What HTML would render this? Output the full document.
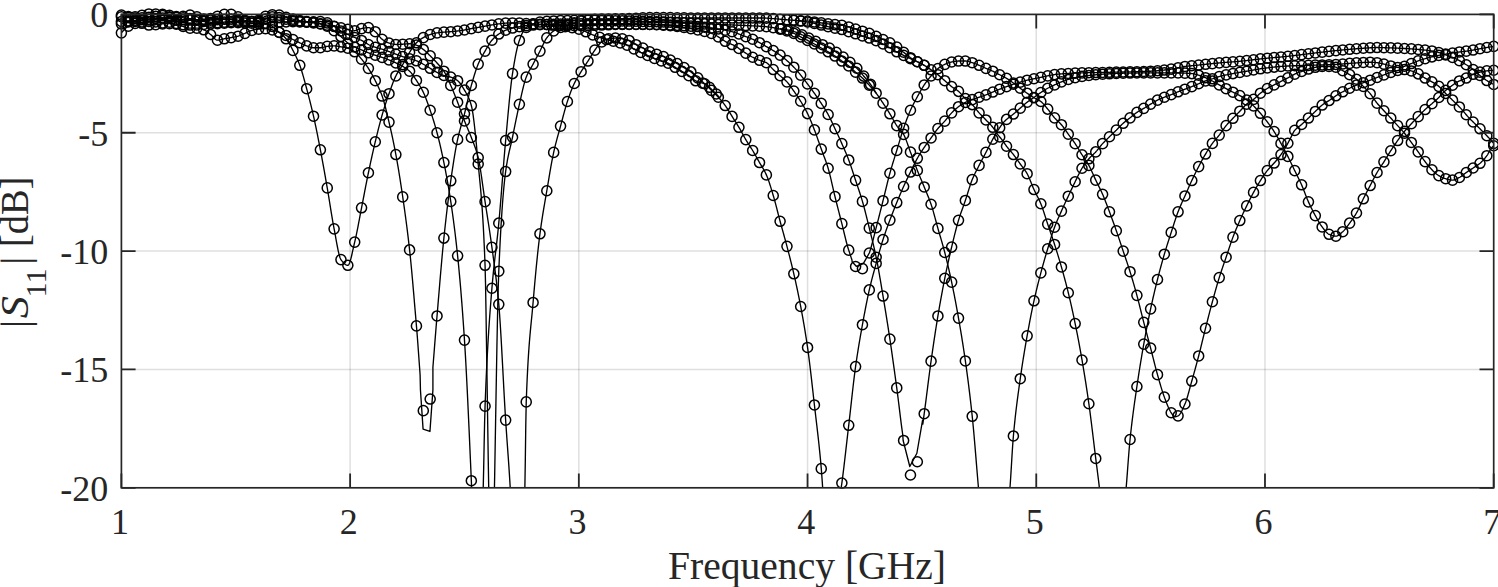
<!DOCTYPE html>
<html><head><meta charset="utf-8"><style>html,body{margin:0;padding:0;background:#fff;overflow:hidden}svg{display:block}</style></head>
<body><svg width="1498" height="587" viewBox="0 0 1498 587">
<defs><clipPath id="ax"><rect x="121.4" y="14.4" width="1372.3" height="473.40000000000003"/></clipPath></defs>
<rect width="1498" height="587" fill="#fff"/>
<g stroke="#262626" stroke-opacity="0.15" stroke-width="1.5"><line x1="350.12" y1="14.4" x2="350.12" y2="487.8"/><line x1="578.83" y1="14.4" x2="578.83" y2="487.8"/><line x1="807.55" y1="14.4" x2="807.55" y2="487.8"/><line x1="1036.27" y1="14.4" x2="1036.27" y2="487.8"/><line x1="1264.98" y1="14.4" x2="1264.98" y2="487.8"/><line x1="121.4" y1="132.75" x2="1493.7" y2="132.75"/><line x1="121.4" y1="251.10" x2="1493.7" y2="251.10"/><line x1="121.4" y1="369.45" x2="1493.7" y2="369.45"/></g>
<g clip-path="url(#ax)" fill="none" stroke="#000" stroke-width="1.35" stroke-linejoin="round"><polyline points="121.40,21.50 121.86,21.46 122.31,21.42 122.77,21.38 123.23,21.34 123.69,21.30 124.14,21.26 124.60,21.22 125.06,21.19 125.52,21.15 125.97,21.11 126.43,21.07 126.89,21.03 127.35,20.99 127.80,20.95 128.26,20.91 128.72,20.87 129.18,20.83 129.63,20.79 130.09,20.75 130.55,20.71 131.01,20.67 131.46,20.63 131.92,20.59 132.38,20.55 132.84,20.51 133.29,20.48 133.75,20.44 134.21,20.40 134.67,20.36 135.12,20.32 135.58,20.28 136.04,20.24 136.50,20.20 136.95,20.16 137.41,20.12 137.87,20.08 138.33,20.04 138.78,20.00 139.24,19.96 139.70,19.92 140.15,19.88 140.61,19.84 141.07,19.80 141.53,19.77 141.98,19.73 142.44,19.69 142.90,19.65 143.36,19.61 143.81,19.57 144.27,19.53 144.73,19.49 145.19,19.45 145.64,19.41 146.10,19.37 146.56,19.33 147.02,19.29 147.47,19.25 147.93,19.21 148.39,19.17 148.85,19.13 149.30,19.09 149.76,19.05 150.22,19.01 150.68,18.97 151.13,18.93 151.59,18.89 152.05,18.85 152.51,18.80 152.96,18.76 153.42,18.72 153.88,18.67 154.34,18.63 154.79,18.59 155.25,18.55 155.71,18.51 156.16,18.46 156.62,18.42 157.08,18.38 157.54,18.34 157.99,18.30 158.45,18.26 158.91,18.22 159.37,18.19 159.82,18.15 160.28,18.11 160.74,18.08 161.20,18.04 161.65,18.01 162.11,17.98 162.57,17.95 163.03,17.92 163.48,17.89 163.94,17.86 164.40,17.83 164.86,17.80 165.31,17.76 165.77,17.73 166.23,17.70 166.69,17.67 167.14,17.63 167.60,17.60 168.06,17.57 168.52,17.54 168.97,17.51 169.43,17.48 169.89,17.46 170.35,17.43 170.80,17.41 171.26,17.38 171.72,17.36 172.18,17.34 172.63,17.32 173.09,17.30 173.55,17.29 174.00,17.27 174.46,17.26 174.92,17.25 175.38,17.25 175.83,17.24 176.29,17.24 176.75,17.24 177.21,17.25 177.66,17.27 178.12,17.28 178.58,17.31 179.04,17.34 179.49,17.37 179.95,17.40 180.41,17.44 180.87,17.49 181.32,17.53 181.78,17.58 182.24,17.64 182.70,17.69 183.15,17.75 183.61,17.81 184.07,17.87 184.53,17.93 184.98,17.99 185.44,18.05 185.90,18.12 186.36,18.18 186.81,18.24 187.27,18.31 187.73,18.37 188.19,18.43 188.64,18.49 189.10,18.55 189.56,18.61 190.02,18.66 190.47,18.72 190.93,18.78 191.39,18.85 191.84,18.92 192.30,18.99 192.76,19.07 193.22,19.14 193.67,19.23 194.13,19.31 194.59,19.39 195.05,19.48 195.50,19.56 195.96,19.65 196.42,19.73 196.88,19.81 197.33,19.89 197.79,19.97 198.25,20.04 198.71,20.12 199.16,20.18 199.62,20.25 200.08,20.31 200.54,20.36 200.99,20.41 201.45,20.45 201.91,20.49 202.37,20.52 202.82,20.54 203.28,20.55 203.74,20.55 204.20,20.55 204.65,20.54 205.11,20.53 205.57,20.52 206.03,20.50 206.48,20.48 206.94,20.45 207.40,20.42 207.85,20.39 208.31,20.36 208.77,20.32 209.23,20.28 209.68,20.24 210.14,20.20 210.60,20.16 211.06,20.12 211.51,20.07 211.97,20.03 212.43,19.99 212.89,19.95 213.34,19.90 213.80,19.86 214.26,19.82 214.72,19.79 215.17,19.75 215.63,19.72 216.09,19.69 216.55,19.66 217.00,19.63 217.46,19.61 217.92,19.59 218.38,19.56 218.83,19.54 219.29,19.52 219.75,19.50 220.21,19.48 220.66,19.46 221.12,19.43 221.58,19.41 222.04,19.39 222.49,19.37 222.95,19.35 223.41,19.33 223.87,19.31 224.32,19.29 224.78,19.27 225.24,19.26 225.69,19.24 226.15,19.22 226.61,19.21 227.07,19.20 227.52,19.18 227.98,19.17 228.44,19.16 228.90,19.15 229.35,19.15 229.81,19.14 230.27,19.14 230.73,19.13 231.18,19.13 231.64,19.14 232.10,19.16 232.56,19.19 233.01,19.23 233.47,19.28 233.93,19.35 234.39,19.41 234.84,19.49 235.30,19.58 235.76,19.67 236.22,19.76 236.67,19.86 237.13,19.97 237.59,20.07 238.05,20.18 238.50,20.29 238.96,20.40 239.42,20.51 239.88,20.62 240.33,20.73 240.79,20.83 241.25,20.93 241.70,21.02 242.16,21.11 242.62,21.20 243.08,21.28 243.53,21.35 243.99,21.41 244.45,21.46 244.91,21.50 245.36,21.54 245.82,21.57 246.28,21.60 246.74,21.63 247.19,21.65 247.65,21.68 248.11,21.70 248.57,21.72 249.02,21.74 249.48,21.76 249.94,21.78 250.40,21.79 250.85,21.81 251.31,21.83 251.77,21.84 252.23,21.86 252.68,21.88 253.14,21.89 253.60,21.91 254.06,21.93 254.51,21.95 254.97,21.97 255.43,21.99 255.89,22.02 256.34,22.04 256.80,22.07 257.26,22.10 257.72,22.14 258.17,22.17 258.63,22.21 259.09,22.25 259.54,22.30 260.00,22.36 260.46,22.42 260.92,22.49 261.37,22.56 261.83,22.64 262.29,22.73 262.75,22.82 263.20,22.92 263.66,23.02 264.12,23.13 264.58,23.25 265.03,23.37 265.49,23.50 265.95,23.63 266.41,23.77 266.86,23.91 267.32,24.06 267.78,24.21 268.24,24.37 268.69,24.53 269.15,24.70 269.61,24.87 270.07,25.05 270.52,25.25 270.98,25.50 271.44,25.78 271.90,26.09 272.35,26.44 272.81,26.80 273.27,27.19 273.73,27.59 274.18,28.01 274.64,28.43 275.10,28.85 275.56,29.28 276.01,29.69 276.47,30.10 276.93,30.50 277.38,30.88 277.84,31.25 278.30,31.63 278.76,31.99 279.21,32.36 279.67,32.73 280.13,33.10 280.59,33.47 281.04,33.85 281.50,34.23 281.96,34.63 282.42,35.03 282.87,35.44 283.33,35.87 283.79,36.31 284.25,36.76 284.70,37.24 285.16,37.73 285.62,38.24 286.08,38.78 286.53,39.35 286.99,39.96 287.45,40.62 287.91,41.31 288.36,42.04 288.82,42.79 289.28,43.57 289.74,44.38 290.19,45.21 290.65,46.05 291.11,46.90 291.57,47.76 292.02,48.63 292.48,49.51 292.94,50.38 293.39,51.25 293.85,52.13 294.31,53.02 294.77,53.91 295.22,54.83 295.68,55.76 296.14,56.71 296.60,57.68 297.05,58.67 297.51,59.69 297.97,60.74 298.43,61.82 298.88,62.94 299.34,64.10 299.80,65.29 300.26,66.54 300.71,67.86 301.17,69.25 301.63,70.70 302.09,72.19 302.54,73.74 303.00,75.32 303.46,76.94 303.92,78.58 304.37,80.25 304.83,81.94 305.29,83.63 305.75,85.33 306.20,87.03 306.66,88.72 307.12,90.42 307.58,92.12 308.03,93.85 308.49,95.59 308.95,97.35 309.41,99.13 309.86,100.93 310.32,102.75 310.78,104.59 311.23,106.46 311.69,108.35 312.15,110.27 312.61,112.21 313.06,114.18 313.52,116.18 313.98,118.22 314.44,120.29 314.89,122.40 315.35,124.55 315.81,126.73 316.27,128.94 316.72,131.17 317.18,133.43 317.64,135.72 318.10,138.03 318.55,140.35 319.01,142.69 319.47,145.05 319.93,147.42 320.38,149.79 320.84,152.19 321.30,154.61 321.76,157.06 322.21,159.54 322.67,162.04 323.13,164.56 323.59,167.10 324.04,169.66 324.50,172.23 324.96,174.82 325.42,177.42 325.87,180.03 326.33,182.65 326.79,185.27 327.25,187.90 327.70,190.57 328.16,193.30 328.62,196.09 329.07,198.91 329.53,201.76 329.99,204.63 330.45,207.49 330.90,210.34 331.36,213.17 331.82,215.95 332.28,218.69 332.73,221.36 333.19,223.95 333.65,226.45 334.11,228.85 334.56,231.24 335.02,233.72 335.48,236.24 335.94,238.79 336.39,241.32 336.85,243.82 337.31,246.25 337.77,248.58 338.22,250.78 338.68,252.83 339.14,254.68 339.60,256.32 340.05,257.71 340.51,258.82 340.97,259.62 341.43,260.25 341.88,260.86 342.34,261.44 342.80,261.99 343.26,262.51 343.71,263.00 344.17,263.45 344.63,263.86 345.08,264.22 345.54,264.54 346.00,264.81 346.46,265.02 346.91,265.17 347.37,265.27 347.83,265.30 348.29,265.12 348.74,264.60 349.20,263.78 349.66,262.68 350.12,261.34 350.57,259.79 351.03,258.08 351.49,256.22 351.95,254.26 352.40,252.22 352.86,250.14 353.32,248.06 353.78,246.01 354.23,244.01 354.69,242.11 355.15,240.20 355.61,238.20 356.06,236.10 356.52,233.92 356.98,231.67 357.44,229.37 357.89,227.01 358.35,224.62 358.81,222.20 359.27,219.77 359.72,217.33 360.18,214.91 360.64,212.50 361.10,210.12 361.55,207.78 362.01,205.46 362.47,203.12 362.92,200.76 363.38,198.38 363.84,196.00 364.30,193.62 364.75,191.24 365.21,188.86 365.67,186.49 366.13,184.14 366.58,181.81 367.04,179.50 367.50,177.21 367.96,174.97 368.41,172.75 368.87,170.57 369.33,168.39 369.79,166.24 370.24,164.09 370.70,161.97 371.16,159.86 371.62,157.77 372.07,155.69 372.53,153.64 372.99,151.60 373.45,149.59 373.90,147.59 374.36,145.62 374.82,143.67 375.28,141.74 375.73,139.83 376.19,137.93 376.65,136.05 377.11,134.17 377.56,132.31 378.02,130.47 378.48,128.65 378.93,126.85 379.39,125.07 379.85,123.32 380.31,121.59 380.76,119.90 381.22,118.23 381.68,116.60 382.14,115.00 382.59,113.43 383.05,111.89 383.51,110.37 383.97,108.87 384.42,107.40 384.88,105.94 385.34,104.51 385.80,103.10 386.25,101.71 386.71,100.33 387.17,98.97 387.63,97.63 388.08,96.30 388.54,94.99 389.00,93.69 389.46,92.40 389.91,91.11 390.37,89.81 390.83,88.53 391.29,87.25 391.74,85.99 392.20,84.74 392.66,83.52 393.12,82.33 393.57,81.16 394.03,80.03 394.49,78.94 394.95,77.89 395.40,76.89 395.86,75.94 396.32,75.04 396.77,74.18 397.23,73.36 397.69,72.58 398.15,71.82 398.60,71.08 399.06,70.36 399.52,69.65 399.98,68.95 400.43,68.25 400.89,67.55 401.35,66.83 401.81,66.10 402.26,65.35 402.72,64.58 403.18,63.78 403.64,62.96 404.09,62.13 404.55,61.29 405.01,60.43 405.47,59.57 405.92,58.72 406.38,57.86 406.84,57.01 407.30,56.17 407.75,55.35 408.21,54.54 408.67,53.76 409.13,53.00 409.58,52.27 410.04,51.56 410.50,50.84 410.96,50.13 411.41,49.43 411.87,48.73 412.33,48.04 412.79,47.37 413.24,46.71 413.70,46.08 414.16,45.46 414.61,44.87 415.07,44.31 415.53,43.77 415.99,43.27 416.44,42.80 416.90,42.36 417.36,41.94 417.82,41.53 418.27,41.13 418.73,40.75 419.19,40.37 419.65,40.02 420.10,39.67 420.56,39.34 421.02,39.02 421.48,38.71 421.93,38.42 422.39,38.13 422.85,37.86 423.31,37.60 423.76,37.34 424.22,37.09 424.68,36.85 425.14,36.61 425.59,36.39 426.05,36.16 426.51,35.95 426.97,35.74 427.42,35.54 427.88,35.35 428.34,35.17 428.80,34.99 429.25,34.83 429.71,34.67 430.17,34.52 430.62,34.38 431.08,34.24 431.54,34.10 432.00,33.97 432.45,33.84 432.91,33.72 433.37,33.60 433.83,33.49 434.28,33.38 434.74,33.28 435.20,33.18 435.66,33.09 436.11,33.01 436.57,32.93 437.03,32.86 437.49,32.80 437.94,32.74 438.40,32.68 438.86,32.63 439.32,32.57 439.77,32.52 440.23,32.48 440.69,32.43 441.15,32.39 441.60,32.35 442.06,32.31 442.52,32.27 442.98,32.23 443.43,32.19 443.89,32.15 444.35,32.12 444.81,32.08 445.26,32.05 445.72,32.02 446.18,31.99 446.64,31.96 447.09,31.93 447.55,31.90 448.01,31.87 448.46,31.84 448.92,31.81 449.38,31.78 449.84,31.75 450.29,31.72 450.75,31.68 451.21,31.64 451.67,31.60 452.12,31.56 452.58,31.52 453.04,31.47 453.50,31.43 453.95,31.38 454.41,31.33 454.87,31.28 455.33,31.23 455.78,31.18 456.24,31.13 456.70,31.08 457.16,31.02 457.61,30.97 458.07,30.91 458.53,30.86 458.99,30.80 459.44,30.75 459.90,30.69 460.36,30.63 460.82,30.57 461.27,30.50 461.73,30.44 462.19,30.38 462.65,30.31 463.10,30.24 463.56,30.17 464.02,30.10 464.48,30.02 464.93,29.94 465.39,29.86 465.85,29.77 466.30,29.68 466.76,29.58 467.22,29.48 467.68,29.38 468.13,29.28 468.59,29.18 469.05,29.08 469.51,28.98 469.96,28.88 470.42,28.78 470.88,28.69 471.34,28.60 471.79,28.52 472.25,28.43 472.71,28.35 473.17,28.27 473.62,28.19 474.08,28.12 474.54,28.04 475.00,27.96 475.45,27.89 475.91,27.81 476.37,27.73 476.83,27.66 477.28,27.58 477.74,27.50 478.20,27.42 478.66,27.34 479.11,27.26 479.57,27.17 480.03,27.09 480.49,27.01 480.94,26.92 481.40,26.84 481.86,26.75 482.31,26.67 482.77,26.59 483.23,26.50 483.69,26.42 484.14,26.33 484.60,26.25 485.06,26.17 485.52,26.09 485.97,26.00 486.43,25.92 486.89,25.84 487.35,25.76 487.80,25.68 488.26,25.60 488.72,25.52 489.18,25.44 489.63,25.35 490.09,25.27 490.55,25.18 491.01,25.10 491.46,25.01 491.92,24.93 492.38,24.85 492.84,24.77 493.29,24.68 493.75,24.60 494.21,24.53 494.67,24.45 495.12,24.37 495.58,24.30 496.04,24.23 496.50,24.16 496.95,24.10 497.41,24.04 497.87,23.98 498.33,23.92 498.78,23.87 499.24,23.82 499.70,23.77 500.15,23.71 500.61,23.66 501.07,23.61 501.53,23.56 501.98,23.50 502.44,23.45 502.90,23.40 503.36,23.35 503.81,23.31 504.27,23.26 504.73,23.21 505.19,23.17 505.64,23.13 506.10,23.10 506.56,23.06 507.02,23.03 507.47,23.00 507.93,22.98 508.39,22.96 508.85,22.94 509.30,22.93 509.76,22.92 510.22,22.92 510.68,22.92 511.13,22.92 511.59,22.93 512.05,22.93 512.51,22.94 512.96,22.95 513.42,22.96 513.88,22.97 514.34,22.98 514.79,22.99 515.25,23.00 515.71,23.02 516.16,23.03 516.62,23.05 517.08,23.07 517.54,23.08 517.99,23.10 518.45,23.12 518.91,23.14 519.37,23.16 519.82,23.19 520.28,23.21 520.74,23.23 521.20,23.25 521.65,23.28 522.11,23.30 522.57,23.32 523.03,23.35 523.48,23.37 523.94,23.40 524.40,23.42 524.86,23.45 525.31,23.47 525.77,23.50 526.23,23.52 526.69,23.55 527.14,23.57 527.60,23.60 528.06,23.62 528.52,23.65 528.97,23.67 529.43,23.70 529.89,23.72 530.35,23.74 530.80,23.76 531.26,23.79 531.72,23.81 532.18,23.83 532.63,23.85 533.09,23.87 533.55,23.89 534.00,23.91 534.46,23.93 534.92,23.95 535.38,23.97 535.83,23.99 536.29,24.01 536.75,24.03 537.21,24.05 537.66,24.07 538.12,24.10 538.58,24.12 539.04,24.14 539.49,24.17 539.95,24.19 540.41,24.21 540.87,24.24 541.32,24.26 541.78,24.28 542.24,24.31 542.70,24.33 543.15,24.36 543.61,24.38 544.07,24.41 544.53,24.43 544.98,24.46 545.44,24.48 545.90,24.51 546.36,24.53 546.81,24.56 547.27,24.58 547.73,24.61 548.19,24.63 548.64,24.66 549.10,24.68 549.56,24.71 550.02,24.73 550.47,24.76 550.93,24.78 551.39,24.81 551.84,24.83 552.30,24.86 552.76,24.88 553.22,24.91 553.67,24.93 554.13,24.96 554.59,24.98 555.05,25.00 555.50,25.03 555.96,25.05 556.42,25.08 556.88,25.10 557.33,25.12 557.79,25.14 558.25,25.17 558.71,25.19 559.16,25.21 559.62,25.23 560.08,25.26 560.54,25.28 560.99,25.30 561.45,25.32 561.91,25.34 562.37,25.36 562.82,25.38 563.28,25.40 563.74,25.42 564.20,25.44 564.65,25.45 565.11,25.47 565.57,25.49 566.03,25.51 566.48,25.52 566.94,25.54 567.40,25.55 567.85,25.57 568.31,25.58 568.77,25.60 569.23,25.61 569.68,25.63 570.14,25.64 570.60,25.65 571.06,25.66 571.51,25.67 571.97,25.68 572.43,25.69 572.89,25.70 573.34,25.71 573.80,25.72 574.26,25.73 574.72,25.73 575.17,25.74 575.63,25.74 576.09,25.75 576.55,25.75 577.00,25.76 577.46,25.76 577.92,25.76 578.38,25.76 578.83,25.76 579.29,25.76 579.75,25.76 580.21,25.76 580.66,25.75 581.12,25.75 581.58,25.74 582.04,25.74 582.49,25.73 582.95,25.72 583.41,25.71 583.87,25.70 584.32,25.69 584.78,25.68 585.24,25.67 585.69,25.65 586.15,25.64 586.61,25.63 587.07,25.61 587.52,25.60 587.98,25.58 588.44,25.56 588.90,25.55 589.35,25.53 589.81,25.51 590.27,25.50 590.73,25.48 591.18,25.46 591.64,25.44 592.10,25.42 592.56,25.40 593.01,25.38 593.47,25.37 593.93,25.35 594.39,25.33 594.84,25.31 595.30,25.29 595.76,25.27 596.22,25.25 596.67,25.23 597.13,25.22 597.59,25.20 598.05,25.18 598.50,25.16 598.96,25.15 599.42,25.13 599.88,25.11 600.33,25.10 600.79,25.08 601.25,25.07 601.71,25.05 602.16,25.04 602.62,25.02 603.08,25.01 603.53,24.99 603.99,24.97 604.45,24.96 604.91,24.94 605.36,24.92 605.82,24.90 606.28,24.89 606.74,24.87 607.19,24.85 607.65,24.83 608.11,24.81 608.57,24.79 609.02,24.77 609.48,24.76 609.94,24.74 610.40,24.72 610.85,24.70 611.31,24.68 611.77,24.66 612.23,24.64 612.68,24.63 613.14,24.61 613.60,24.59 614.06,24.57 614.51,24.56 614.97,24.54 615.43,24.52 615.89,24.51 616.34,24.49 616.80,24.48 617.26,24.46 617.72,24.45 618.17,24.44 618.63,24.42 619.09,24.41 619.54,24.40 620.00,24.39 620.46,24.38 620.92,24.37 621.37,24.37 621.83,24.36 622.29,24.35 622.75,24.35 623.20,24.35 623.66,24.34 624.12,24.34 624.58,24.34 625.03,24.34 625.49,24.34 625.95,24.34 626.41,24.34 626.86,24.34 627.32,24.34 627.78,24.34 628.24,24.34 628.69,24.34 629.15,24.34 629.61,24.34 630.07,24.34 630.52,24.34 630.98,24.34 631.44,24.34 631.90,24.34 632.35,24.34 632.81,24.34 633.27,24.34 633.73,24.34 634.18,24.34 634.64,24.34 635.10,24.34 635.56,24.34 636.01,24.34 636.47,24.34 636.93,24.34 637.38,24.34 637.84,24.34 638.30,24.34 638.76,24.34 639.21,24.34 639.67,24.34 640.13,24.34 640.59,24.34 641.04,24.34 641.50,24.34 641.96,24.34 642.42,24.34 642.87,24.34 643.33,24.34 643.79,24.34 644.25,24.34 644.70,24.34 645.16,24.34 645.62,24.34 646.08,24.34 646.53,24.34 646.99,24.34 647.45,24.34 647.91,24.34 648.36,24.34 648.82,24.35 649.28,24.36 649.74,24.36 650.19,24.37 650.65,24.38 651.11,24.40 651.57,24.41 652.02,24.43 652.48,24.44 652.94,24.46 653.39,24.48 653.85,24.50 654.31,24.52 654.77,24.55 655.22,24.57 655.68,24.60 656.14,24.62 656.60,24.65 657.05,24.68 657.51,24.71 657.97,24.74 658.43,24.77 658.88,24.80 659.34,24.84 659.80,24.87 660.26,24.90 660.71,24.94 661.17,24.98 661.63,25.01 662.09,25.05 662.54,25.09 663.00,25.12 663.46,25.16 663.92,25.20 664.37,25.24 664.83,25.28 665.29,25.32 665.75,25.36 666.20,25.40 666.66,25.44 667.12,25.48 667.58,25.52 668.03,25.56 668.49,25.60 668.95,25.64 669.41,25.68 669.86,25.72 670.32,25.76 670.78,25.80 671.23,25.84 671.69,25.89 672.15,25.93 672.61,25.98 673.06,26.03 673.52,26.07 673.98,26.12 674.44,26.18 674.89,26.23 675.35,26.28 675.81,26.34 676.27,26.39 676.72,26.45 677.18,26.51 677.64,26.57 678.10,26.63 678.55,26.69 679.01,26.75 679.47,26.82 679.93,26.88 680.38,26.95 680.84,27.02 681.30,27.08 681.76,27.15 682.21,27.22 682.67,27.29 683.13,27.36 683.59,27.43 684.04,27.51 684.50,27.58 684.96,27.65 685.42,27.73 685.87,27.80 686.33,27.88 686.79,27.96 687.25,28.03 687.70,28.11 688.16,28.19 688.62,28.27 689.07,28.35 689.53,28.43 689.99,28.51 690.45,28.59 690.90,28.67 691.36,28.75 691.82,28.83 692.28,28.91 692.73,28.99 693.19,29.08 693.65,29.16 694.11,29.24 694.56,29.32 695.02,29.41 695.48,29.49 695.94,29.57 696.39,29.66 696.85,29.74 697.31,29.83 697.77,29.92 698.22,30.01 698.68,30.10 699.14,30.19 699.60,30.28 700.05,30.37 700.51,30.46 700.97,30.56 701.43,30.66 701.88,30.75 702.34,30.85 702.80,30.96 703.26,31.06 703.71,31.17 704.17,31.27 704.63,31.38 705.08,31.49 705.54,31.61 706.00,31.73 706.46,31.84 706.91,31.97 707.37,32.09 707.83,32.22 708.29,32.35 708.74,32.48 709.20,32.61 709.66,32.75 710.12,32.89 710.57,33.04 711.03,33.18 711.49,33.34 711.95,33.50 712.40,33.67 712.86,33.86 713.32,34.06 713.78,34.27 714.23,34.49 714.69,34.72 715.15,34.96 715.61,35.21 716.06,35.47 716.52,35.74 716.98,36.01 717.44,36.29 717.89,36.58 718.35,36.87 718.81,37.16 719.27,37.46 719.72,37.76 720.18,38.06 720.64,38.36 721.10,38.67 721.55,38.97 722.01,39.27 722.47,39.57 722.92,39.87 723.38,40.17 723.84,40.46 724.30,40.75 724.75,41.03 725.21,41.30 725.67,41.57 726.13,41.84 726.58,42.09 727.04,42.34 727.50,42.58 727.96,42.80 728.41,43.02 728.87,43.23 729.33,43.42 729.79,43.61 730.24,43.80 730.70,43.98 731.16,44.16 731.62,44.34 732.07,44.53 732.53,44.71 732.99,44.90 733.45,45.10 733.90,45.31 734.36,45.53 734.82,45.76 735.28,46.01 735.73,46.27 736.19,46.56 736.65,46.86 737.11,47.17 737.56,47.49 738.02,47.82 738.48,48.16 738.94,48.50 739.39,48.84 739.85,49.17 740.31,49.51 740.76,49.83 741.22,50.14 741.68,50.45 742.14,50.75 742.59,51.06 743.05,51.36 743.51,51.67 743.97,51.97 744.42,52.27 744.88,52.57 745.34,52.87 745.80,53.16 746.25,53.45 746.71,53.74 747.17,54.02 747.63,54.31 748.08,54.59 748.54,54.87 749.00,55.15 749.46,55.43 749.91,55.70 750.37,55.98 750.83,56.24 751.29,56.50 751.74,56.76 752.20,57.00 752.66,57.24 753.12,57.47 753.57,57.70 754.03,57.93 754.49,58.15 754.95,58.36 755.40,58.57 755.86,58.78 756.32,58.99 756.77,59.19 757.23,59.39 757.69,59.58 758.15,59.77 758.60,59.96 759.06,60.14 759.52,60.32 759.98,60.49 760.43,60.65 760.89,60.80 761.35,60.94 761.81,61.07 762.26,61.20 762.72,61.33 763.18,61.46 763.64,61.60 764.09,61.75 764.55,61.91 765.01,62.08 765.47,62.26 765.92,62.46 766.38,62.69 766.84,62.95 767.30,63.27 767.75,63.64 768.21,64.06 768.67,64.51 769.13,64.99 769.58,65.49 770.04,66.01 770.50,66.54 770.96,67.07 771.41,67.60 771.87,68.12 772.33,68.62 772.79,69.10 773.24,69.55 773.70,69.98 774.16,70.41 774.61,70.82 775.07,71.24 775.53,71.65 775.99,72.06 776.44,72.47 776.90,72.87 777.36,73.28 777.82,73.68 778.27,74.08 778.73,74.49 779.19,74.89 779.65,75.30 780.10,75.71 780.56,76.11 781.02,76.51 781.48,76.90 781.93,77.28 782.39,77.67 782.85,78.05 783.31,78.43 783.76,78.82 784.22,79.22 784.68,79.63 785.14,80.04 785.59,80.47 786.05,80.92 786.51,81.38 786.97,81.86 787.42,82.37 787.88,82.90 788.34,83.46 788.80,84.03 789.25,84.63 789.71,85.24 790.17,85.87 790.62,86.51 791.08,87.16 791.54,87.81 792.00,88.47 792.45,89.13 792.91,89.79 793.37,90.44 793.83,91.09 794.28,91.74 794.74,92.38 795.20,93.03 795.66,93.68 796.11,94.34 796.57,95.00 797.03,95.66 797.49,96.33 797.94,97.01 798.40,97.70 798.86,98.39 799.32,99.09 799.77,99.81 800.23,100.53 800.69,101.27 801.15,102.01 801.60,102.77 802.06,103.53 802.52,104.29 802.98,105.07 803.43,105.86 803.89,106.66 804.35,107.47 804.81,108.29 805.26,109.13 805.72,109.99 806.18,110.86 806.64,111.75 807.09,112.65 807.55,113.58 808.01,114.53 808.46,115.51 808.92,116.51 809.38,117.54 809.84,118.58 810.29,119.65 810.75,120.74 811.21,121.85 811.67,122.97 812.12,124.10 812.58,125.25 813.04,126.40 813.50,127.57 813.95,128.74 814.41,129.91 814.87,131.10 815.33,132.31 815.78,133.55 816.24,134.80 816.70,136.07 817.16,137.36 817.61,138.65 818.07,139.96 818.53,141.27 818.99,142.58 819.44,143.89 819.90,145.20 820.36,146.50 820.82,147.80 821.27,149.08 821.73,150.35 822.19,151.58 822.65,152.80 823.10,154.00 823.56,155.20 824.02,156.39 824.48,157.60 824.93,158.81 825.39,160.05 825.85,161.31 826.30,162.61 826.76,163.94 827.22,165.33 827.68,166.76 828.13,168.26 828.59,169.83 829.05,171.50 829.51,173.25 829.96,175.08 830.42,176.96 830.88,178.89 831.34,180.86 831.79,182.86 832.25,184.87 832.71,186.89 833.17,188.90 833.62,190.90 834.08,192.86 834.54,194.78 835.00,196.66 835.45,198.50 835.91,200.33 836.37,202.15 836.83,203.97 837.28,205.77 837.74,207.58 838.20,209.37 838.66,211.16 839.11,212.95 839.57,214.73 840.03,216.52 840.49,218.30 840.94,220.08 841.40,221.86 841.86,223.64 842.31,225.45 842.77,227.30 843.23,229.18 843.69,231.07 844.14,232.98 844.60,234.89 845.06,236.78 845.52,238.64 845.97,240.48 846.43,242.27 846.89,244.00 847.35,245.66 847.80,247.25 848.26,248.75 848.72,250.15 849.18,251.52 849.63,252.91 850.09,254.32 850.55,255.72 851.01,257.10 851.46,258.45 851.92,259.75 852.15,261.75 856.27,266.25 860.15,265.30 863.59,263.17 869.30,252.99 869.30,252.99 869.76,251.66 870.22,250.23 870.68,248.72 871.13,247.14 871.59,245.50 872.05,243.80 872.51,242.06 872.96,240.29 873.42,238.49 873.88,236.67 874.34,234.85 874.79,233.03 875.25,231.22 875.71,229.43 876.17,227.67 876.62,225.92 877.08,224.16 877.54,222.39 877.99,220.61 878.45,218.82 878.91,217.02 879.37,215.21 879.82,213.41 880.28,211.59 880.74,209.78 881.20,207.96 881.65,206.14 882.11,204.32 882.57,202.50 883.03,200.68 883.48,198.86 883.94,197.01 884.40,195.14 884.86,193.26 885.31,191.37 885.77,189.49 886.23,187.60 886.69,185.72 887.14,183.86 887.60,182.01 888.06,180.19 888.52,178.39 888.97,176.63 889.43,174.91 889.89,173.23 890.35,171.59 890.80,169.98 891.26,168.40 891.72,166.85 892.18,165.32 892.63,163.80 893.09,162.31 893.55,160.83 894.00,159.35 894.46,157.88 894.92,156.42 895.38,154.95 895.83,153.48 896.29,151.99 896.75,150.50 897.21,149.00 897.66,147.48 898.12,145.95 898.58,144.41 899.04,142.88 899.49,141.34 899.95,139.81 900.41,138.30 900.87,136.79 901.32,135.30 901.78,133.84 902.24,132.39 902.70,130.98 903.15,129.60 903.61,128.25 904.07,126.93 904.53,125.62 904.98,124.33 905.44,123.05 905.90,121.78 906.36,120.54 906.81,119.31 907.27,118.10 907.73,116.91 908.19,115.74 908.64,114.59 909.10,113.47 909.56,112.38 910.02,111.31 910.47,110.26 910.93,109.25 911.39,108.26 911.84,107.29 912.30,106.34 912.76,105.42 913.22,104.50 913.67,103.61 914.13,102.73 914.59,101.86 915.05,101.00 915.50,100.14 915.96,99.30 916.42,98.45 916.88,97.61 917.33,96.77 917.79,95.93 918.25,95.09 918.71,94.25 919.16,93.42 919.62,92.59 920.08,91.77 920.54,90.96 920.99,90.16 921.45,89.36 921.91,88.59 922.37,87.82 922.82,87.07 923.28,86.34 923.74,85.63 924.20,84.94 924.65,84.26 925.11,83.60 925.57,82.95 926.03,82.31 926.48,81.69 926.94,81.07 927.40,80.47 927.85,79.88 928.31,79.29 928.77,78.71 929.23,78.15 929.68,77.58 930.14,77.03 930.60,76.48 931.06,75.94 931.51,75.40 931.97,74.86 932.43,74.32 932.89,73.78 933.34,73.24 933.80,72.71 934.26,72.19 934.72,71.68 935.17,71.19 935.63,70.71 936.09,70.24 936.55,69.80 937.00,69.38 937.46,68.98 937.92,68.60 938.38,68.25 938.83,67.90 939.29,67.57 939.75,67.24 940.21,66.93 940.66,66.62 941.12,66.32 941.58,66.04 942.04,65.76 942.49,65.50 942.95,65.25 943.41,65.00 943.87,64.77 944.32,64.55 944.78,64.34 945.24,64.14 945.69,63.94 946.15,63.75 946.61,63.56 947.07,63.38 947.52,63.20 947.98,63.03 948.44,62.87 948.90,62.71 949.35,62.57 949.81,62.43 950.27,62.30 950.73,62.18 951.18,62.07 951.64,61.98 952.10,61.89 952.56,61.80 953.01,61.71 953.47,61.62 953.93,61.53 954.39,61.45 954.84,61.37 955.30,61.30 955.76,61.23 956.22,61.18 956.67,61.13 957.13,61.09 957.59,61.06 958.05,61.04 958.50,61.03 958.96,61.03 959.42,61.03 959.88,61.03 960.33,61.03 960.79,61.03 961.25,61.03 961.71,61.03 962.16,61.03 962.62,61.03 963.08,61.03 963.53,61.03 963.99,61.03 964.45,61.03 964.91,61.03 965.36,61.03 965.82,61.04 966.28,61.08 966.74,61.14 967.19,61.21 967.65,61.31 968.11,61.42 968.57,61.54 969.02,61.67 969.48,61.81 969.94,61.96 970.40,62.11 970.85,62.26 971.31,62.40 971.77,62.55 972.23,62.69 972.68,62.83 973.14,62.97 973.60,63.13 974.06,63.29 974.51,63.45 974.97,63.62 975.43,63.80 975.89,63.98 976.34,64.16 976.80,64.35 977.26,64.53 977.72,64.72 978.17,64.91 978.63,65.10 979.09,65.29 979.54,65.48 980.00,65.68 980.46,65.88 980.92,66.08 981.37,66.29 981.83,66.50 982.29,66.71 982.75,66.92 983.20,67.13 983.66,67.34 984.12,67.55 984.58,67.76 985.03,67.97 985.49,68.17 985.95,68.37 986.41,68.56 986.86,68.75 987.32,68.94 987.78,69.12 988.24,69.31 988.69,69.49 989.15,69.67 989.61,69.85 990.07,70.04 990.52,70.22 990.98,70.41 991.44,70.60 991.90,70.80 992.35,71.00 992.81,71.21 993.27,71.42 993.73,71.64 994.18,71.87 994.64,72.10 995.10,72.33 995.56,72.57 996.01,72.81 996.47,73.06 996.93,73.30 997.38,73.55 997.84,73.79 998.30,74.04 998.76,74.28 999.21,74.52 999.67,74.76 1000.13,74.99 1000.59,75.22 1001.04,75.45 1001.50,75.68 1001.96,75.90 1002.42,76.13 1002.87,76.36 1003.33,76.58 1003.79,76.82 1004.25,77.05 1004.70,77.29 1005.16,77.53 1005.62,77.78 1006.08,78.04 1006.53,78.31 1006.99,78.58 1007.45,78.87 1007.91,79.16 1008.36,79.46 1008.82,79.77 1009.28,80.08 1009.74,80.40 1010.19,80.73 1010.65,81.05 1011.11,81.38 1011.57,81.71 1012.02,82.05 1012.48,82.38 1012.94,82.71 1013.40,83.04 1013.85,83.38 1014.31,83.71 1014.77,84.06 1015.22,84.40 1015.68,84.75 1016.14,85.10 1016.60,85.45 1017.05,85.81 1017.51,86.16 1017.97,86.51 1018.43,86.87 1018.88,87.22 1019.34,87.56 1019.80,87.91 1020.26,88.25 1020.71,88.59 1021.17,88.93 1021.63,89.27 1022.09,89.61 1022.54,89.94 1023.00,90.28 1023.46,90.61 1023.92,90.95 1024.37,91.28 1024.83,91.61 1025.29,91.94 1025.75,92.26 1026.20,92.59 1026.66,92.90 1027.12,93.22 1027.58,93.54 1028.03,93.85 1028.49,94.16 1028.95,94.47 1029.41,94.78 1029.86,95.09 1030.32,95.39 1030.78,95.70 1031.23,96.00 1031.69,96.29 1032.15,96.59 1032.61,96.88 1033.06,97.16 1033.52,97.44 1033.98,97.72 1034.44,97.98 1034.89,98.24 1035.35,98.48 1035.81,98.71 1036.27,98.94 1036.72,99.16 1037.18,99.38 1037.64,99.61 1038.10,99.84 1038.55,100.08 1039.01,100.33 1039.47,100.60 1039.93,100.88 1040.38,101.18 1040.84,101.51 1041.30,101.86 1041.76,102.25 1042.21,102.68 1042.67,103.13 1043.13,103.62 1043.59,104.12 1044.04,104.64 1044.50,105.18 1044.96,105.73 1045.42,106.29 1045.87,106.85 1046.33,107.41 1046.79,107.98 1047.25,108.53 1047.70,109.08 1048.16,109.63 1048.62,110.20 1049.07,110.78 1049.53,111.38 1049.99,111.98 1050.45,112.59 1050.90,113.21 1051.36,113.82 1051.82,114.43 1052.28,115.03 1052.73,115.62 1053.19,116.20 1053.65,116.77 1054.11,117.31 1054.56,117.84 1055.02,118.34 1055.48,118.82 1055.94,119.28 1056.39,119.73 1056.85,120.17 1057.31,120.60 1057.77,121.02 1058.22,121.45 1058.68,121.88 1059.14,122.31 1059.60,122.76 1060.05,123.22 1060.51,123.69 1060.97,124.18 1061.43,124.70 1061.88,125.25 1062.34,125.81 1062.80,126.40 1063.26,127.01 1063.71,127.63 1064.17,128.27 1064.63,128.92 1065.08,129.58 1065.54,130.24 1066.00,130.90 1066.46,131.57 1066.91,132.23 1067.37,132.88 1067.83,133.53 1068.29,134.17 1068.74,134.80 1069.20,135.42 1069.66,136.04 1070.12,136.66 1070.57,137.27 1071.03,137.88 1071.49,138.50 1071.95,139.12 1072.40,139.74 1072.86,140.37 1073.32,141.00 1073.78,141.65 1074.23,142.30 1074.69,142.96 1075.15,143.64 1075.61,144.33 1076.06,145.04 1076.52,145.76 1076.98,146.49 1077.44,147.23 1077.89,147.98 1078.35,148.74 1078.81,149.50 1079.27,150.26 1079.72,151.02 1080.18,151.78 1080.64,152.54 1081.10,153.29 1081.55,154.03 1082.01,154.76 1082.47,155.48 1082.92,156.18 1083.38,156.87 1083.84,157.55 1084.30,158.22 1084.75,158.89 1085.21,159.57 1085.67,160.25 1086.13,160.93 1086.58,161.63 1087.04,162.34 1087.50,163.08 1087.96,163.83 1088.41,164.61 1088.87,165.41 1089.33,166.26 1089.79,167.14 1090.24,168.06 1090.70,169.01 1091.16,169.98 1091.62,170.97 1092.07,171.98 1092.53,173.00 1092.99,174.03 1093.45,175.06 1093.90,176.09 1094.36,177.11 1094.82,178.12 1095.28,179.12 1095.73,180.09 1096.19,181.04 1096.65,181.98 1097.11,182.91 1097.56,183.83 1098.02,184.75 1098.48,185.66 1098.94,186.58 1099.39,187.49 1099.85,188.42 1100.31,189.36 1100.76,190.30 1101.22,191.27 1101.68,192.25 1102.14,193.26 1102.59,194.29 1103.05,195.35 1103.51,196.43 1103.97,197.54 1104.42,198.66 1104.88,199.81 1105.34,200.97 1105.80,202.14 1106.25,203.33 1106.71,204.53 1107.17,205.73 1107.63,206.94 1108.08,208.16 1108.54,209.38 1109.00,210.59 1109.46,211.81 1109.91,213.02 1110.37,214.25 1110.83,215.48 1111.29,216.72 1111.74,217.96 1112.20,219.21 1112.66,220.47 1113.12,221.73 1113.57,223.00 1114.03,224.28 1114.49,225.56 1114.95,226.85 1115.40,228.14 1115.86,229.44 1116.32,230.74 1116.77,232.06 1117.23,233.38 1117.69,234.72 1118.15,236.06 1118.60,237.41 1119.06,238.77 1119.52,240.13 1119.98,241.50 1120.43,242.87 1120.89,244.24 1121.35,245.62 1121.81,246.99 1122.26,248.36 1122.72,249.73 1123.18,251.10 1123.64,252.46 1124.09,253.81 1124.55,255.16 1125.01,256.50 1125.47,257.84 1125.92,259.18 1126.38,260.53 1126.84,261.88 1127.30,263.24 1127.75,264.61 1128.21,265.99 1128.67,267.39 1129.13,268.80 1129.58,270.24 1130.04,271.69 1130.50,273.17 1130.96,274.66 1131.41,276.17 1131.87,277.69 1132.33,279.22 1132.79,280.78 1133.24,282.34 1133.70,283.92 1134.16,285.51 1134.61,287.12 1135.07,288.74 1135.53,290.38 1135.99,292.03 1136.44,293.69 1136.90,295.36 1137.36,297.06 1137.82,298.79 1138.27,300.55 1138.73,302.34 1139.19,304.14 1139.65,305.96 1140.10,307.79 1140.56,309.63 1141.02,311.47 1141.48,313.31 1141.93,315.15 1142.39,316.97 1142.85,318.78 1143.31,320.58 1143.76,322.35 1144.22,324.10 1144.68,325.84 1145.14,327.57 1145.59,329.29 1146.05,331.01 1146.51,332.72 1146.97,334.42 1147.42,336.13 1147.88,337.83 1148.34,339.54 1148.80,341.25 1149.25,342.96 1149.71,344.68 1150.17,346.41 1150.63,348.15 1151.08,349.90 1151.54,351.68 1152.00,353.47 1152.45,355.28 1152.91,357.09 1153.37,358.91 1153.83,360.72 1154.28,362.53 1154.74,364.33 1155.20,366.12 1155.66,367.88 1156.11,369.62 1156.57,371.34 1157.03,373.01 1157.49,374.66 1157.94,376.28 1158.40,377.90 1158.86,379.52 1159.32,381.13 1159.77,382.73 1160.23,384.31 1160.69,385.87 1161.15,387.40 1161.60,388.91 1162.06,390.39 1162.52,391.82 1162.98,393.22 1163.43,394.58 1163.89,395.89 1164.35,397.14 1164.81,398.37 1165.26,399.59 1165.72,400.80 1166.18,401.99 1166.64,403.17 1167.09,404.31 1167.55,405.43 1168.01,406.51 1168.46,407.56 1168.92,408.56 1169.38,409.52 1169.84,410.42 1170.29,411.26 1170.75,412.05 1171.21,412.77 1171.67,413.48 1172.12,414.21 1172.58,414.92 1173.04,415.57 1173.50,416.13 1173.95,416.54 1174.41,416.76 1174.87,416.78 1175.33,416.74 1175.78,416.66 1176.24,416.54 1176.70,416.39 1177.16,416.23 1177.61,416.04 1178.07,415.84 1178.53,415.58 1178.99,415.21 1179.44,414.73 1179.90,414.15 1180.36,413.48 1180.82,412.74 1181.27,411.93 1181.73,411.06 1182.19,410.13 1182.65,409.17 1183.10,408.17 1183.56,407.14 1184.02,406.10 1184.48,405.05 1184.93,404.01 1185.39,402.91 1185.85,401.70 1186.30,400.39 1186.76,398.99 1187.22,397.52 1187.68,395.98 1188.13,394.39 1188.59,392.75 1189.05,391.08 1189.51,389.40 1189.96,387.70 1190.42,386.01 1190.88,384.32 1191.34,382.67 1191.79,381.05 1192.25,379.45 1192.71,377.83 1193.17,376.21 1193.62,374.58 1194.08,372.94 1194.54,371.29 1195.00,369.63 1195.45,367.96 1195.91,366.28 1196.37,364.59 1196.83,362.88 1197.28,361.17 1197.74,359.44 1198.20,357.71 1198.66,355.96 1199.11,354.19 1199.57,352.39 1200.03,350.57 1200.49,348.74 1200.94,346.88 1201.40,345.02 1201.86,343.15 1202.31,341.27 1202.77,339.39 1203.23,337.51 1203.69,335.63 1204.14,333.77 1204.60,331.92 1205.06,330.08 1205.52,328.26 1205.97,326.46 1206.43,324.65 1206.89,322.85 1207.35,321.05 1207.80,319.25 1208.26,317.46 1208.72,315.67 1209.18,313.89 1209.63,312.12 1210.09,310.36 1210.55,308.62 1211.01,306.88 1211.46,305.16 1211.92,303.45 1212.38,301.75 1212.84,300.07 1213.29,298.39 1213.75,296.71 1214.21,295.05 1214.67,293.39 1215.12,291.74 1215.58,290.10 1216.04,288.47 1216.50,286.86 1216.95,285.27 1217.41,283.70 1217.87,282.14 1218.33,280.61 1218.78,279.10 1219.24,277.61 1219.70,276.15 1220.15,274.72 1220.61,273.31 1221.07,271.93 1221.53,270.56 1221.98,269.21 1222.44,267.87 1222.90,266.54 1223.36,265.21 1223.81,263.89 1224.27,262.58 1224.73,261.25 1225.19,259.93 1225.64,258.60 1226.10,257.25 1226.56,255.90 1227.02,254.53 1227.47,253.15 1227.93,251.77 1228.39,250.39 1228.85,249.00 1229.30,247.62 1229.76,246.25 1230.22,244.89 1230.68,243.54 1231.13,242.21 1231.59,240.91 1232.05,239.62 1232.51,238.36 1232.96,237.13 1233.42,235.93 1233.88,234.75 1234.34,233.58 1234.79,232.43 1235.25,231.30 1235.71,230.18 1236.17,229.07 1236.62,227.98 1237.08,226.89 1237.54,225.82 1237.99,224.76 1238.45,223.70 1238.91,222.65 1239.37,221.61 1239.82,220.57 1240.28,219.53 1240.74,218.51 1241.20,217.50 1241.65,216.49 1242.11,215.50 1242.57,214.51 1243.03,213.53 1243.48,212.55 1243.94,211.59 1244.40,210.62 1244.86,209.67 1245.31,208.72 1245.77,207.77 1246.23,206.83 1246.69,205.89 1247.14,204.95 1247.60,204.02 1248.06,203.09 1248.52,202.17 1248.97,201.24 1249.43,200.33 1249.89,199.42 1250.35,198.51 1250.80,197.61 1251.26,196.72 1251.72,195.84 1252.18,194.97 1252.63,194.10 1253.09,193.24 1253.55,192.40 1254.00,191.56 1254.46,190.73 1254.92,189.90 1255.38,189.08 1255.83,188.26 1256.29,187.45 1256.75,186.65 1257.21,185.86 1257.66,185.07 1258.12,184.30 1258.58,183.53 1259.04,182.77 1259.49,182.03 1259.95,181.29 1260.41,180.56 1260.87,179.85 1261.32,179.13 1261.78,178.42 1262.24,177.72 1262.70,177.03 1263.15,176.34 1263.61,175.66 1264.07,175.00 1264.53,174.34 1264.98,173.69 1265.44,173.05 1265.90,172.42 1266.36,171.81 1266.81,171.21 1267.27,170.62 1267.73,170.05 1268.19,169.50 1268.64,168.96 1269.10,168.44 1269.56,167.93 1270.02,167.42 1270.47,166.93 1270.93,166.44 1271.39,165.96 1271.84,165.48 1272.30,165.00 1272.76,164.52 1273.22,164.03 1273.67,163.54 1274.13,163.05 1274.59,162.54 1275.05,162.03 1275.50,161.50 1275.96,160.96 1276.42,160.40 1276.88,159.84 1277.33,159.28 1277.79,158.71 1278.25,158.13 1278.71,157.55 1279.16,156.97 1279.62,156.37 1280.08,155.77 1280.54,155.15 1280.99,154.53 1281.45,153.89 1281.91,153.24 1282.37,152.58 1282.82,151.90 1283.28,151.21 1283.74,150.50 1284.20,149.76 1284.65,149.00 1285.11,148.22 1285.57,147.42 1286.03,146.60 1286.48,145.77 1286.94,144.93 1287.40,144.09 1287.86,143.24 1288.31,142.39 1288.77,141.54 1289.23,140.69 1289.68,139.85 1290.14,138.98 1290.60,138.07 1291.06,137.12 1291.51,136.16 1291.97,135.20 1292.43,134.26 1292.89,133.35 1293.34,132.49 1293.80,131.70 1294.26,130.99 1294.72,130.38 1295.17,129.85 1295.63,129.36 1296.09,128.91 1296.55,128.48 1297.00,128.08 1297.46,127.70 1297.92,127.34 1298.38,126.98 1298.83,126.64 1299.29,126.30 1299.75,125.95 1300.21,125.60 1300.66,125.24 1301.12,124.86 1301.58,124.47 1302.04,124.05 1302.49,123.64 1302.95,123.22 1303.41,122.80 1303.87,122.38 1304.32,121.96 1304.78,121.53 1305.24,121.10 1305.69,120.67 1306.15,120.24 1306.61,119.81 1307.07,119.38 1307.52,118.94 1307.98,118.51 1308.44,118.07 1308.90,117.64 1309.35,117.20 1309.81,116.76 1310.27,116.32 1310.73,115.87 1311.18,115.43 1311.64,114.98 1312.10,114.54 1312.56,114.09 1313.01,113.65 1313.47,113.20 1313.93,112.76 1314.39,112.32 1314.84,111.88 1315.30,111.45 1315.76,111.01 1316.22,110.57 1316.67,110.12 1317.13,109.67 1317.59,109.22 1318.05,108.77 1318.50,108.32 1318.96,107.88 1319.42,107.45 1319.88,107.02 1320.33,106.60 1320.79,106.19 1321.25,105.80 1321.71,105.42 1322.16,105.06 1322.62,104.71 1323.08,104.37 1323.53,104.05 1323.99,103.73 1324.45,103.42 1324.91,103.12 1325.36,102.82 1325.82,102.53 1326.28,102.25 1326.74,101.96 1327.19,101.68 1327.65,101.40 1328.11,101.12 1328.57,100.84 1329.02,100.56 1329.48,100.27 1329.94,99.98 1330.40,99.68 1330.85,99.38 1331.31,99.06 1331.77,98.75 1332.23,98.43 1332.68,98.10 1333.14,97.77 1333.60,97.45 1334.06,97.12 1334.51,96.79 1334.97,96.46 1335.43,96.14 1335.89,95.81 1336.34,95.50 1336.80,95.19 1337.26,94.89 1337.72,94.59 1338.17,94.31 1338.63,94.03 1339.09,93.76 1339.54,93.50 1340.00,93.24 1340.46,92.99 1340.92,92.74 1341.37,92.50 1341.83,92.26 1342.29,92.02 1342.75,91.78 1343.20,91.55 1343.66,91.31 1344.12,91.08 1344.58,90.85 1345.03,90.61 1345.49,90.38 1345.95,90.14 1346.41,89.91 1346.86,89.67 1347.32,89.43 1347.78,89.19 1348.24,88.94 1348.69,88.70 1349.15,88.47 1349.61,88.23 1350.07,87.99 1350.52,87.76 1350.98,87.53 1351.44,87.31 1351.90,87.08 1352.35,86.87 1352.81,86.66 1353.27,86.46 1353.73,86.26 1354.18,86.07 1354.64,85.88 1355.10,85.70 1355.56,85.52 1356.01,85.35 1356.47,85.17 1356.93,85.00 1357.38,84.84 1357.84,84.67 1358.30,84.51 1358.76,84.34 1359.21,84.18 1359.67,84.02 1360.13,83.85 1360.59,83.68 1361.04,83.52 1361.50,83.35 1361.96,83.18 1362.42,83.01 1362.87,82.85 1363.33,82.69 1363.79,82.52 1364.25,82.36 1364.70,82.19 1365.16,82.03 1365.62,81.87 1366.08,81.71 1366.53,81.54 1366.99,81.38 1367.45,81.21 1367.91,81.05 1368.36,80.88 1368.82,80.71 1369.28,80.54 1369.74,80.37 1370.19,80.20 1370.65,80.03 1371.11,79.85 1371.57,79.68 1372.02,79.50 1372.48,79.32 1372.94,79.13 1373.40,78.95 1373.85,78.77 1374.31,78.59 1374.77,78.40 1375.22,78.22 1375.68,78.03 1376.14,77.85 1376.60,77.67 1377.05,77.48 1377.51,77.30 1377.97,77.12 1378.43,76.94 1378.88,76.76 1379.34,76.59 1379.80,76.42 1380.26,76.24 1380.71,76.07 1381.17,75.90 1381.63,75.72 1382.09,75.55 1382.54,75.38 1383.00,75.21 1383.46,75.04 1383.92,74.87 1384.37,74.70 1384.83,74.53 1385.29,74.37 1385.75,74.20 1386.20,74.04 1386.66,73.88 1387.12,73.72 1387.58,73.56 1388.03,73.41 1388.49,73.25 1388.95,73.10 1389.41,72.95 1389.86,72.80 1390.32,72.64 1390.78,72.49 1391.23,72.33 1391.69,72.18 1392.15,72.02 1392.61,71.87 1393.06,71.72 1393.52,71.57 1393.98,71.43 1394.44,71.29 1394.89,71.16 1395.35,71.03 1395.81,70.91 1396.27,70.79 1396.72,70.69 1397.18,70.59 1397.64,70.50 1398.10,70.41 1398.55,70.32 1399.01,70.24 1399.47,70.15 1399.93,70.06 1400.38,69.98 1400.84,69.90 1401.30,69.83 1401.76,69.76 1402.21,69.70 1402.67,69.65 1403.13,69.61 1403.59,69.58 1404.04,69.56 1404.50,69.55 1404.96,69.56 1405.42,69.58 1405.87,69.62 1406.33,69.68 1406.79,69.75 1407.25,69.82 1407.70,69.92 1408.16,70.02 1408.62,70.13 1409.07,70.25 1409.53,70.37 1409.99,70.50 1410.45,70.64 1410.90,70.79 1411.36,70.93 1411.82,71.08 1412.28,71.23 1412.73,71.38 1413.19,71.53 1413.65,71.68 1414.11,71.84 1414.56,72.01 1415.02,72.20 1415.48,72.40 1415.94,72.61 1416.39,72.83 1416.85,73.07 1417.31,73.31 1417.77,73.57 1418.22,73.83 1418.68,74.10 1419.14,74.37 1419.60,74.65 1420.05,74.94 1420.51,75.22 1420.97,75.51 1421.43,75.80 1421.88,76.10 1422.34,76.39 1422.80,76.68 1423.26,76.96 1423.71,77.25 1424.17,77.53 1424.63,77.80 1425.09,78.07 1425.54,78.34 1426.00,78.60 1426.46,78.85 1426.91,79.11 1427.37,79.36 1427.83,79.61 1428.29,79.86 1428.74,80.10 1429.20,80.35 1429.66,80.60 1430.12,80.85 1430.57,81.10 1431.03,81.35 1431.49,81.60 1431.95,81.86 1432.40,82.12 1432.86,82.38 1433.32,82.65 1433.78,82.92 1434.23,83.20 1434.69,83.48 1435.15,83.77 1435.61,84.07 1436.06,84.37 1436.52,84.68 1436.98,85.00 1437.44,85.32 1437.89,85.66 1438.35,86.00 1438.81,86.36 1439.27,86.73 1439.72,87.14 1440.18,87.56 1440.64,88.01 1441.10,88.48 1441.55,88.97 1442.01,89.47 1442.47,89.97 1442.92,90.48 1443.38,90.99 1443.84,91.50 1444.30,92.01 1444.75,92.50 1445.21,92.99 1445.67,93.46 1446.13,93.92 1446.58,94.37 1447.04,94.83 1447.50,95.28 1447.96,95.73 1448.41,96.17 1448.87,96.62 1449.33,97.06 1449.79,97.51 1450.24,97.95 1450.70,98.39 1451.16,98.84 1451.62,99.28 1452.07,99.72 1452.53,100.17 1452.99,100.62 1453.45,101.07 1453.90,101.52 1454.36,101.97 1454.82,102.42 1455.28,102.87 1455.73,103.31 1456.19,103.76 1456.65,104.21 1457.11,104.65 1457.56,105.10 1458.02,105.56 1458.48,106.01 1458.94,106.47 1459.39,106.93 1459.85,107.40 1460.31,107.87 1460.76,108.35 1461.22,108.84 1461.68,109.34 1462.14,109.86 1462.59,110.38 1463.05,110.91 1463.51,111.45 1463.97,112.00 1464.42,112.55 1464.88,113.10 1465.34,113.66 1465.80,114.21 1466.25,114.75 1466.71,115.29 1467.17,115.83 1467.63,116.35 1468.08,116.86 1468.54,117.36 1469.00,117.85 1469.46,118.33 1469.91,118.81 1470.37,119.27 1470.83,119.73 1471.29,120.19 1471.74,120.64 1472.20,121.09 1472.66,121.54 1473.12,121.99 1473.57,122.44 1474.03,122.88 1474.49,123.33 1474.95,123.78 1475.40,124.24 1475.86,124.69 1476.32,125.15 1476.77,125.61 1477.23,126.06 1477.69,126.52 1478.15,126.98 1478.60,127.43 1479.06,127.89 1479.52,128.34 1479.98,128.80 1480.43,129.26 1480.89,129.72 1481.35,130.18 1481.81,130.64 1482.26,131.10 1482.72,131.57 1483.18,132.03 1483.64,132.50 1484.09,132.96 1484.55,133.42 1485.01,133.88 1485.47,134.35 1485.92,134.81 1486.38,135.28 1486.84,135.75 1487.30,136.22 1487.75,136.70 1488.21,137.18 1488.67,137.67 1489.13,138.16 1489.58,138.65 1490.04,139.16 1490.50,139.67 1490.96,140.18 1491.41,140.71 1491.87,141.24 1492.33,141.77 1492.79,142.31 1493.24,142.85 1493.70,143.40"/><polyline points="121.40,16.77 121.86,16.84 122.31,16.91 122.77,16.97 123.23,17.04 123.69,17.10 124.14,17.16 124.60,17.22 125.06,17.28 125.52,17.34 125.97,17.39 126.43,17.44 126.89,17.49 127.35,17.54 127.80,17.58 128.26,17.63 128.72,17.67 129.18,17.70 129.63,17.74 130.09,17.77 130.55,17.80 131.01,17.83 131.46,17.85 131.92,17.88 132.38,17.90 132.84,17.91 133.29,17.93 133.75,17.94 134.21,17.94 134.67,17.95 135.12,17.95 135.58,17.95 136.04,17.95 136.50,17.94 136.95,17.93 137.41,17.92 137.87,17.91 138.33,17.89 138.78,17.88 139.24,17.86 139.70,17.84 140.15,17.82 140.61,17.80 141.07,17.77 141.53,17.75 141.98,17.72 142.44,17.69 142.90,17.66 143.36,17.63 143.81,17.60 144.27,17.57 144.73,17.54 145.19,17.51 145.64,17.47 146.10,17.44 146.56,17.41 147.02,17.37 147.47,17.34 147.93,17.31 148.39,17.27 148.85,17.24 149.30,17.20 149.76,17.16 150.22,17.12 150.68,17.07 151.13,17.02 151.59,16.96 152.05,16.90 152.51,16.84 152.96,16.78 153.42,16.71 153.88,16.65 154.34,16.58 154.79,16.51 155.25,16.44 155.71,16.37 156.16,16.31 156.62,16.24 157.08,16.17 157.54,16.11 157.99,16.04 158.45,15.98 158.91,15.92 159.37,15.87 159.82,15.81 160.28,15.76 160.74,15.72 161.20,15.68 161.65,15.64 162.11,15.61 162.57,15.58 163.03,15.56 163.48,15.54 163.94,15.51 164.40,15.49 164.86,15.47 165.31,15.45 165.77,15.43 166.23,15.41 166.69,15.40 167.14,15.38 167.60,15.37 168.06,15.36 168.52,15.35 168.97,15.35 169.43,15.35 169.89,15.43 170.35,15.67 170.80,16.04 171.26,16.53 171.72,17.10 172.18,17.75 172.63,18.45 173.09,19.18 173.55,19.92 174.00,20.65 174.46,21.34 174.92,21.99 175.38,22.56 175.83,23.03 176.29,23.39 176.75,23.68 177.21,23.96 177.66,24.22 178.12,24.46 178.58,24.69 179.04,24.91 179.49,25.12 179.95,25.32 180.41,25.51 180.87,25.68 181.32,25.86 181.78,26.02 182.24,26.18 182.70,26.33 183.15,26.47 183.61,26.62 184.07,26.77 184.53,26.92 184.98,27.07 185.44,27.22 185.90,27.37 186.36,27.50 186.81,27.63 187.27,27.75 187.73,27.86 188.19,27.95 188.64,28.03 189.10,28.08 189.56,28.12 190.02,28.13 190.47,28.13 190.93,28.13 191.39,28.13 191.84,28.13 192.30,28.13 192.76,28.13 193.22,28.13 193.67,28.13 194.13,28.13 194.59,28.13 195.05,28.13 195.50,28.13 195.96,28.13 196.42,28.13 196.88,28.13 197.33,28.14 197.79,28.17 198.25,28.22 198.71,28.29 199.16,28.38 199.62,28.48 200.08,28.59 200.54,28.71 200.99,28.85 201.45,28.99 201.91,29.14 202.37,29.30 202.82,29.46 203.28,29.62 203.74,29.79 204.20,29.97 204.65,30.18 205.11,30.43 205.57,30.70 206.03,30.99 206.48,31.31 206.94,31.64 207.40,31.99 207.85,32.35 208.31,32.71 208.77,33.08 209.23,33.44 209.68,33.81 210.14,34.17 210.60,34.52 211.06,34.89 211.51,35.31 211.97,35.77 212.43,36.26 212.89,36.76 213.34,37.26 213.80,37.76 214.26,38.24 214.72,38.70 215.17,39.11 215.63,39.47 216.09,39.77 216.55,40.00 217.00,40.15 217.46,40.20 217.92,40.19 218.38,40.15 218.83,40.09 219.29,40.02 219.75,39.93 220.21,39.82 220.66,39.71 221.12,39.59 221.58,39.47 222.04,39.34 222.49,39.21 222.95,39.09 223.41,38.98 223.87,38.87 224.32,38.78 224.78,38.70 225.24,38.61 225.69,38.53 226.15,38.45 226.61,38.38 227.07,38.30 227.52,38.23 227.98,38.15 228.44,38.08 228.90,38.00 229.35,37.92 229.81,37.84 230.27,37.76 230.73,37.68 231.18,37.60 231.64,37.51 232.10,37.43 232.56,37.34 233.01,37.26 233.47,37.18 233.93,37.09 234.39,37.01 234.84,36.92 235.30,36.83 235.76,36.73 236.22,36.63 236.67,36.53 237.13,36.42 237.59,36.30 238.05,36.18 238.50,36.04 238.96,35.89 239.42,35.73 239.88,35.55 240.33,35.36 240.79,35.17 241.25,34.97 241.70,34.76 242.16,34.55 242.62,34.34 243.08,34.13 243.53,33.92 243.99,33.72 244.45,33.52 244.91,33.34 245.36,33.15 245.82,32.95 246.28,32.75 246.74,32.55 247.19,32.34 247.65,32.13 248.11,31.91 248.57,31.70 249.02,31.50 249.48,31.29 249.94,31.09 250.40,30.90 250.85,30.72 251.31,30.55 251.77,30.38 252.23,30.23 252.68,30.10 253.14,29.98 253.60,29.87 254.06,29.79 254.51,29.71 254.97,29.63 255.43,29.56 255.89,29.49 256.34,29.42 256.80,29.35 257.26,29.28 257.72,29.22 258.17,29.15 258.63,29.09 259.09,29.04 259.54,28.98 260.00,28.93 260.46,28.88 260.92,28.84 261.37,28.79 261.83,28.76 262.29,28.72 262.75,28.69 263.20,28.66 263.66,28.64 264.12,28.62 264.58,28.61 265.03,28.60 265.49,28.60 265.95,28.61 266.41,28.63 266.86,28.67 267.32,28.72 267.78,28.78 268.24,28.85 268.69,28.94 269.15,29.03 269.61,29.14 270.07,29.25 270.52,29.37 270.98,29.50 271.44,29.63 271.90,29.77 272.35,29.91 272.81,30.06 273.27,30.21 273.73,30.37 274.18,30.52 274.64,30.68 275.10,30.83 275.56,30.99 276.01,31.14 276.47,31.29 276.93,31.44 277.38,31.59 277.84,31.75 278.30,31.92 278.76,32.09 279.21,32.27 279.67,32.45 280.13,32.64 280.59,32.84 281.04,33.04 281.50,33.24 281.96,33.45 282.42,33.66 282.87,33.88 283.33,34.10 283.79,34.32 284.25,34.55 284.70,34.78 285.16,35.00 285.62,35.24 286.08,35.47 286.53,35.70 286.99,35.95 287.45,36.21 287.91,36.48 288.36,36.75 288.82,37.03 289.28,37.32 289.74,37.60 290.19,37.88 290.65,38.17 291.11,38.44 291.57,38.72 292.02,38.98 292.48,39.24 292.94,39.49 293.39,39.73 293.85,39.97 294.31,40.20 294.77,40.43 295.22,40.65 295.68,40.87 296.14,41.09 296.60,41.31 297.05,41.53 297.51,41.74 297.97,41.95 298.43,42.17 298.88,42.38 299.34,42.59 299.80,42.80 300.26,43.02 300.71,43.24 301.17,43.46 301.63,43.68 302.09,43.90 302.54,44.12 303.00,44.34 303.46,44.56 303.92,44.77 304.37,44.97 304.83,45.17 305.29,45.36 305.75,45.55 306.20,45.72 306.66,45.88 307.12,46.04 307.58,46.21 308.03,46.38 308.49,46.55 308.95,46.72 309.41,46.89 309.86,47.04 310.32,47.19 310.78,47.33 311.23,47.46 311.69,47.56 312.15,47.65 312.61,47.72 313.06,47.76 313.52,47.77 313.98,47.77 314.44,47.77 314.89,47.77 315.35,47.77 315.81,47.77 316.27,47.77 316.72,47.77 317.18,47.77 317.64,47.77 318.10,47.77 318.55,47.77 319.01,47.77 319.47,47.77 319.93,47.77 320.38,47.77 320.84,47.76 321.30,47.72 321.76,47.65 322.21,47.56 322.67,47.46 323.13,47.34 323.59,47.22 324.04,47.09 324.50,46.96 324.96,46.83 325.42,46.71 325.87,46.59 326.33,46.49 326.79,46.41 327.25,46.35 327.70,46.31 328.16,46.26 328.62,46.21 329.07,46.17 329.53,46.13 329.99,46.09 330.45,46.05 330.90,46.01 331.36,45.98 331.82,45.95 332.28,45.93 332.73,45.91 333.19,45.89 333.65,45.88 334.11,45.88 334.56,45.89 335.02,45.91 335.48,45.94 335.94,45.99 336.39,46.04 336.85,46.11 337.31,46.18 337.77,46.25 338.22,46.33 338.68,46.41 339.14,46.50 339.60,46.58 340.05,46.67 340.51,46.75 340.97,46.83 341.43,46.90 341.88,46.98 342.34,47.06 342.80,47.13 343.26,47.21 343.71,47.30 344.17,47.38 344.63,47.47 345.08,47.57 345.54,47.66 346.00,47.77 346.46,47.88 346.91,47.99 347.37,48.12 347.83,48.25 348.29,48.39 348.74,48.55 349.20,48.72 349.66,48.91 350.12,49.11 350.57,49.33 351.03,49.56 351.49,49.80 351.95,50.05 352.40,50.32 352.86,50.60 353.32,50.88 353.78,51.18 354.23,51.48 354.69,51.80 355.15,52.14 355.61,52.51 356.06,52.91 356.52,53.35 356.98,53.80 357.44,54.29 357.89,54.79 358.35,55.30 358.81,55.84 359.27,56.38 359.72,56.93 360.18,57.48 360.64,58.03 361.10,58.59 361.55,59.14 362.01,59.68 362.47,60.24 362.92,60.81 363.38,61.38 363.84,61.96 364.30,62.55 364.75,63.15 365.21,63.76 365.67,64.38 366.13,65.02 366.58,65.66 367.04,66.32 367.50,66.99 367.96,67.67 368.41,68.37 368.87,69.08 369.33,69.81 369.79,70.56 370.24,71.33 370.70,72.11 371.16,72.91 371.62,73.72 372.07,74.55 372.53,75.39 372.99,76.24 373.45,77.11 373.90,77.98 374.36,78.87 374.82,79.77 375.28,80.68 375.73,81.59 376.19,82.50 376.65,83.41 377.11,84.33 377.56,85.26 378.02,86.20 378.48,87.17 378.93,88.16 379.39,89.17 379.85,90.22 380.31,91.30 380.76,92.42 381.22,93.59 381.68,94.80 382.14,96.06 382.59,97.40 383.05,98.82 383.51,100.32 383.97,101.90 384.42,103.54 384.88,105.24 385.34,106.99 385.80,108.79 386.25,110.63 386.71,112.50 387.17,114.40 387.63,116.31 388.08,118.24 388.54,120.17 389.00,122.10 389.46,124.04 389.91,126.00 390.37,127.99 390.83,130.01 391.29,132.06 391.74,134.15 392.20,136.26 392.66,138.41 393.12,140.59 393.57,142.82 394.03,145.08 394.49,147.38 394.95,149.72 395.40,152.10 395.86,154.53 396.32,157.00 396.77,159.54 397.23,162.13 397.69,164.77 398.15,167.46 398.60,170.21 399.06,173.00 399.52,175.84 399.98,178.73 400.43,181.65 400.89,184.63 401.35,187.64 401.81,190.69 402.26,193.77 402.72,196.90 403.18,200.05 403.64,203.23 404.09,206.44 404.55,209.69 405.01,212.99 405.47,216.35 405.92,219.76 406.38,223.23 406.84,226.78 407.30,230.41 407.75,234.12 408.21,237.91 408.67,241.81 409.13,245.81 409.58,249.92 410.04,254.18 410.50,258.63 410.96,263.25 411.41,268.02 411.87,272.93 412.33,277.96 412.79,283.10 413.24,288.32 413.70,293.61 414.16,298.96 414.61,304.34 415.07,309.74 415.53,315.14 415.99,320.54 416.44,325.90 416.90,331.41 417.36,337.22 417.82,343.27 418.27,349.49 418.73,355.82 419.19,362.18 419.65,368.52 420.10,374.78 420.45,390.04 423.08,429.10 429.94,431.47 432.91,390.04 432.91,367.26 433.37,361.53 433.83,355.75 434.28,349.94 434.74,344.13 435.20,338.34 435.66,332.61 436.11,326.95 436.57,321.39 437.03,315.96 437.49,310.57 437.94,305.14 438.40,299.68 438.86,294.21 439.32,288.75 439.77,283.30 440.23,277.90 440.69,272.56 441.15,267.28 441.60,262.10 442.06,257.02 442.52,252.06 442.98,247.24 443.43,242.57 443.89,238.08 444.35,233.72 444.81,229.43 445.26,225.21 445.72,221.07 446.18,217.01 446.64,213.03 447.09,209.12 447.55,205.30 448.01,201.55 448.46,197.88 448.92,194.30 449.38,190.80 449.84,187.38 450.29,184.05 450.75,180.80 451.21,177.61 451.67,174.46 452.12,171.35 452.58,168.29 453.04,165.28 453.50,162.33 453.95,159.45 454.41,156.63 454.87,153.90 455.33,151.24 455.78,148.67 456.24,146.19 456.70,143.82 457.16,141.54 457.61,139.38 458.07,137.33 458.53,135.38 458.99,133.53 459.44,131.76 459.90,130.06 460.36,128.41 460.82,126.80 461.27,125.22 461.73,123.65 462.19,122.09 462.65,120.51 463.10,118.91 463.56,117.26 464.02,115.57 464.48,113.81 464.93,111.99 465.39,110.11 465.85,108.19 466.30,106.24 466.76,104.27 467.22,102.28 467.68,100.29 468.13,98.30 468.59,96.33 469.05,94.39 469.51,92.48 469.96,90.62 470.42,88.81 470.88,87.07 471.34,85.41 471.79,83.79 472.25,82.19 472.71,80.60 473.17,79.02 473.62,77.48 474.08,75.96 474.54,74.47 475.00,73.01 475.45,71.60 475.91,70.22 476.37,68.89 476.83,67.61 477.28,66.39 477.74,65.22 478.20,64.11 478.66,63.05 479.11,62.04 479.57,61.06 480.03,60.12 480.49,59.22 480.94,58.34 481.40,57.48 481.86,56.64 482.31,55.83 482.77,55.02 483.23,54.23 483.69,53.44 484.14,52.66 484.60,51.88 485.06,51.09 485.52,50.29 485.97,49.49 486.43,48.69 486.89,47.89 487.35,47.09 487.80,46.30 488.26,45.53 488.72,44.77 489.18,44.03 489.63,43.31 490.09,42.62 490.55,41.96 491.01,41.33 491.46,40.75 491.92,40.20 492.38,39.68 492.84,39.18 493.29,38.69 493.75,38.22 494.21,37.76 494.67,37.32 495.12,36.90 495.58,36.48 496.04,36.09 496.50,35.71 496.95,35.34 497.41,35.00 497.87,34.66 498.33,34.35 498.78,34.05 499.24,33.76 499.70,33.47 500.15,33.19 500.61,32.91 501.07,32.64 501.53,32.37 501.98,32.11 502.44,31.85 502.90,31.60 503.36,31.35 503.81,31.11 504.27,30.88 504.73,30.65 505.19,30.44 505.64,30.23 506.10,30.02 506.56,29.83 507.02,29.64 507.47,29.47 507.93,29.30 508.39,29.14 508.85,28.99 509.30,28.85 509.76,28.72 510.22,28.60 510.68,28.49 511.13,28.38 511.59,28.27 512.05,28.16 512.51,28.05 512.96,27.95 513.42,27.84 513.88,27.74 514.34,27.64 514.79,27.54 515.25,27.44 515.71,27.35 516.16,27.25 516.62,27.16 517.08,27.07 517.54,26.98 517.99,26.89 518.45,26.81 518.91,26.72 519.37,26.64 519.82,26.56 520.28,26.48 520.74,26.40 521.20,26.33 521.65,26.26 522.11,26.18 522.57,26.11 523.03,26.05 523.48,25.98 523.94,25.92 524.40,25.85 524.86,25.79 525.31,25.73 525.77,25.68 526.23,25.62 526.69,25.57 527.14,25.52 527.60,25.47 528.06,25.42 528.52,25.38 528.97,25.34 529.43,25.30 529.89,25.26 530.35,25.22 530.80,25.19 531.26,25.16 531.72,25.13 532.18,25.10 532.63,25.07 533.09,25.05 533.55,25.03 534.00,25.01 534.46,24.99 534.92,24.96 535.38,24.94 535.83,24.92 536.29,24.90 536.75,24.88 537.21,24.86 537.66,24.84 538.12,24.82 538.58,24.80 539.04,24.78 539.49,24.76 539.95,24.74 540.41,24.72 540.87,24.70 541.32,24.68 541.78,24.66 542.24,24.65 542.70,24.63 543.15,24.61 543.61,24.59 544.07,24.57 544.53,24.56 544.98,24.54 545.44,24.52 545.90,24.51 546.36,24.49 546.81,24.47 547.27,24.46 547.73,24.44 548.19,24.42 548.64,24.41 549.10,24.39 549.56,24.38 550.02,24.36 550.47,24.35 550.93,24.33 551.39,24.32 551.84,24.30 552.30,24.29 552.76,24.28 553.22,24.26 553.67,24.25 554.13,24.24 554.59,24.22 555.05,24.21 555.50,24.20 555.96,24.18 556.42,24.17 556.88,24.16 557.33,24.15 557.79,24.14 558.25,24.13 558.71,24.11 559.16,24.10 559.62,24.09 560.08,24.08 560.54,24.07 560.99,24.06 561.45,24.05 561.91,24.04 562.37,24.03 562.82,24.03 563.28,24.02 563.74,24.01 564.20,24.00 564.65,23.99 565.11,23.98 565.57,23.98 566.03,23.97 566.48,23.96 566.94,23.96 567.40,23.95 567.85,23.94 568.31,23.94 568.77,23.93 569.23,23.93 569.68,23.92 570.14,23.92 570.60,23.91 571.06,23.91 571.51,23.90 571.97,23.90 572.43,23.89 572.89,23.89 573.34,23.89 573.80,23.88 574.26,23.88 574.72,23.88 575.17,23.88 575.63,23.87 576.09,23.87 576.55,23.87 577.00,23.87 577.46,23.87 577.92,23.87 578.38,23.87 578.83,23.87 579.29,23.87 579.75,23.87 580.21,23.87 580.66,23.87 581.12,23.87 581.58,23.87 582.04,23.87 582.49,23.87 582.95,23.87 583.41,23.87 583.87,23.87 584.32,23.87 584.78,23.87 585.24,23.87 585.69,23.87 586.15,23.87 586.61,23.88 587.07,23.88 587.52,23.88 587.98,23.88 588.44,23.88 588.90,23.88 589.35,23.88 589.81,23.88 590.27,23.88 590.73,23.88 591.18,23.89 591.64,23.89 592.10,23.89 592.56,23.89 593.01,23.89 593.47,23.89 593.93,23.89 594.39,23.90 594.84,23.90 595.30,23.90 595.76,23.90 596.22,23.90 596.67,23.90 597.13,23.91 597.59,23.91 598.05,23.91 598.50,23.91 598.96,23.91 599.42,23.92 599.88,23.92 600.33,23.92 600.79,23.92 601.25,23.93 601.71,23.93 602.16,23.93 602.62,23.93 603.08,23.93 603.53,23.94 603.99,23.94 604.45,23.94 604.91,23.94 605.36,23.95 605.82,23.95 606.28,23.95 606.74,23.96 607.19,23.96 607.65,23.96 608.11,23.96 608.57,23.97 609.02,23.97 609.48,23.97 609.94,23.98 610.40,23.98 610.85,23.98 611.31,23.99 611.77,23.99 612.23,23.99 612.68,23.99 613.14,24.00 613.60,24.00 614.06,24.00 614.51,24.01 614.97,24.01 615.43,24.02 615.89,24.02 616.34,24.02 616.80,24.03 617.26,24.03 617.72,24.03 618.17,24.04 618.63,24.04 619.09,24.04 619.54,24.05 620.00,24.05 620.46,24.06 620.92,24.06 621.37,24.06 621.83,24.07 622.29,24.07 622.75,24.08 623.20,24.08 623.66,24.08 624.12,24.09 624.58,24.09 625.03,24.10 625.49,24.10 625.95,24.11 626.41,24.11 626.86,24.11 627.32,24.12 627.78,24.12 628.24,24.13 628.69,24.13 629.15,24.14 629.61,24.14 630.07,24.15 630.52,24.15 630.98,24.15 631.44,24.16 631.90,24.16 632.35,24.17 632.81,24.17 633.27,24.18 633.73,24.18 634.18,24.19 634.64,24.19 635.10,24.20 635.56,24.20 636.01,24.21 636.47,24.21 636.93,24.22 637.38,24.22 637.84,24.23 638.30,24.23 638.76,24.24 639.21,24.24 639.67,24.25 640.13,24.25 640.59,24.26 641.04,24.26 641.50,24.27 641.96,24.28 642.42,24.28 642.87,24.29 643.33,24.29 643.79,24.30 644.25,24.30 644.70,24.31 645.16,24.31 645.62,24.32 646.08,24.32 646.53,24.33 646.99,24.34 647.45,24.34 647.91,24.35 648.36,24.35 648.82,24.36 649.28,24.37 649.74,24.37 650.19,24.38 650.65,24.39 651.11,24.40 651.57,24.41 652.02,24.41 652.48,24.42 652.94,24.43 653.39,24.44 653.85,24.45 654.31,24.46 654.77,24.47 655.22,24.49 655.68,24.50 656.14,24.51 656.60,24.52 657.05,24.53 657.51,24.54 657.97,24.56 658.43,24.57 658.88,24.58 659.34,24.60 659.80,24.61 660.26,24.63 660.71,24.64 661.17,24.65 661.63,24.67 662.09,24.69 662.54,24.70 663.00,24.72 663.46,24.73 663.92,24.75 664.37,24.77 664.83,24.78 665.29,24.80 665.75,24.82 666.20,24.83 666.66,24.85 667.12,24.87 667.58,24.89 668.03,24.91 668.49,24.93 668.95,24.95 669.41,24.96 669.86,24.98 670.32,25.00 670.78,25.02 671.23,25.04 671.69,25.06 672.15,25.09 672.61,25.11 673.06,25.13 673.52,25.15 673.98,25.17 674.44,25.19 674.89,25.21 675.35,25.24 675.81,25.26 676.27,25.28 676.72,25.30 677.18,25.33 677.64,25.35 678.10,25.37 678.55,25.40 679.01,25.42 679.47,25.44 679.93,25.47 680.38,25.49 680.84,25.52 681.30,25.54 681.76,25.57 682.21,25.59 682.67,25.62 683.13,25.64 683.59,25.67 684.04,25.69 684.50,25.72 684.96,25.74 685.42,25.77 685.87,25.80 686.33,25.82 686.79,25.85 687.25,25.88 687.70,25.90 688.16,25.93 688.62,25.96 689.07,25.98 689.53,26.01 689.99,26.04 690.45,26.07 690.90,26.09 691.36,26.12 691.82,26.15 692.28,26.18 692.73,26.21 693.19,26.24 693.65,26.26 694.11,26.29 694.56,26.32 695.02,26.36 695.48,26.39 695.94,26.42 696.39,26.46 696.85,26.49 697.31,26.53 697.77,26.56 698.22,26.60 698.68,26.64 699.14,26.68 699.60,26.72 700.05,26.76 700.51,26.80 700.97,26.84 701.43,26.88 701.88,26.93 702.34,26.97 702.80,27.02 703.26,27.06 703.71,27.11 704.17,27.16 704.63,27.20 705.08,27.25 705.54,27.30 706.00,27.35 706.46,27.40 706.91,27.45 707.37,27.51 707.83,27.56 708.29,27.61 708.74,27.67 709.20,27.72 709.66,27.77 710.12,27.83 710.57,27.89 711.03,27.94 711.49,28.00 711.95,28.06 712.40,28.12 712.86,28.18 713.32,28.23 713.78,28.29 714.23,28.36 714.69,28.42 715.15,28.48 715.61,28.54 716.06,28.60 716.52,28.67 716.98,28.73 717.44,28.80 717.89,28.86 718.35,28.93 718.81,29.00 719.27,29.07 719.72,29.14 720.18,29.22 720.64,29.29 721.10,29.37 721.55,29.45 722.01,29.53 722.47,29.61 722.92,29.69 723.38,29.78 723.84,29.86 724.30,29.95 724.75,30.04 725.21,30.13 725.67,30.22 726.13,30.31 726.58,30.41 727.04,30.50 727.50,30.60 727.96,30.70 728.41,30.80 728.87,30.91 729.33,31.01 729.79,31.12 730.24,31.23 730.70,31.34 731.16,31.45 731.62,31.56 732.07,31.68 732.53,31.80 732.99,31.93 733.45,32.06 733.90,32.20 734.36,32.35 734.82,32.50 735.28,32.65 735.73,32.81 736.19,32.98 736.65,33.14 737.11,33.31 737.56,33.49 738.02,33.66 738.48,33.84 738.94,34.02 739.39,34.20 739.85,34.38 740.31,34.56 740.76,34.74 741.22,34.92 741.68,35.10 742.14,35.27 742.59,35.45 743.05,35.62 743.51,35.79 743.97,35.95 744.42,36.12 744.88,36.28 745.34,36.45 745.80,36.61 746.25,36.78 746.71,36.94 747.17,37.11 747.63,37.27 748.08,37.44 748.54,37.61 749.00,37.78 749.46,37.95 749.91,38.13 750.37,38.30 750.83,38.49 751.29,38.67 751.74,38.86 752.20,39.06 752.66,39.25 753.12,39.46 753.57,39.66 754.03,39.88 754.49,40.09 754.95,40.31 755.40,40.53 755.86,40.76 756.32,40.99 756.77,41.23 757.23,41.46 757.69,41.70 758.15,41.95 758.60,42.19 759.06,42.44 759.52,42.69 759.98,42.94 760.43,43.20 760.89,43.45 761.35,43.71 761.81,43.97 762.26,44.23 762.72,44.49 763.18,44.75 763.64,45.01 764.09,45.27 764.55,45.54 765.01,45.80 765.47,46.06 765.92,46.33 766.38,46.59 766.84,46.85 767.30,47.12 767.75,47.38 768.21,47.64 768.67,47.90 769.13,48.17 769.58,48.43 770.04,48.70 770.50,48.96 770.96,49.23 771.41,49.50 771.87,49.77 772.33,50.04 772.79,50.31 773.24,50.59 773.70,50.87 774.16,51.15 774.61,51.43 775.07,51.72 775.53,52.01 775.99,52.30 776.44,52.60 776.90,52.90 777.36,53.20 777.82,53.51 778.27,53.82 778.73,54.14 779.19,54.46 779.65,54.78 780.10,55.11 780.56,55.45 781.02,55.79 781.48,56.13 781.93,56.48 782.39,56.84 782.85,57.20 783.31,57.56 783.76,57.93 784.22,58.30 784.68,58.68 785.14,59.06 785.59,59.45 786.05,59.84 786.51,60.24 786.97,60.64 787.42,61.05 787.88,61.46 788.34,61.87 788.80,62.29 789.25,62.71 789.71,63.14 790.17,63.57 790.62,64.01 791.08,64.45 791.54,64.89 792.00,65.34 792.45,65.80 792.91,66.26 793.37,66.72 793.83,67.18 794.28,67.66 794.74,68.14 795.20,68.63 795.66,69.13 796.11,69.64 796.57,70.15 797.03,70.68 797.49,71.21 797.94,71.74 798.40,72.29 798.86,72.84 799.32,73.39 799.77,73.95 800.23,74.52 800.69,75.09 801.15,75.67 801.60,76.25 802.06,76.83 802.52,77.42 802.98,78.00 803.43,78.60 803.89,79.19 804.35,79.79 804.81,80.39 805.26,80.99 805.72,81.59 806.18,82.19 806.64,82.79 807.09,83.39 807.55,83.99 808.01,84.59 808.46,85.20 808.92,85.80 809.38,86.42 809.84,87.03 810.29,87.65 810.75,88.27 811.21,88.89 811.67,89.51 812.12,90.14 812.58,90.78 813.04,91.41 813.50,92.05 813.95,92.69 814.41,93.33 814.87,93.98 815.33,94.63 815.78,95.29 816.24,95.95 816.70,96.61 817.16,97.27 817.61,97.94 818.07,98.61 818.53,99.28 818.99,99.96 819.44,100.64 819.90,101.33 820.36,102.01 820.82,102.70 821.27,103.40 821.73,104.10 822.19,104.79 822.65,105.49 823.10,106.20 823.56,106.91 824.02,107.62 824.48,108.34 824.93,109.07 825.39,109.81 825.85,110.57 826.30,111.33 826.76,112.10 827.22,112.89 827.68,113.70 828.13,114.52 828.59,115.37 829.05,116.24 829.51,117.13 829.96,118.05 830.42,118.98 830.88,119.92 831.34,120.88 831.79,121.85 832.25,122.83 832.71,123.81 833.17,124.80 833.62,125.79 834.08,126.77 834.54,127.75 835.00,128.73 835.45,129.70 835.91,130.67 836.37,131.64 836.83,132.62 837.28,133.59 837.74,134.57 838.20,135.56 838.66,136.55 839.11,137.54 839.57,138.54 840.03,139.55 840.49,140.56 840.94,141.58 841.40,142.60 841.86,143.64 842.31,144.68 842.77,145.71 843.23,146.75 843.69,147.79 844.14,148.84 844.60,149.89 845.06,150.95 845.52,152.02 845.97,153.11 846.43,154.21 846.89,155.32 847.35,156.45 847.80,157.60 848.26,158.77 848.72,159.97 849.18,161.20 849.63,162.46 850.09,163.74 850.55,165.06 851.01,166.40 851.46,167.76 851.92,169.13 852.38,170.52 852.84,171.92 853.29,173.32 853.75,174.73 854.21,176.14 854.67,177.54 855.12,178.94 855.58,180.33 856.04,181.70 856.50,183.06 856.95,184.41 857.41,185.76 857.87,187.11 858.33,188.46 858.78,189.82 859.24,191.19 859.70,192.57 860.15,193.97 860.61,195.40 861.07,196.85 861.53,198.33 861.98,199.84 862.44,201.39 862.90,202.99 863.36,204.62 863.81,206.30 864.27,208.01 864.73,209.75 865.19,211.53 865.64,213.32 866.10,215.14 866.56,216.97 867.02,218.82 867.47,220.68 867.93,222.54 868.39,224.41 868.85,226.28 869.30,228.14 869.76,229.99 870.22,231.83 870.68,233.67 871.13,235.51 871.59,237.35 872.05,239.21 872.51,241.08 872.96,242.97 873.42,244.89 873.88,246.84 874.34,248.83 874.79,250.86 875.25,252.94 875.71,255.07 876.17,257.25 876.62,259.51 877.08,261.84 877.54,264.24 877.99,266.71 878.45,269.22 878.91,271.79 879.37,274.40 879.82,277.05 880.28,279.72 880.74,282.42 881.20,285.14 881.65,287.87 882.11,290.61 882.57,293.34 883.03,296.07 883.48,298.80 883.94,301.55 884.40,304.32 884.86,307.10 885.31,309.90 885.77,312.73 886.23,315.57 886.69,318.43 887.14,321.32 887.60,324.23 888.06,327.17 888.52,330.12 888.97,333.11 889.43,336.12 889.89,339.15 890.35,342.22 890.80,345.32 891.26,348.46 891.72,351.63 892.18,354.82 892.63,358.05 893.09,361.30 893.55,364.57 894.00,367.86 894.46,371.17 894.92,374.49 895.38,377.83 895.83,381.18 896.29,384.54 896.75,387.91 897.21,391.35 897.66,394.89 898.12,398.52 898.58,402.21 899.04,405.94 899.49,409.69 899.95,413.43 900.41,417.15 900.87,420.82 901.32,424.41 901.78,427.90 902.24,431.28 902.70,434.51 903.15,440.46 909.79,466.50 916.88,453.24 922.59,420.10 922.82,424.04 923.28,420.55 923.74,417.10 924.20,413.71 924.65,410.33 925.11,406.88 925.57,403.38 926.03,399.83 926.48,396.25 926.94,392.65 927.40,389.04 927.85,385.44 928.31,381.84 928.77,378.27 929.23,374.74 929.68,371.25 930.14,367.81 930.60,364.45 931.06,361.17 931.51,357.94 931.97,354.73 932.43,351.56 932.89,348.41 933.34,345.29 933.80,342.20 934.26,339.14 934.72,336.11 935.17,333.12 935.63,330.16 936.09,327.24 936.55,324.36 937.00,321.52 937.46,318.72 937.92,315.96 938.38,313.23 938.83,310.54 939.29,307.88 939.75,305.24 940.21,302.64 940.66,300.07 941.12,297.53 941.58,295.02 942.04,292.54 942.49,290.09 942.95,287.68 943.41,285.29 943.87,282.94 944.32,280.61 944.78,278.32 945.24,276.06 945.69,273.83 946.15,271.62 946.61,269.45 947.07,267.30 947.52,265.17 947.98,263.07 948.44,261.00 948.90,258.95 949.35,256.92 949.81,254.91 950.27,252.92 950.73,250.95 951.18,249.01 951.64,247.08 952.10,245.16 952.56,243.24 953.01,241.34 953.47,239.44 953.93,237.56 954.39,235.70 954.84,233.86 955.30,232.05 955.76,230.26 956.22,228.51 956.67,226.79 957.13,225.11 957.59,223.47 958.05,221.87 958.50,220.33 958.96,218.84 959.42,217.39 959.88,215.99 960.33,214.63 960.79,213.30 961.25,212.00 961.71,210.72 962.16,209.45 962.62,208.18 963.08,206.93 963.53,205.66 963.99,204.39 964.45,203.10 964.91,201.79 965.36,200.45 965.82,199.07 966.28,197.66 966.74,196.22 967.19,194.76 967.65,193.28 968.11,191.81 968.57,190.33 969.02,188.87 969.48,187.43 969.94,186.01 970.40,184.63 970.85,183.29 971.31,182.01 971.77,180.78 972.23,179.62 972.68,178.51 973.14,177.44 973.60,176.41 974.06,175.41 974.51,174.44 974.97,173.49 975.43,172.56 975.89,171.65 976.34,170.75 976.80,169.86 977.26,168.97 977.72,168.09 978.17,167.20 978.63,166.31 979.09,165.41 979.54,164.51 980.00,163.62 980.46,162.74 980.92,161.87 981.37,161.00 981.83,160.14 982.29,159.28 982.75,158.42 983.20,157.57 983.66,156.71 984.12,155.86 984.58,155.00 985.03,154.13 985.49,153.27 985.95,152.40 986.41,151.52 986.86,150.63 987.32,149.74 987.78,148.84 988.24,147.94 988.69,147.04 989.15,146.13 989.61,145.24 990.07,144.34 990.52,143.45 990.98,142.57 991.44,141.69 991.90,140.83 992.35,139.98 992.81,139.14 993.27,138.31 993.73,137.48 994.18,136.66 994.64,135.84 995.10,135.03 995.56,134.23 996.01,133.45 996.47,132.69 996.93,131.94 997.38,131.21 997.84,130.50 998.30,129.80 998.76,129.10 999.21,128.41 999.67,127.72 1000.13,127.04 1000.59,126.37 1001.04,125.72 1001.50,125.08 1001.96,124.45 1002.42,123.84 1002.87,123.26 1003.33,122.69 1003.79,122.15 1004.25,121.64 1004.70,121.15 1005.16,120.69 1005.62,120.25 1006.08,119.83 1006.53,119.42 1006.99,119.03 1007.45,118.65 1007.91,118.28 1008.36,117.92 1008.82,117.57 1009.28,117.22 1009.74,116.88 1010.19,116.54 1010.65,116.20 1011.11,115.85 1011.57,115.51 1012.02,115.16 1012.48,114.80 1012.94,114.43 1013.40,114.05 1013.85,113.67 1014.31,113.28 1014.77,112.89 1015.22,112.49 1015.68,112.10 1016.14,111.71 1016.60,111.31 1017.05,110.91 1017.51,110.51 1017.97,110.12 1018.43,109.72 1018.88,109.32 1019.34,108.92 1019.80,108.53 1020.26,108.13 1020.71,107.74 1021.17,107.33 1021.63,106.93 1022.09,106.52 1022.54,106.11 1023.00,105.70 1023.46,105.30 1023.92,104.89 1024.37,104.49 1024.83,104.09 1025.29,103.70 1025.75,103.32 1026.20,102.94 1026.66,102.57 1027.12,102.22 1027.58,101.87 1028.03,101.53 1028.49,101.21 1028.95,100.88 1029.41,100.57 1029.86,100.26 1030.32,99.95 1030.78,99.65 1031.23,99.34 1031.69,99.04 1032.15,98.73 1032.61,98.43 1033.06,98.12 1033.52,97.80 1033.98,97.48 1034.44,97.16 1034.89,96.83 1035.35,96.49 1035.81,96.15 1036.27,95.81 1036.72,95.47 1037.18,95.13 1037.64,94.79 1038.10,94.46 1038.55,94.12 1039.01,93.79 1039.47,93.46 1039.93,93.14 1040.38,92.82 1040.84,92.51 1041.30,92.21 1041.76,91.90 1042.21,91.60 1042.67,91.30 1043.13,91.00 1043.59,90.71 1044.04,90.42 1044.50,90.13 1044.96,89.85 1045.42,89.57 1045.87,89.29 1046.33,89.02 1046.79,88.76 1047.25,88.50 1047.70,88.25 1048.16,88.00 1048.62,87.77 1049.07,87.53 1049.53,87.30 1049.99,87.08 1050.45,86.85 1050.90,86.63 1051.36,86.42 1051.82,86.20 1052.28,85.99 1052.73,85.78 1053.19,85.57 1053.65,85.36 1054.11,85.15 1054.56,84.94 1055.02,84.72 1055.48,84.51 1055.94,84.29 1056.39,84.08 1056.85,83.86 1057.31,83.65 1057.77,83.44 1058.22,83.23 1058.68,83.02 1059.14,82.81 1059.60,82.61 1060.05,82.42 1060.51,82.23 1060.97,82.04 1061.43,81.86 1061.88,81.68 1062.34,81.51 1062.80,81.33 1063.26,81.16 1063.71,80.99 1064.17,80.82 1064.63,80.66 1065.08,80.49 1065.54,80.33 1066.00,80.17 1066.46,80.02 1066.91,79.87 1067.37,79.72 1067.83,79.57 1068.29,79.43 1068.74,79.29 1069.20,79.16 1069.66,79.03 1070.12,78.90 1070.57,78.78 1071.03,78.66 1071.49,78.55 1071.95,78.43 1072.40,78.32 1072.86,78.21 1073.32,78.10 1073.78,77.99 1074.23,77.89 1074.69,77.78 1075.15,77.68 1075.61,77.58 1076.06,77.48 1076.52,77.39 1076.98,77.29 1077.44,77.20 1077.89,77.11 1078.35,77.02 1078.81,76.94 1079.27,76.86 1079.72,76.78 1080.18,76.70 1080.64,76.62 1081.10,76.55 1081.55,76.48 1082.01,76.42 1082.47,76.35 1082.92,76.29 1083.38,76.22 1083.84,76.16 1084.30,76.10 1084.75,76.03 1085.21,75.97 1085.67,75.91 1086.13,75.85 1086.58,75.79 1087.04,75.73 1087.50,75.68 1087.96,75.62 1088.41,75.56 1088.87,75.51 1089.33,75.45 1089.79,75.40 1090.24,75.34 1090.70,75.29 1091.16,75.24 1091.62,75.19 1092.07,75.14 1092.53,75.09 1092.99,75.04 1093.45,74.99 1093.90,74.94 1094.36,74.90 1094.82,74.85 1095.28,74.81 1095.73,74.76 1096.19,74.72 1096.65,74.68 1097.11,74.63 1097.56,74.59 1098.02,74.55 1098.48,74.51 1098.94,74.47 1099.39,74.44 1099.85,74.40 1100.31,74.36 1100.76,74.33 1101.22,74.29 1101.68,74.26 1102.14,74.23 1102.59,74.19 1103.05,74.16 1103.51,74.13 1103.97,74.10 1104.42,74.08 1104.88,74.05 1105.34,74.02 1105.80,73.99 1106.25,73.97 1106.71,73.94 1107.17,73.92 1107.63,73.89 1108.08,73.86 1108.54,73.84 1109.00,73.81 1109.46,73.79 1109.91,73.76 1110.37,73.74 1110.83,73.72 1111.29,73.69 1111.74,73.67 1112.20,73.65 1112.66,73.62 1113.12,73.60 1113.57,73.58 1114.03,73.56 1114.49,73.54 1114.95,73.51 1115.40,73.49 1115.86,73.47 1116.32,73.45 1116.77,73.43 1117.23,73.41 1117.69,73.40 1118.15,73.38 1118.60,73.36 1119.06,73.34 1119.52,73.33 1119.98,73.31 1120.43,73.29 1120.89,73.28 1121.35,73.26 1121.81,73.25 1122.26,73.23 1122.72,73.22 1123.18,73.21 1123.64,73.19 1124.09,73.18 1124.55,73.17 1125.01,73.16 1125.47,73.15 1125.92,73.14 1126.38,73.13 1126.84,73.12 1127.30,73.11 1127.75,73.10 1128.21,73.09 1128.67,73.09 1129.13,73.08 1129.58,73.07 1130.04,73.06 1130.50,73.06 1130.96,73.05 1131.41,73.04 1131.87,73.04 1132.33,73.03 1132.79,73.02 1133.24,73.01 1133.70,73.01 1134.16,73.00 1134.61,72.99 1135.07,72.99 1135.53,72.98 1135.99,72.98 1136.44,72.97 1136.90,72.96 1137.36,72.96 1137.82,72.95 1138.27,72.95 1138.73,72.94 1139.19,72.94 1139.65,72.93 1140.10,72.93 1140.56,72.92 1141.02,72.92 1141.48,72.91 1141.93,72.91 1142.39,72.90 1142.85,72.90 1143.31,72.90 1143.76,72.89 1144.22,72.89 1144.68,72.89 1145.14,72.88 1145.59,72.88 1146.05,72.88 1146.51,72.88 1146.97,72.87 1147.42,72.87 1147.88,72.87 1148.34,72.87 1148.80,72.87 1149.25,72.87 1149.71,72.87 1150.17,72.87 1150.63,72.86 1151.08,72.86 1151.54,72.86 1152.00,72.86 1152.45,72.86 1152.91,72.86 1153.37,72.86 1153.83,72.86 1154.28,72.86 1154.74,72.86 1155.20,72.86 1155.66,72.86 1156.11,72.86 1156.57,72.86 1157.03,72.86 1157.49,72.86 1157.94,72.86 1158.40,72.86 1158.86,72.86 1159.32,72.86 1159.77,72.86 1160.23,72.86 1160.69,72.86 1161.15,72.86 1161.60,72.86 1162.06,72.86 1162.52,72.86 1162.98,72.86 1163.43,72.86 1163.89,72.86 1164.35,72.86 1164.81,72.86 1165.26,72.86 1165.72,72.86 1166.18,72.86 1166.64,72.86 1167.09,72.86 1167.55,72.86 1168.01,72.86 1168.46,72.86 1168.92,72.86 1169.38,72.86 1169.84,72.86 1170.29,72.86 1170.75,72.86 1171.21,72.86 1171.67,72.86 1172.12,72.86 1172.58,72.86 1173.04,72.86 1173.50,72.86 1173.95,72.87 1174.41,72.87 1174.87,72.87 1175.33,72.87 1175.78,72.88 1176.24,72.88 1176.70,72.89 1177.16,72.90 1177.61,72.90 1178.07,72.91 1178.53,72.92 1178.99,72.93 1179.44,72.95 1179.90,72.96 1180.36,72.97 1180.82,72.99 1181.27,73.00 1181.73,73.02 1182.19,73.03 1182.65,73.05 1183.10,73.07 1183.56,73.09 1184.02,73.11 1184.48,73.13 1184.93,73.15 1185.39,73.18 1185.85,73.20 1186.30,73.22 1186.76,73.25 1187.22,73.27 1187.68,73.30 1188.13,73.33 1188.59,73.36 1189.05,73.39 1189.51,73.42 1189.96,73.45 1190.42,73.48 1190.88,73.51 1191.34,73.54 1191.79,73.58 1192.25,73.62 1192.71,73.67 1193.17,73.74 1193.62,73.81 1194.08,73.90 1194.54,74.00 1195.00,74.11 1195.45,74.22 1195.91,74.34 1196.37,74.47 1196.83,74.61 1197.28,74.75 1197.74,74.89 1198.20,75.04 1198.66,75.19 1199.11,75.34 1199.57,75.49 1200.03,75.64 1200.49,75.79 1200.94,75.94 1201.40,76.09 1201.86,76.25 1202.31,76.42 1202.77,76.59 1203.23,76.76 1203.69,76.94 1204.14,77.13 1204.60,77.32 1205.06,77.52 1205.52,77.71 1205.97,77.92 1206.43,78.13 1206.89,78.34 1207.35,78.55 1207.80,78.76 1208.26,78.98 1208.72,79.20 1209.18,79.42 1209.63,79.64 1210.09,79.87 1210.55,80.09 1211.01,80.32 1211.46,80.55 1211.92,80.78 1212.38,81.03 1212.84,81.28 1213.29,81.53 1213.75,81.79 1214.21,82.05 1214.67,82.31 1215.12,82.57 1215.58,82.84 1216.04,83.10 1216.50,83.37 1216.95,83.64 1217.41,83.90 1217.87,84.17 1218.33,84.43 1218.78,84.68 1219.24,84.94 1219.70,85.19 1220.15,85.44 1220.61,85.69 1221.07,85.94 1221.53,86.19 1221.98,86.45 1222.44,86.70 1222.90,86.95 1223.36,87.20 1223.81,87.45 1224.27,87.70 1224.73,87.95 1225.19,88.19 1225.64,88.44 1226.10,88.69 1226.56,88.93 1227.02,89.18 1227.47,89.42 1227.93,89.66 1228.39,89.90 1228.85,90.14 1229.30,90.38 1229.76,90.62 1230.22,90.85 1230.68,91.08 1231.13,91.31 1231.59,91.53 1232.05,91.75 1232.51,91.96 1232.96,92.18 1233.42,92.39 1233.88,92.61 1234.34,92.82 1234.79,93.03 1235.25,93.25 1235.71,93.47 1236.17,93.68 1236.62,93.91 1237.08,94.13 1237.54,94.36 1237.99,94.60 1238.45,94.83 1238.91,95.08 1239.37,95.33 1239.82,95.59 1240.28,95.85 1240.74,96.12 1241.20,96.39 1241.65,96.66 1242.11,96.94 1242.57,97.23 1243.03,97.51 1243.48,97.81 1243.94,98.10 1244.40,98.41 1244.86,98.71 1245.31,99.03 1245.77,99.34 1246.23,99.67 1246.69,100.00 1247.14,100.33 1247.60,100.68 1248.06,101.03 1248.52,101.38 1248.97,101.74 1249.43,102.11 1249.89,102.50 1250.35,102.89 1250.80,103.29 1251.26,103.70 1251.72,104.12 1252.18,104.55 1252.63,104.99 1253.09,105.44 1253.55,105.89 1254.00,106.35 1254.46,106.82 1254.92,107.29 1255.38,107.77 1255.83,108.25 1256.29,108.73 1256.75,109.22 1257.21,109.72 1257.66,110.21 1258.12,110.71 1258.58,111.21 1259.04,111.72 1259.49,112.23 1259.95,112.75 1260.41,113.28 1260.87,113.81 1261.32,114.35 1261.78,114.90 1262.24,115.45 1262.70,116.01 1263.15,116.58 1263.61,117.15 1264.07,117.72 1264.53,118.30 1264.98,118.89 1265.44,119.48 1265.90,120.07 1266.36,120.66 1266.81,121.26 1267.27,121.86 1267.73,122.47 1268.19,123.07 1268.64,123.69 1269.10,124.30 1269.56,124.93 1270.02,125.56 1270.47,126.19 1270.93,126.83 1271.39,127.48 1271.84,128.14 1272.30,128.81 1272.76,129.48 1273.22,130.17 1273.67,130.86 1274.13,131.57 1274.59,132.29 1275.05,133.02 1275.50,133.77 1275.96,134.53 1276.42,135.30 1276.88,136.08 1277.33,136.87 1277.79,137.67 1278.25,138.47 1278.71,139.29 1279.16,140.10 1279.62,140.92 1280.08,141.75 1280.54,142.57 1280.99,143.40 1281.45,144.23 1281.91,145.07 1282.37,145.91 1282.82,146.75 1283.28,147.61 1283.74,148.47 1284.20,149.33 1284.65,150.20 1285.11,151.07 1285.57,151.95 1286.03,152.83 1286.48,153.72 1286.94,154.62 1287.40,155.52 1287.86,156.42 1288.31,157.33 1288.77,158.25 1289.23,159.18 1289.68,160.12 1290.14,161.06 1290.60,162.01 1291.06,162.97 1291.51,163.92 1291.97,164.88 1292.43,165.84 1292.89,166.80 1293.34,167.76 1293.80,168.72 1294.26,169.67 1294.72,170.62 1295.17,171.56 1295.63,172.50 1296.09,173.42 1296.55,174.34 1297.00,175.26 1297.46,176.18 1297.92,177.10 1298.38,178.03 1298.83,178.96 1299.29,179.90 1299.75,180.85 1300.21,181.82 1300.66,182.80 1301.12,183.80 1301.58,184.82 1302.04,185.88 1302.49,186.97 1302.95,188.09 1303.41,189.24 1303.87,190.41 1304.32,191.59 1304.78,192.78 1305.24,193.98 1305.69,195.16 1306.15,196.34 1306.61,197.50 1307.07,198.64 1307.52,199.75 1307.98,200.83 1308.44,201.87 1308.90,202.87 1309.35,203.86 1309.81,204.84 1310.27,205.81 1310.73,206.76 1311.18,207.70 1311.64,208.62 1312.10,209.53 1312.56,210.43 1313.01,211.32 1313.47,212.20 1313.93,213.06 1314.39,213.92 1314.84,214.76 1315.30,215.60 1315.76,216.42 1316.22,217.25 1316.67,218.08 1317.13,218.91 1317.59,219.72 1318.05,220.53 1318.50,221.32 1318.96,222.10 1319.42,222.87 1319.88,223.61 1320.33,224.33 1320.79,225.03 1321.25,225.70 1321.71,226.35 1322.16,226.96 1322.62,227.56 1323.08,228.16 1323.53,228.76 1323.99,229.37 1324.45,229.96 1324.91,230.53 1325.36,231.09 1325.82,231.63 1326.28,232.13 1326.74,232.61 1327.19,233.04 1327.65,233.43 1328.11,233.77 1328.57,234.06 1329.02,234.29 1329.48,234.49 1329.94,234.69 1330.40,234.88 1330.85,235.06 1331.31,235.23 1331.77,235.39 1332.23,235.55 1332.68,235.69 1333.14,235.81 1333.60,235.92 1334.06,236.01 1334.51,236.09 1334.97,236.14 1335.43,236.18 1335.89,236.19 1336.34,236.16 1336.80,236.06 1337.26,235.91 1337.72,235.71 1338.17,235.46 1338.63,235.17 1339.09,234.85 1339.54,234.50 1340.00,234.12 1340.46,233.73 1340.92,233.32 1341.37,232.91 1341.83,232.50 1342.29,232.09 1342.75,231.69 1343.20,231.28 1343.66,230.83 1344.12,230.35 1344.58,229.84 1345.03,229.30 1345.49,228.73 1345.95,228.15 1346.41,227.55 1346.86,226.94 1347.32,226.32 1347.78,225.69 1348.24,225.05 1348.69,224.42 1349.15,223.79 1349.61,223.17 1350.07,222.55 1350.52,221.93 1350.98,221.30 1351.44,220.67 1351.90,220.03 1352.35,219.39 1352.81,218.73 1353.27,218.07 1353.73,217.39 1354.18,216.70 1354.64,215.99 1355.10,215.27 1355.56,214.53 1356.01,213.77 1356.47,212.99 1356.93,212.18 1357.38,211.32 1357.84,210.44 1358.30,209.51 1358.76,208.57 1359.21,207.60 1359.67,206.62 1360.13,205.62 1360.59,204.62 1361.04,203.62 1361.50,202.63 1361.96,201.64 1362.42,200.67 1362.87,199.72 1363.33,198.79 1363.79,197.88 1364.25,196.97 1364.70,196.08 1365.16,195.18 1365.62,194.29 1366.08,193.41 1366.53,192.53 1366.99,191.65 1367.45,190.78 1367.91,189.90 1368.36,189.03 1368.82,188.16 1369.28,187.28 1369.74,186.41 1370.19,185.53 1370.65,184.65 1371.11,183.77 1371.57,182.87 1372.02,181.98 1372.48,181.08 1372.94,180.18 1373.40,179.29 1373.85,178.40 1374.31,177.52 1374.77,176.65 1375.22,175.79 1375.68,174.95 1376.14,174.12 1376.60,173.31 1377.05,172.52 1377.51,171.74 1377.97,170.99 1378.43,170.26 1378.88,169.53 1379.34,168.82 1379.80,168.12 1380.26,167.43 1380.71,166.74 1381.17,166.06 1381.63,165.37 1382.09,164.68 1382.54,163.99 1383.00,163.29 1383.46,162.58 1383.92,161.86 1384.37,161.13 1384.83,160.40 1385.29,159.65 1385.75,158.91 1386.20,158.16 1386.66,157.40 1387.12,156.65 1387.58,155.89 1388.03,155.14 1388.49,154.39 1388.95,153.65 1389.41,152.91 1389.86,152.18 1390.32,151.45 1390.78,150.74 1391.23,150.03 1391.69,149.33 1392.15,148.63 1392.61,147.93 1393.06,147.24 1393.52,146.56 1393.98,145.87 1394.44,145.19 1394.89,144.52 1395.35,143.85 1395.81,143.18 1396.27,142.52 1396.72,141.86 1397.18,141.21 1397.64,140.56 1398.10,139.92 1398.55,139.27 1399.01,138.63 1399.47,137.99 1399.93,137.35 1400.38,136.72 1400.84,136.09 1401.30,135.46 1401.76,134.85 1402.21,134.24 1402.67,133.64 1403.13,133.05 1403.59,132.46 1404.04,131.89 1404.50,131.33 1404.96,130.78 1405.42,130.24 1405.87,129.71 1406.33,129.19 1406.79,128.68 1407.25,128.17 1407.70,127.67 1408.16,127.17 1408.62,126.68 1409.07,126.19 1409.53,125.70 1409.99,125.22 1410.45,124.73 1410.90,124.24 1411.36,123.76 1411.82,123.27 1412.28,122.79 1412.73,122.31 1413.19,121.83 1413.65,121.35 1414.11,120.88 1414.56,120.41 1415.02,119.94 1415.48,119.47 1415.94,119.00 1416.39,118.54 1416.85,118.07 1417.31,117.60 1417.77,117.13 1418.22,116.65 1418.68,116.18 1419.14,115.70 1419.60,115.21 1420.05,114.73 1420.51,114.24 1420.97,113.75 1421.43,113.27 1421.88,112.78 1422.34,112.30 1422.80,111.82 1423.26,111.35 1423.71,110.89 1424.17,110.44 1424.63,109.99 1425.09,109.55 1425.54,109.13 1426.00,108.71 1426.46,108.30 1426.91,107.90 1427.37,107.51 1427.83,107.12 1428.29,106.73 1428.74,106.35 1429.20,105.97 1429.66,105.59 1430.12,105.20 1430.57,104.82 1431.03,104.43 1431.49,104.03 1431.95,103.64 1432.40,103.24 1432.86,102.84 1433.32,102.44 1433.78,102.04 1434.23,101.65 1434.69,101.25 1435.15,100.85 1435.61,100.45 1436.06,100.04 1436.52,99.63 1436.98,99.21 1437.44,98.79 1437.89,98.36 1438.35,97.93 1438.81,97.48 1439.27,97.02 1439.72,96.53 1440.18,96.03 1440.64,95.51 1441.10,94.99 1441.55,94.47 1442.01,93.95 1442.47,93.44 1442.92,92.94 1443.38,92.47 1443.84,92.02 1444.30,91.59 1444.75,91.18 1445.21,90.78 1445.67,90.39 1446.13,90.01 1446.58,89.64 1447.04,89.27 1447.50,88.92 1447.96,88.56 1448.41,88.22 1448.87,87.87 1449.33,87.53 1449.79,87.19 1450.24,86.86 1450.70,86.52 1451.16,86.19 1451.62,85.85 1452.07,85.52 1452.53,85.18 1452.99,84.85 1453.45,84.52 1453.90,84.19 1454.36,83.87 1454.82,83.55 1455.28,83.24 1455.73,82.94 1456.19,82.66 1456.65,82.38 1457.11,82.11 1457.56,81.86 1458.02,81.62 1458.48,81.39 1458.94,81.18 1459.39,80.97 1459.85,80.77 1460.31,80.58 1460.76,80.39 1461.22,80.20 1461.68,80.02 1462.14,79.84 1462.59,79.66 1463.05,79.48 1463.51,79.30 1463.97,79.11 1464.42,78.92 1464.88,78.72 1465.34,78.51 1465.80,78.30 1466.25,78.07 1466.71,77.83 1467.17,77.57 1467.63,77.29 1468.08,77.01 1468.54,76.72 1469.00,76.42 1469.46,76.13 1469.91,75.85 1470.37,75.58 1470.83,75.33 1471.29,75.10 1471.74,74.89 1472.20,74.70 1472.66,74.50 1473.12,74.32 1473.57,74.14 1474.03,73.96 1474.49,73.79 1474.95,73.63 1475.40,73.47 1475.86,73.32 1476.32,73.17 1476.77,73.03 1477.23,72.89 1477.69,72.76 1478.15,72.63 1478.60,72.50 1479.06,72.38 1479.52,72.26 1479.98,72.15 1480.43,72.03 1480.89,71.92 1481.35,71.81 1481.81,71.71 1482.26,71.61 1482.72,71.52 1483.18,71.43 1483.64,71.35 1484.09,71.28 1484.55,71.21 1485.01,71.14 1485.47,71.08 1485.92,71.01 1486.38,70.95 1486.84,70.89 1487.30,70.83 1487.75,70.77 1488.21,70.71 1488.67,70.66 1489.13,70.61 1489.58,70.56 1490.04,70.51 1490.50,70.47 1490.96,70.43 1491.41,70.39 1491.87,70.36 1492.33,70.33 1492.79,70.30 1493.24,70.28 1493.70,70.26"/><polyline points="121.40,32.86 121.86,32.30 122.31,31.75 122.77,31.21 123.23,30.69 123.69,30.18 124.14,29.68 124.60,29.21 125.06,28.76 125.52,28.32 125.97,27.91 126.43,27.52 126.89,27.16 127.35,26.82 127.80,26.52 128.26,26.23 128.72,25.97 129.18,25.72 129.63,25.48 130.09,25.24 130.55,25.02 131.01,24.81 131.46,24.60 131.92,24.41 132.38,24.23 132.84,24.06 133.29,23.90 133.75,23.76 134.21,23.62 134.67,23.50 135.12,23.39 135.58,23.29 136.04,23.20 136.50,23.10 136.95,23.00 137.41,22.91 137.87,22.81 138.33,22.72 138.78,22.63 139.24,22.54 139.70,22.46 140.15,22.38 140.61,22.29 141.07,22.22 141.53,22.14 141.98,22.07 142.44,22.00 142.90,21.94 143.36,21.88 143.81,21.82 144.27,21.77 144.73,21.72 145.19,21.68 145.64,21.64 146.10,21.60 146.56,21.57 147.02,21.55 147.47,21.53 147.93,21.51 148.39,21.50 148.85,21.50 149.30,21.50 149.76,21.51 150.22,21.52 150.68,21.54 151.13,21.56 151.59,21.59 152.05,21.62 152.51,21.65 152.96,21.68 153.42,21.72 153.88,21.77 154.34,21.81 154.79,21.86 155.25,21.91 155.71,21.96 156.16,22.02 156.62,22.07 157.08,22.13 157.54,22.19 157.99,22.25 158.45,22.31 158.91,22.38 159.37,22.44 159.82,22.50 160.28,22.57 160.74,22.63 161.20,22.69 161.65,22.75 162.11,22.82 162.57,22.88 163.03,22.94 163.48,23.00 163.94,23.05 164.40,23.11 164.86,23.16 165.31,23.21 165.77,23.26 166.23,23.31 166.69,23.35 167.14,23.39 167.60,23.43 168.06,23.47 168.52,23.52 168.97,23.56 169.43,23.60 169.89,23.64 170.35,23.69 170.80,23.73 171.26,23.77 171.72,23.82 172.18,23.86 172.63,23.91 173.09,23.95 173.55,24.00 174.00,24.04 174.46,24.09 174.92,24.13 175.38,24.17 175.83,24.22 176.29,24.26 176.75,24.30 177.21,24.35 177.66,24.39 178.12,24.43 178.58,24.47 179.04,24.51 179.49,24.55 179.95,24.58 180.41,24.62 180.87,24.66 181.32,24.69 181.78,24.72 182.24,24.76 182.70,24.79 183.15,24.82 183.61,24.85 184.07,24.87 184.53,24.90 184.98,24.92 185.44,24.94 185.90,24.96 186.36,24.98 186.81,25.00 187.27,25.01 187.73,25.02 188.19,25.03 188.64,25.04 189.10,25.05 189.56,25.05 190.02,25.05 190.47,25.05 190.93,25.05 191.39,25.04 191.84,25.04 192.30,25.03 192.76,25.02 193.22,25.01 193.67,25.00 194.13,24.98 194.59,24.97 195.05,24.95 195.50,24.93 195.96,24.91 196.42,24.89 196.88,24.87 197.33,24.85 197.79,24.82 198.25,24.80 198.71,24.77 199.16,24.75 199.62,24.72 200.08,24.69 200.54,24.67 200.99,24.64 201.45,24.61 201.91,24.58 202.37,24.55 202.82,24.52 203.28,24.49 203.74,24.46 204.20,24.42 204.65,24.39 205.11,24.36 205.57,24.33 206.03,24.30 206.48,24.27 206.94,24.23 207.40,24.20 207.85,24.17 208.31,24.14 208.77,24.11 209.23,24.08 209.68,24.05 210.14,24.03 210.60,24.00 211.06,23.97 211.51,23.94 211.97,23.92 212.43,23.89 212.89,23.87 213.34,23.84 213.80,23.82 214.26,23.79 214.72,23.77 215.17,23.74 215.63,23.71 216.09,23.68 216.55,23.65 217.00,23.62 217.46,23.59 217.92,23.56 218.38,23.53 218.83,23.50 219.29,23.47 219.75,23.44 220.21,23.41 220.66,23.38 221.12,23.34 221.58,23.31 222.04,23.28 222.49,23.25 222.95,23.22 223.41,23.19 223.87,23.16 224.32,23.13 224.78,23.10 225.24,23.07 225.69,23.04 226.15,23.01 226.61,22.99 227.07,22.96 227.52,22.94 227.98,22.91 228.44,22.89 228.90,22.87 229.35,22.84 229.81,22.82 230.27,22.80 230.73,22.79 231.18,22.77 231.64,22.75 232.10,22.74 232.56,22.73 233.01,22.72 233.47,22.71 233.93,22.70 234.39,22.69 234.84,22.69 235.30,22.69 235.76,22.68 236.22,22.69 236.67,22.69 237.13,22.69 237.59,22.70 238.05,22.70 238.50,22.71 238.96,22.72 239.42,22.73 239.88,22.75 240.33,22.76 240.79,22.77 241.25,22.79 241.70,22.80 242.16,22.82 242.62,22.84 243.08,22.86 243.53,22.87 243.99,22.89 244.45,22.91 244.91,22.93 245.36,22.96 245.82,22.98 246.28,23.00 246.74,23.02 247.19,23.04 247.65,23.06 248.11,23.08 248.57,23.10 249.02,23.12 249.48,23.14 249.94,23.16 250.40,23.18 250.85,23.20 251.31,23.22 251.77,23.24 252.23,23.26 252.68,23.28 253.14,23.29 253.60,23.31 254.06,23.32 254.51,23.33 254.97,23.35 255.43,23.36 255.89,23.37 256.34,23.37 256.80,23.38 257.26,23.39 257.72,23.39 258.17,23.39 258.63,23.39 259.09,23.39 259.54,23.39 260.00,23.38 260.46,23.37 260.92,23.36 261.37,23.35 261.83,23.33 262.29,23.31 262.75,23.29 263.20,23.27 263.66,23.25 264.12,23.22 264.58,23.19 265.03,23.16 265.49,23.13 265.95,23.10 266.41,23.07 266.86,23.03 267.32,23.00 267.78,22.96 268.24,22.93 268.69,22.89 269.15,22.85 269.61,22.81 270.07,22.77 270.52,22.73 270.98,22.69 271.44,22.66 271.90,22.62 272.35,22.58 272.81,22.54 273.27,22.50 273.73,22.46 274.18,22.42 274.64,22.39 275.10,22.35 275.56,22.31 276.01,22.28 276.47,22.25 276.93,22.21 277.38,22.18 277.84,22.15 278.30,22.12 278.76,22.10 279.21,22.07 279.67,22.05 280.13,22.03 280.59,22.01 281.04,21.99 281.50,21.97 281.96,21.96 282.42,21.95 282.87,21.93 283.33,21.92 283.79,21.90 284.25,21.89 284.70,21.88 285.16,21.86 285.62,21.85 286.08,21.83 286.53,21.82 286.99,21.81 287.45,21.79 287.91,21.78 288.36,21.77 288.82,21.75 289.28,21.74 289.74,21.73 290.19,21.72 290.65,21.71 291.11,21.69 291.57,21.68 292.02,21.67 292.48,21.66 292.94,21.65 293.39,21.64 293.85,21.63 294.31,21.62 294.77,21.61 295.22,21.60 295.68,21.59 296.14,21.58 296.60,21.57 297.05,21.57 297.51,21.56 297.97,21.55 298.43,21.54 298.88,21.54 299.34,21.53 299.80,21.53 300.26,21.52 300.71,21.52 301.17,21.51 301.63,21.51 302.09,21.51 302.54,21.51 303.00,21.50 303.46,21.50 303.92,21.50 304.37,21.50 304.83,21.50 305.29,21.51 305.75,21.53 306.20,21.54 306.66,21.57 307.12,21.60 307.58,21.63 308.03,21.66 308.49,21.70 308.95,21.75 309.41,21.79 309.86,21.84 310.32,21.90 310.78,21.95 311.23,22.01 311.69,22.07 312.15,22.14 312.61,22.20 313.06,22.27 313.52,22.33 313.98,22.40 314.44,22.47 314.89,22.54 315.35,22.61 315.81,22.68 316.27,22.76 316.72,22.84 317.18,22.93 317.64,23.02 318.10,23.12 318.55,23.23 319.01,23.34 319.47,23.46 319.93,23.58 320.38,23.71 320.84,23.85 321.30,23.99 321.76,24.13 322.21,24.28 322.67,24.44 323.13,24.60 323.59,24.77 324.04,24.93 324.50,25.11 324.96,25.29 325.42,25.47 325.87,25.65 326.33,25.84 326.79,26.04 327.25,26.24 327.70,26.44 328.16,26.67 328.62,26.91 329.07,27.17 329.53,27.44 329.99,27.73 330.45,28.03 330.90,28.34 331.36,28.66 331.82,28.99 332.28,29.33 332.73,29.68 333.19,30.04 333.65,30.40 334.11,30.77 334.56,31.14 335.02,31.51 335.48,31.89 335.94,32.27 336.39,32.65 336.85,33.03 337.31,33.40 337.77,33.78 338.22,34.15 338.68,34.52 339.14,34.89 339.60,35.28 340.05,35.69 340.51,36.10 340.97,36.53 341.43,36.96 341.88,37.40 342.34,37.85 342.80,38.30 343.26,38.76 343.71,39.21 344.17,39.66 344.63,40.11 345.08,40.56 345.54,41.00 346.00,41.43 346.46,41.85 346.91,42.27 347.37,42.66 347.83,43.05 348.29,43.42 348.74,43.77 349.20,44.10 349.66,44.41 350.12,44.70 350.57,44.97 351.03,45.23 351.49,45.48 351.95,45.73 352.40,45.96 352.86,46.19 353.32,46.41 353.78,46.63 354.23,46.84 354.69,47.05 355.15,47.25 355.61,47.45 356.06,47.64 356.52,47.83 356.98,48.02 357.44,48.21 357.89,48.39 358.35,48.58 358.81,48.76 359.27,48.95 359.72,49.14 360.18,49.33 360.64,49.52 361.10,49.71 361.55,49.91 362.01,50.10 362.47,50.30 362.92,50.50 363.38,50.70 363.84,50.90 364.30,51.09 364.75,51.29 365.21,51.48 365.67,51.68 366.13,51.87 366.58,52.06 367.04,52.25 367.50,52.44 367.96,52.63 368.41,52.81 368.87,52.99 369.33,53.17 369.79,53.35 370.24,53.52 370.70,53.69 371.16,53.86 371.62,54.02 372.07,54.18 372.53,54.34 372.99,54.49 373.45,54.65 373.90,54.80 374.36,54.94 374.82,55.09 375.28,55.23 375.73,55.38 376.19,55.52 376.65,55.66 377.11,55.80 377.56,55.94 378.02,56.08 378.48,56.23 378.93,56.37 379.39,56.51 379.85,56.65 380.31,56.80 380.76,56.94 381.22,57.09 381.68,57.24 382.14,57.39 382.59,57.54 383.05,57.70 383.51,57.86 383.97,58.02 384.42,58.19 384.88,58.36 385.34,58.53 385.80,58.70 386.25,58.87 386.71,59.04 387.17,59.21 387.63,59.39 388.08,59.57 388.54,59.74 389.00,59.92 389.46,60.11 389.91,60.29 390.37,60.48 390.83,60.67 391.29,60.86 391.74,61.05 392.20,61.25 392.66,61.44 393.12,61.65 393.57,61.85 394.03,62.06 394.49,62.27 394.95,62.48 395.40,62.70 395.86,62.92 396.32,63.15 396.77,63.37 397.23,63.59 397.69,63.81 398.15,64.04 398.60,64.26 399.06,64.49 399.52,64.72 399.98,64.95 400.43,65.18 400.89,65.42 401.35,65.66 401.81,65.90 402.26,66.15 402.72,66.41 403.18,66.67 403.64,66.94 404.09,67.22 404.55,67.50 405.01,67.79 405.47,68.09 405.92,68.39 406.38,68.71 406.84,69.03 407.30,69.37 407.75,69.71 408.21,70.07 408.67,70.44 409.13,70.82 409.58,71.21 410.04,71.63 410.50,72.09 410.96,72.60 411.41,73.14 411.87,73.72 412.33,74.32 412.79,74.95 413.24,75.60 413.70,76.27 414.16,76.95 414.61,77.64 415.07,78.34 415.53,79.04 415.99,79.74 416.44,80.44 416.90,81.13 417.36,81.83 417.82,82.54 418.27,83.26 418.73,83.99 419.19,84.73 419.65,85.48 420.10,86.26 420.56,87.05 421.02,87.86 421.48,88.69 421.93,89.55 422.39,90.43 422.85,91.34 423.31,92.27 423.76,93.25 424.22,94.27 424.68,95.33 425.14,96.43 425.59,97.57 426.05,98.74 426.51,99.94 426.97,101.17 427.42,102.42 427.88,103.70 428.34,104.99 428.80,106.29 429.25,107.61 429.71,108.93 430.17,110.26 430.62,111.60 431.08,112.96 431.54,114.34 432.00,115.74 432.45,117.16 432.91,118.60 433.37,120.06 433.83,121.55 434.28,123.06 434.74,124.60 435.20,126.17 435.66,127.77 436.11,129.40 436.57,131.06 437.03,132.75 437.49,134.48 437.94,136.25 438.40,138.05 438.86,139.90 439.32,141.78 439.77,143.70 440.23,145.66 440.69,147.65 441.15,149.68 441.60,151.74 442.06,153.84 442.52,155.98 442.98,158.14 443.43,160.34 443.89,162.57 444.35,164.84 444.81,167.14 445.26,169.48 445.72,171.86 446.18,174.28 446.64,176.74 447.09,179.26 447.55,181.82 448.01,184.44 448.46,187.11 448.92,189.84 449.38,192.63 449.84,195.49 450.29,198.41 450.75,201.39 451.21,204.44 451.67,207.56 452.12,210.74 452.58,213.99 453.04,217.32 453.50,220.73 453.95,224.23 454.41,227.82 454.87,231.50 455.33,235.28 455.78,239.16 456.24,243.16 456.70,247.26 457.16,251.49 457.61,255.83 458.07,260.31 458.53,264.93 458.99,269.69 459.44,274.61 459.90,279.67 460.36,284.90 460.82,290.30 461.27,295.87 461.73,301.61 462.19,307.54 462.65,313.66 463.10,319.96 463.56,326.47 464.02,333.18 464.48,340.10 464.93,347.37 465.39,355.10 465.85,363.25 466.30,371.79 466.76,380.68 467.22,389.88 467.68,399.36 468.13,409.08 468.59,419.00 469.05,429.08 469.51,439.30 469.96,449.60 470.42,459.96 470.88,470.34 471.34,480.70 471.79,491.90 472.25,504.62 472.71,518.51 473.17,533.24 473.62,548.47 474.08,563.85 474.54,579.05 475.00,593.73 475.45,607.55 475.91,620.18 476.37,631.27 476.83,640.48 477.28,647.48 477.74,651.93 478.20,653.49 478.66,651.10 479.11,644.33 479.57,633.80 480.03,620.13 480.49,603.92 480.94,585.79 481.40,566.35 481.86,546.22 482.31,526.01 482.77,506.33 483.23,487.80 483.69,467.38 484.14,444.30 484.60,422.55 485.06,406.14 485.52,394.17 485.97,383.06 486.43,372.73 486.89,363.14 487.35,354.21 487.80,345.89 488.26,338.11 488.72,330.82 489.18,323.96 489.63,317.46 490.09,311.26 490.55,305.30 491.01,299.52 491.46,293.86 491.92,288.26 492.38,282.86 492.84,277.82 493.29,273.09 493.75,268.61 494.21,264.35 494.67,260.26 495.12,256.29 495.58,252.39 496.04,248.52 496.50,244.62 496.95,240.66 497.41,236.58 497.87,232.33 498.33,227.88 498.78,223.17 499.24,218.20 499.70,213.00 500.15,207.63 500.61,202.10 501.07,196.45 501.53,190.71 501.98,184.92 502.44,179.10 502.90,173.30 503.36,167.54 503.81,161.86 504.27,156.29 504.73,150.86 505.19,145.61 505.64,140.56 506.10,135.60 506.56,130.58 507.02,125.54 507.47,120.51 507.93,115.52 508.39,110.59 508.85,105.74 509.30,101.02 509.76,96.44 510.22,92.03 510.68,87.83 511.13,83.85 511.59,80.13 512.05,76.70 512.51,73.57 512.96,70.66 513.42,67.81 513.88,65.05 514.34,62.38 514.79,59.80 515.25,57.32 515.71,54.95 516.16,52.68 516.62,50.54 517.08,48.51 517.54,46.62 517.99,44.86 518.45,43.24 518.91,41.76 519.37,40.44 519.82,39.20 520.28,38.00 520.74,36.83 521.20,35.69 521.65,34.61 522.11,33.57 522.57,32.59 523.03,31.67 523.48,30.82 523.94,30.04 524.40,29.34 524.86,28.72 525.31,28.19 525.77,27.75 526.23,27.42 526.69,27.14 527.14,26.87 527.60,26.60 528.06,26.35 528.52,26.10 528.97,25.86 529.43,25.62 529.89,25.39 530.35,25.17 530.80,24.96 531.26,24.75 531.72,24.55 532.18,24.36 532.63,24.18 533.09,24.00 533.55,23.82 534.00,23.66 534.46,23.50 534.92,23.35 535.38,23.20 535.83,23.06 536.29,22.92 536.75,22.80 537.21,22.68 537.66,22.56 538.12,22.45 538.58,22.35 539.04,22.25 539.49,22.16 539.95,22.07 540.41,21.99 540.87,21.91 541.32,21.84 541.78,21.78 542.24,21.72 542.70,21.67 543.15,21.62 543.61,21.57 544.07,21.53 544.53,21.50 544.98,21.47 545.44,21.44 545.90,21.41 546.36,21.38 546.81,21.35 547.27,21.32 547.73,21.29 548.19,21.27 548.64,21.24 549.10,21.21 549.56,21.18 550.02,21.16 550.47,21.13 550.93,21.11 551.39,21.08 551.84,21.05 552.30,21.03 552.76,21.01 553.22,20.98 553.67,20.96 554.13,20.94 554.59,20.91 555.05,20.89 555.50,20.87 555.96,20.85 556.42,20.83 556.88,20.81 557.33,20.79 557.79,20.77 558.25,20.75 558.71,20.73 559.16,20.71 559.62,20.69 560.08,20.68 560.54,20.66 560.99,20.64 561.45,20.63 561.91,20.61 562.37,20.59 562.82,20.58 563.28,20.56 563.74,20.55 564.20,20.54 564.65,20.52 565.11,20.51 565.57,20.50 566.03,20.49 566.48,20.47 566.94,20.46 567.40,20.45 567.85,20.44 568.31,20.43 568.77,20.42 569.23,20.41 569.68,20.40 570.14,20.40 570.60,20.39 571.06,20.38 571.51,20.37 571.97,20.37 572.43,20.36 572.89,20.35 573.34,20.35 573.80,20.34 574.26,20.34 574.72,20.34 575.17,20.33 575.63,20.33 576.09,20.33 576.55,20.32 577.00,20.32 577.46,20.32 577.92,20.32 578.38,20.32 578.83,20.32 579.29,20.32 579.75,20.32 580.21,20.32 580.66,20.32 581.12,20.32 581.58,20.32 582.04,20.32 582.49,20.32 582.95,20.32 583.41,20.33 583.87,20.33 584.32,20.33 584.78,20.33 585.24,20.33 585.69,20.34 586.15,20.34 586.61,20.34 587.07,20.34 587.52,20.35 587.98,20.35 588.44,20.35 588.90,20.36 589.35,20.36 589.81,20.36 590.27,20.37 590.73,20.37 591.18,20.37 591.64,20.38 592.10,20.38 592.56,20.39 593.01,20.39 593.47,20.40 593.93,20.40 594.39,20.41 594.84,20.41 595.30,20.42 595.76,20.42 596.22,20.43 596.67,20.43 597.13,20.44 597.59,20.44 598.05,20.45 598.50,20.46 598.96,20.46 599.42,20.47 599.88,20.47 600.33,20.48 600.79,20.49 601.25,20.49 601.71,20.50 602.16,20.51 602.62,20.51 603.08,20.52 603.53,20.53 603.99,20.54 604.45,20.54 604.91,20.55 605.36,20.56 605.82,20.57 606.28,20.57 606.74,20.58 607.19,20.59 607.65,20.60 608.11,20.61 608.57,20.61 609.02,20.62 609.48,20.63 609.94,20.64 610.40,20.65 610.85,20.66 611.31,20.66 611.77,20.67 612.23,20.68 612.68,20.69 613.14,20.70 613.60,20.71 614.06,20.72 614.51,20.73 614.97,20.74 615.43,20.75 615.89,20.76 616.34,20.77 616.80,20.78 617.26,20.78 617.72,20.79 618.17,20.80 618.63,20.81 619.09,20.82 619.54,20.83 620.00,20.84 620.46,20.85 620.92,20.86 621.37,20.87 621.83,20.88 622.29,20.89 622.75,20.90 623.20,20.92 623.66,20.93 624.12,20.94 624.58,20.95 625.03,20.96 625.49,20.97 625.95,20.98 626.41,20.99 626.86,21.00 627.32,21.01 627.78,21.02 628.24,21.03 628.69,21.04 629.15,21.05 629.61,21.06 630.07,21.08 630.52,21.09 630.98,21.10 631.44,21.11 631.90,21.12 632.35,21.13 632.81,21.14 633.27,21.15 633.73,21.16 634.18,21.18 634.64,21.19 635.10,21.20 635.56,21.21 636.01,21.22 636.47,21.23 636.93,21.24 637.38,21.25 637.84,21.26 638.30,21.28 638.76,21.29 639.21,21.30 639.67,21.31 640.13,21.32 640.59,21.33 641.04,21.34 641.50,21.36 641.96,21.37 642.42,21.38 642.87,21.39 643.33,21.40 643.79,21.41 644.25,21.42 644.70,21.43 645.16,21.45 645.62,21.46 646.08,21.47 646.53,21.48 646.99,21.49 647.45,21.50 647.91,21.51 648.36,21.52 648.82,21.54 649.28,21.55 649.74,21.56 650.19,21.57 650.65,21.58 651.11,21.60 651.57,21.61 652.02,21.62 652.48,21.64 652.94,21.65 653.39,21.66 653.85,21.68 654.31,21.69 654.77,21.70 655.22,21.72 655.68,21.73 656.14,21.75 656.60,21.76 657.05,21.78 657.51,21.79 657.97,21.81 658.43,21.82 658.88,21.84 659.34,21.85 659.80,21.87 660.26,21.89 660.71,21.90 661.17,21.92 661.63,21.94 662.09,21.95 662.54,21.97 663.00,21.99 663.46,22.00 663.92,22.02 664.37,22.04 664.83,22.06 665.29,22.07 665.75,22.09 666.20,22.11 666.66,22.13 667.12,22.14 667.58,22.16 668.03,22.18 668.49,22.20 668.95,22.22 669.41,22.24 669.86,22.26 670.32,22.27 670.78,22.29 671.23,22.31 671.69,22.33 672.15,22.35 672.61,22.37 673.06,22.39 673.52,22.41 673.98,22.43 674.44,22.45 674.89,22.47 675.35,22.49 675.81,22.51 676.27,22.53 676.72,22.55 677.18,22.57 677.64,22.59 678.10,22.61 678.55,22.63 679.01,22.65 679.47,22.67 679.93,22.69 680.38,22.71 680.84,22.73 681.30,22.75 681.76,22.78 682.21,22.80 682.67,22.82 683.13,22.84 683.59,22.86 684.04,22.88 684.50,22.90 684.96,22.92 685.42,22.94 685.87,22.96 686.33,22.99 686.79,23.01 687.25,23.03 687.70,23.05 688.16,23.07 688.62,23.09 689.07,23.11 689.53,23.14 689.99,23.16 690.45,23.18 690.90,23.20 691.36,23.22 691.82,23.24 692.28,23.26 692.73,23.29 693.19,23.31 693.65,23.33 694.11,23.35 694.56,23.37 695.02,23.39 695.48,23.42 695.94,23.44 696.39,23.46 696.85,23.48 697.31,23.50 697.77,23.52 698.22,23.54 698.68,23.57 699.14,23.59 699.60,23.61 700.05,23.63 700.51,23.65 700.97,23.67 701.43,23.69 701.88,23.71 702.34,23.74 702.80,23.76 703.26,23.78 703.71,23.80 704.17,23.82 704.63,23.84 705.08,23.86 705.54,23.88 706.00,23.90 706.46,23.92 706.91,23.94 707.37,23.97 707.83,23.99 708.29,24.01 708.74,24.03 709.20,24.05 709.66,24.07 710.12,24.09 710.57,24.11 711.03,24.13 711.49,24.15 711.95,24.17 712.40,24.19 712.86,24.21 713.32,24.23 713.78,24.25 714.23,24.26 714.69,24.28 715.15,24.30 715.61,24.32 716.06,24.34 716.52,24.36 716.98,24.38 717.44,24.40 717.89,24.42 718.35,24.43 718.81,24.45 719.27,24.47 719.72,24.49 720.18,24.51 720.64,24.53 721.10,24.54 721.55,24.56 722.01,24.58 722.47,24.60 722.92,24.62 723.38,24.63 723.84,24.65 724.30,24.67 724.75,24.69 725.21,24.71 725.67,24.72 726.13,24.74 726.58,24.76 727.04,24.78 727.50,24.79 727.96,24.81 728.41,24.83 728.87,24.85 729.33,24.86 729.79,24.88 730.24,24.90 730.70,24.92 731.16,24.94 731.62,24.95 732.07,24.97 732.53,24.99 732.99,25.01 733.45,25.02 733.90,25.04 734.36,25.06 734.82,25.08 735.28,25.10 735.73,25.12 736.19,25.13 736.65,25.15 737.11,25.17 737.56,25.19 738.02,25.21 738.48,25.23 738.94,25.25 739.39,25.26 739.85,25.28 740.31,25.30 740.76,25.32 741.22,25.34 741.68,25.36 742.14,25.38 742.59,25.40 743.05,25.42 743.51,25.44 743.97,25.46 744.42,25.48 744.88,25.50 745.34,25.52 745.80,25.54 746.25,25.56 746.71,25.59 747.17,25.61 747.63,25.63 748.08,25.65 748.54,25.67 749.00,25.69 749.46,25.72 749.91,25.74 750.37,25.76 750.83,25.78 751.29,25.81 751.74,25.83 752.20,25.85 752.66,25.87 753.12,25.90 753.57,25.92 754.03,25.94 754.49,25.96 754.95,25.98 755.40,26.01 755.86,26.03 756.32,26.05 756.77,26.08 757.23,26.10 757.69,26.12 758.15,26.15 758.60,26.17 759.06,26.20 759.52,26.22 759.98,26.25 760.43,26.28 760.89,26.31 761.35,26.33 761.81,26.36 762.26,26.39 762.72,26.42 763.18,26.46 763.64,26.49 764.09,26.52 764.55,26.56 765.01,26.59 765.47,26.63 765.92,26.67 766.38,26.71 766.84,26.75 767.30,26.80 767.75,26.85 768.21,26.90 768.67,26.96 769.13,27.02 769.58,27.08 770.04,27.15 770.50,27.22 770.96,27.29 771.41,27.36 771.87,27.43 772.33,27.50 772.79,27.58 773.24,27.66 773.70,27.73 774.16,27.81 774.61,27.90 775.07,27.98 775.53,28.07 775.99,28.16 776.44,28.26 776.90,28.35 777.36,28.45 777.82,28.55 778.27,28.65 778.73,28.76 779.19,28.86 779.65,28.97 780.10,29.08 780.56,29.19 781.02,29.30 781.48,29.41 781.93,29.53 782.39,29.65 782.85,29.77 783.31,29.90 783.76,30.03 784.22,30.16 784.68,30.29 785.14,30.42 785.59,30.55 786.05,30.69 786.51,30.83 786.97,30.97 787.42,31.11 787.88,31.25 788.34,31.39 788.80,31.54 789.25,31.68 789.71,31.83 790.17,31.98 790.62,32.14 791.08,32.30 791.54,32.46 792.00,32.62 792.45,32.79 792.91,32.97 793.37,33.15 793.83,33.34 794.28,33.53 794.74,33.74 795.20,33.96 795.66,34.18 796.11,34.41 796.57,34.65 797.03,34.90 797.49,35.15 797.94,35.40 798.40,35.65 798.86,35.90 799.32,36.15 799.77,36.40 800.23,36.65 800.69,36.89 801.15,37.12 801.60,37.36 802.06,37.60 802.52,37.83 802.98,38.07 803.43,38.31 803.89,38.54 804.35,38.78 804.81,39.02 805.26,39.25 805.72,39.49 806.18,39.73 806.64,39.96 807.09,40.20 807.55,40.44 808.01,40.67 808.46,40.91 808.92,41.14 809.38,41.37 809.84,41.60 810.29,41.84 810.75,42.07 811.21,42.30 811.67,42.54 812.12,42.77 812.58,43.01 813.04,43.25 813.50,43.49 813.95,43.74 814.41,43.99 814.87,44.24 815.33,44.50 815.78,44.76 816.24,45.03 816.70,45.30 817.16,45.57 817.61,45.85 818.07,46.12 818.53,46.40 818.99,46.67 819.44,46.94 819.90,47.21 820.36,47.48 820.82,47.75 821.27,48.01 821.73,48.27 822.19,48.52 822.65,48.78 823.10,49.03 823.56,49.27 824.02,49.52 824.48,49.77 824.93,50.01 825.39,50.26 825.85,50.51 826.30,50.76 826.76,51.02 827.22,51.27 827.68,51.53 828.13,51.80 828.59,52.07 829.05,52.34 829.51,52.61 829.96,52.88 830.42,53.16 830.88,53.44 831.34,53.72 831.79,54.00 832.25,54.28 832.71,54.57 833.17,54.86 833.62,55.16 834.08,55.45 834.54,55.76 835.00,56.06 835.45,56.37 835.91,56.68 836.37,57.00 836.83,57.33 837.28,57.66 837.74,57.99 838.20,58.33 838.66,58.67 839.11,59.00 839.57,59.34 840.03,59.68 840.49,60.02 840.94,60.36 841.40,60.70 841.86,61.03 842.31,61.36 842.77,61.68 843.23,62.01 843.69,62.33 844.14,62.65 844.60,62.97 845.06,63.29 845.52,63.61 845.97,63.94 846.43,64.27 846.89,64.60 847.35,64.94 847.80,65.28 848.26,65.64 848.72,66.00 849.18,66.37 849.63,66.76 850.09,67.15 850.55,67.55 851.01,67.96 851.46,68.38 851.92,68.80 852.38,69.22 852.84,69.65 853.29,70.07 853.75,70.50 854.21,70.92 854.67,71.34 855.12,71.75 855.58,72.15 856.04,72.55 856.50,72.95 856.95,73.34 857.41,73.72 857.87,74.10 858.33,74.49 858.78,74.87 859.24,75.25 859.70,75.64 860.15,76.03 860.61,76.42 861.07,76.82 861.53,77.23 861.98,77.65 862.44,78.07 862.90,78.51 863.36,78.95 863.81,79.40 864.27,79.85 864.73,80.31 865.19,80.78 865.64,81.25 866.10,81.73 866.56,82.21 867.02,82.69 867.47,83.18 867.93,83.68 868.39,84.17 868.85,84.67 869.30,85.17 869.76,85.68 870.22,86.18 870.68,86.69 871.13,87.20 871.59,87.72 872.05,88.24 872.51,88.76 872.96,89.29 873.42,89.83 873.88,90.38 874.34,90.93 874.79,91.49 875.25,92.06 875.71,92.63 876.17,93.22 876.62,93.82 877.08,94.44 877.54,95.06 877.99,95.70 878.45,96.35 878.91,97.01 879.37,97.68 879.82,98.36 880.28,99.04 880.74,99.72 881.20,100.41 881.65,101.10 882.11,101.79 882.57,102.48 883.03,103.16 883.48,103.85 883.94,104.54 884.40,105.23 884.86,105.92 885.31,106.62 885.77,107.32 886.23,108.02 886.69,108.73 887.14,109.44 887.60,110.15 888.06,110.87 888.52,111.60 888.97,112.33 889.43,113.07 889.89,113.81 890.35,114.57 890.80,115.36 891.26,116.16 891.72,116.97 892.18,117.80 892.63,118.63 893.09,119.46 893.55,120.29 894.00,121.11 894.46,121.92 894.92,122.71 895.38,123.49 895.83,124.24 896.29,124.96 896.75,125.65 897.21,126.30 897.66,126.90 898.12,127.47 898.58,128.02 899.04,128.54 899.49,129.06 899.95,129.56 900.41,130.08 900.87,130.60 901.32,131.14 901.78,131.71 902.24,132.32 902.70,132.96 903.15,133.66 903.61,134.41 904.07,135.24 904.53,136.17 904.98,137.18 905.44,138.26 905.90,139.41 906.36,140.62 906.81,141.86 907.27,143.14 907.73,144.45 908.19,145.76 908.64,147.08 909.10,148.39 909.56,149.68 910.02,150.94 910.47,152.16 910.93,153.36 911.39,154.58 911.84,155.80 912.30,157.03 912.76,158.26 913.22,159.50 913.67,160.73 914.13,161.97 914.59,163.20 915.05,164.42 915.50,165.64 915.96,166.84 916.42,168.04 916.88,169.22 917.33,170.39 917.79,171.53 918.25,172.67 918.71,173.79 919.16,174.90 919.62,176.00 920.08,177.09 920.54,178.18 920.99,179.27 921.45,180.35 921.91,181.44 922.37,182.53 922.82,183.62 923.28,184.72 923.74,185.83 924.20,186.95 924.65,188.07 925.11,189.18 925.57,190.27 926.03,191.36 926.48,192.45 926.94,193.54 927.40,194.64 927.85,195.75 928.31,196.87 928.77,198.02 929.23,199.20 929.68,200.40 930.14,201.64 930.60,202.91 931.06,204.23 931.51,205.61 931.97,207.05 932.43,208.55 932.89,210.10 933.34,211.69 933.80,213.31 934.26,214.97 934.72,216.65 935.17,218.34 935.63,220.03 936.09,221.73 936.55,223.42 937.00,225.10 937.46,226.75 937.92,228.38 938.38,229.98 938.83,231.56 939.29,233.13 939.75,234.69 940.21,236.24 940.66,237.80 941.12,239.36 941.58,240.93 942.04,242.51 942.49,244.11 942.95,245.73 943.41,247.38 943.87,249.06 944.32,250.77 944.78,252.52 945.24,254.31 945.69,256.12 946.15,257.96 946.61,259.83 947.07,261.72 947.52,263.65 947.98,265.59 948.44,267.57 948.90,269.57 949.35,271.60 949.81,273.65 950.27,275.73 950.73,277.83 951.18,279.96 951.64,282.11 952.10,284.29 952.56,286.51 953.01,288.75 953.47,291.04 953.93,293.35 954.39,295.69 954.84,298.07 955.30,300.47 955.76,302.91 956.22,305.37 956.67,307.86 957.13,310.38 957.59,312.92 958.05,315.49 958.50,318.09 958.96,320.70 959.42,323.34 959.88,326.00 960.33,328.69 960.79,331.41 961.25,334.16 961.71,336.95 962.16,339.78 962.62,342.65 963.08,345.56 963.53,348.52 963.99,351.54 964.45,354.61 964.91,357.74 965.36,360.93 965.82,364.17 966.28,367.46 966.74,370.79 967.19,374.18 967.65,377.63 968.11,381.14 968.57,384.72 969.02,388.37 969.48,392.10 969.94,395.91 970.40,399.80 970.85,403.79 971.31,407.86 971.77,412.04 972.23,416.32 972.68,420.78 973.14,425.49 973.60,430.40 974.06,435.50 974.51,440.75 974.97,446.13 975.43,451.59 975.89,457.11 976.34,462.66 976.80,468.22 977.26,473.74 977.72,479.20 978.17,484.56 978.63,489.81 979.09,494.90 979.54,500.03 980.00,505.38 980.46,510.94 980.92,516.67 981.37,522.56 981.83,528.58 982.29,534.71 982.75,540.92 983.20,547.19 983.66,553.49 984.12,559.81 984.58,566.11 985.03,572.38 985.49,578.59 985.95,584.71 986.41,590.73 986.86,596.62 987.32,602.35 987.78,607.90 988.24,613.24 988.69,618.36 989.15,623.23 989.61,627.83 990.07,632.12 990.52,636.10 990.98,639.73 991.44,642.98 991.90,645.85 992.35,648.29 992.81,650.30 993.27,651.84 993.73,652.89 994.18,653.42 994.64,653.43 995.10,652.93 995.56,651.95 996.01,650.50 996.47,648.62 996.93,646.31 997.38,643.60 997.84,640.51 998.30,637.06 998.76,633.26 999.21,629.14 999.67,624.72 1000.13,620.02 1000.59,615.05 1001.04,609.84 1001.50,604.40 1001.96,598.76 1002.42,592.93 1002.87,586.94 1003.33,580.81 1003.79,574.55 1004.25,568.18 1004.70,561.73 1005.16,555.22 1005.62,548.65 1006.08,542.06 1006.53,535.47 1006.99,528.89 1007.45,522.34 1007.91,515.84 1008.36,509.42 1008.82,503.09 1009.28,496.87 1009.74,490.79 1010.19,484.71 1010.65,477.93 1011.11,470.59 1011.57,462.99 1012.02,455.43 1012.48,448.20 1012.94,441.61 1013.40,435.96 1013.85,431.01 1014.31,426.30 1014.77,421.82 1015.22,417.54 1015.68,413.45 1016.14,409.53 1016.60,405.76 1017.05,402.11 1017.51,398.58 1017.97,395.15 1018.43,391.78 1018.88,388.47 1019.34,385.20 1019.80,381.94 1020.26,378.68 1020.71,375.45 1021.17,372.28 1021.63,369.18 1022.09,366.15 1022.54,363.17 1023.00,360.24 1023.46,357.37 1023.92,354.54 1024.37,351.76 1024.83,349.03 1025.29,346.32 1025.75,343.66 1026.20,341.03 1026.66,338.42 1027.12,335.84 1027.58,333.28 1028.03,330.75 1028.49,328.26 1028.95,325.79 1029.41,323.35 1029.86,320.94 1030.32,318.57 1030.78,316.22 1031.23,313.91 1031.69,311.64 1032.15,309.40 1032.61,307.20 1033.06,305.03 1033.52,302.90 1033.98,300.81 1034.44,298.75 1034.89,296.74 1035.35,294.75 1035.81,292.80 1036.27,290.88 1036.72,288.99 1037.18,287.12 1037.64,285.28 1038.10,283.45 1038.55,281.65 1039.01,279.87 1039.47,278.10 1039.93,276.35 1040.38,274.61 1040.84,272.88 1041.30,271.16 1041.76,269.46 1042.21,267.78 1042.67,266.11 1043.13,264.47 1043.59,262.83 1044.04,261.22 1044.50,259.61 1044.96,258.02 1045.42,256.45 1045.87,254.88 1046.33,253.33 1046.79,251.79 1047.25,250.26 1047.70,248.73 1048.16,247.21 1048.62,245.69 1049.07,244.17 1049.53,242.65 1049.99,241.14 1050.45,239.64 1050.90,238.16 1051.36,236.69 1051.82,235.24 1052.28,233.82 1052.73,232.43 1053.19,231.06 1053.65,229.73 1054.11,228.44 1054.56,227.19 1055.02,225.98 1055.48,224.80 1055.94,223.66 1056.39,222.54 1056.85,221.44 1057.31,220.36 1057.77,219.30 1058.22,218.26 1058.68,217.22 1059.14,216.20 1059.60,215.18 1060.05,214.16 1060.51,213.15 1060.97,212.13 1061.43,211.10 1061.88,210.07 1062.34,209.05 1062.80,208.03 1063.26,207.03 1063.71,206.02 1064.17,205.03 1064.63,204.04 1065.08,203.05 1065.54,202.06 1066.00,201.08 1066.46,200.10 1066.91,199.12 1067.37,198.14 1067.83,197.16 1068.29,196.19 1068.74,195.21 1069.20,194.23 1069.66,193.25 1070.12,192.28 1070.57,191.30 1071.03,190.33 1071.49,189.36 1071.95,188.39 1072.40,187.43 1072.86,186.47 1073.32,185.51 1073.78,184.56 1074.23,183.62 1074.69,182.68 1075.15,181.75 1075.61,180.81 1076.06,179.87 1076.52,178.91 1076.98,177.96 1077.44,177.01 1077.89,176.06 1078.35,175.12 1078.81,174.18 1079.27,173.27 1079.72,172.37 1080.18,171.49 1080.64,170.64 1081.10,169.81 1081.55,169.02 1082.01,168.25 1082.47,167.52 1082.92,166.80 1083.38,166.10 1083.84,165.41 1084.30,164.74 1084.75,164.08 1085.21,163.44 1085.67,162.81 1086.13,162.20 1086.58,161.60 1087.04,161.01 1087.50,160.43 1087.96,159.87 1088.41,159.32 1088.87,158.79 1089.33,158.27 1089.79,157.77 1090.24,157.29 1090.70,156.83 1091.16,156.38 1091.62,155.95 1092.07,155.51 1092.53,155.08 1092.99,154.66 1093.45,154.23 1093.90,153.79 1094.36,153.34 1094.82,152.89 1095.28,152.41 1095.73,151.92 1096.19,151.41 1096.65,150.88 1097.11,150.34 1097.56,149.78 1098.02,149.22 1098.48,148.65 1098.94,148.07 1099.39,147.49 1099.85,146.91 1100.31,146.34 1100.76,145.78 1101.22,145.22 1101.68,144.68 1102.14,144.15 1102.59,143.64 1103.05,143.14 1103.51,142.66 1103.97,142.18 1104.42,141.71 1104.88,141.25 1105.34,140.79 1105.80,140.34 1106.25,139.89 1106.71,139.44 1107.17,139.00 1107.63,138.55 1108.08,138.11 1108.54,137.67 1109.00,137.22 1109.46,136.77 1109.91,136.33 1110.37,135.88 1110.83,135.44 1111.29,135.00 1111.74,134.56 1112.20,134.12 1112.66,133.68 1113.12,133.24 1113.57,132.80 1114.03,132.36 1114.49,131.92 1114.95,131.48 1115.40,131.04 1115.86,130.59 1116.32,130.15 1116.77,129.69 1117.23,129.23 1117.69,128.76 1118.15,128.29 1118.60,127.82 1119.06,127.34 1119.52,126.87 1119.98,126.39 1120.43,125.93 1120.89,125.46 1121.35,125.01 1121.81,124.56 1122.26,124.12 1122.72,123.69 1123.18,123.28 1123.64,122.88 1124.09,122.49 1124.55,122.11 1125.01,121.74 1125.47,121.37 1125.92,121.01 1126.38,120.66 1126.84,120.31 1127.30,119.96 1127.75,119.61 1128.21,119.26 1128.67,118.91 1129.13,118.55 1129.58,118.20 1130.04,117.84 1130.50,117.47 1130.96,117.10 1131.41,116.72 1131.87,116.34 1132.33,115.96 1132.79,115.58 1133.24,115.20 1133.70,114.83 1134.16,114.45 1134.61,114.09 1135.07,113.73 1135.53,113.38 1135.99,113.04 1136.44,112.71 1136.90,112.39 1137.36,112.09 1137.82,111.80 1138.27,111.52 1138.73,111.24 1139.19,110.97 1139.65,110.71 1140.10,110.45 1140.56,110.19 1141.02,109.94 1141.48,109.68 1141.93,109.43 1142.39,109.17 1142.85,108.91 1143.31,108.64 1143.76,108.37 1144.22,108.09 1144.68,107.81 1145.14,107.53 1145.59,107.24 1146.05,106.96 1146.51,106.67 1146.97,106.38 1147.42,106.10 1147.88,105.81 1148.34,105.52 1148.80,105.23 1149.25,104.95 1149.71,104.67 1150.17,104.39 1150.63,104.11 1151.08,103.83 1151.54,103.55 1152.00,103.27 1152.45,102.98 1152.91,102.70 1153.37,102.42 1153.83,102.14 1154.28,101.86 1154.74,101.58 1155.20,101.32 1155.66,101.05 1156.11,100.80 1156.57,100.55 1157.03,100.31 1157.49,100.09 1157.94,99.87 1158.40,99.66 1158.86,99.45 1159.32,99.25 1159.77,99.06 1160.23,98.87 1160.69,98.68 1161.15,98.50 1161.60,98.32 1162.06,98.14 1162.52,97.96 1162.98,97.78 1163.43,97.60 1163.89,97.43 1164.35,97.24 1164.81,97.07 1165.26,96.89 1165.72,96.71 1166.18,96.54 1166.64,96.37 1167.09,96.20 1167.55,96.03 1168.01,95.86 1168.46,95.69 1168.92,95.52 1169.38,95.35 1169.84,95.17 1170.29,95.00 1170.75,94.82 1171.21,94.64 1171.67,94.46 1172.12,94.27 1172.58,94.09 1173.04,93.90 1173.50,93.70 1173.95,93.51 1174.41,93.32 1174.87,93.12 1175.33,92.93 1175.78,92.74 1176.24,92.55 1176.70,92.36 1177.16,92.17 1177.61,91.98 1178.07,91.80 1178.53,91.62 1178.99,91.44 1179.44,91.27 1179.90,91.09 1180.36,90.92 1180.82,90.74 1181.27,90.57 1181.73,90.40 1182.19,90.23 1182.65,90.06 1183.10,89.89 1183.56,89.71 1184.02,89.54 1184.48,89.37 1184.93,89.20 1185.39,89.02 1185.85,88.85 1186.30,88.68 1186.76,88.51 1187.22,88.34 1187.68,88.17 1188.13,88.00 1188.59,87.82 1189.05,87.65 1189.51,87.48 1189.96,87.30 1190.42,87.13 1190.88,86.95 1191.34,86.77 1191.79,86.59 1192.25,86.41 1192.71,86.23 1193.17,86.04 1193.62,85.85 1194.08,85.66 1194.54,85.48 1195.00,85.28 1195.45,85.09 1195.91,84.90 1196.37,84.71 1196.83,84.52 1197.28,84.33 1197.74,84.13 1198.20,83.94 1198.66,83.75 1199.11,83.56 1199.57,83.37 1200.03,83.17 1200.49,82.97 1200.94,82.78 1201.40,82.58 1201.86,82.38 1202.31,82.18 1202.77,81.99 1203.23,81.80 1203.69,81.61 1204.14,81.43 1204.60,81.25 1205.06,81.08 1205.52,80.91 1205.97,80.75 1206.43,80.60 1206.89,80.45 1207.35,80.30 1207.80,80.16 1208.26,80.02 1208.72,79.88 1209.18,79.74 1209.63,79.61 1210.09,79.47 1210.55,79.33 1211.01,79.20 1211.46,79.06 1211.92,78.92 1212.38,78.78 1212.84,78.64 1213.29,78.49 1213.75,78.35 1214.21,78.20 1214.67,78.05 1215.12,77.90 1215.58,77.74 1216.04,77.59 1216.50,77.44 1216.95,77.29 1217.41,77.15 1217.87,77.00 1218.33,76.85 1218.78,76.71 1219.24,76.57 1219.70,76.44 1220.15,76.31 1220.61,76.18 1221.07,76.06 1221.53,75.94 1221.98,75.83 1222.44,75.72 1222.90,75.61 1223.36,75.50 1223.81,75.40 1224.27,75.30 1224.73,75.20 1225.19,75.10 1225.64,75.00 1226.10,74.90 1226.56,74.81 1227.02,74.72 1227.47,74.62 1227.93,74.53 1228.39,74.44 1228.85,74.36 1229.30,74.27 1229.76,74.18 1230.22,74.09 1230.68,74.01 1231.13,73.92 1231.59,73.83 1232.05,73.75 1232.51,73.66 1232.96,73.57 1233.42,73.49 1233.88,73.40 1234.34,73.32 1234.79,73.24 1235.25,73.15 1235.71,73.07 1236.17,72.99 1236.62,72.91 1237.08,72.83 1237.54,72.75 1237.99,72.67 1238.45,72.59 1238.91,72.52 1239.37,72.44 1239.82,72.36 1240.28,72.28 1240.74,72.21 1241.20,72.13 1241.65,72.05 1242.11,71.98 1242.57,71.90 1243.03,71.82 1243.48,71.75 1243.94,71.67 1244.40,71.59 1244.86,71.52 1245.31,71.44 1245.77,71.36 1246.23,71.29 1246.69,71.21 1247.14,71.13 1247.60,71.05 1248.06,70.97 1248.52,70.89 1248.97,70.81 1249.43,70.73 1249.89,70.64 1250.35,70.56 1250.80,70.48 1251.26,70.39 1251.72,70.31 1252.18,70.22 1252.63,70.14 1253.09,70.06 1253.55,69.97 1254.00,69.89 1254.46,69.81 1254.92,69.72 1255.38,69.64 1255.83,69.56 1256.29,69.48 1256.75,69.39 1257.21,69.31 1257.66,69.23 1258.12,69.16 1258.58,69.08 1259.04,69.00 1259.49,68.93 1259.95,68.85 1260.41,68.78 1260.87,68.71 1261.32,68.63 1261.78,68.57 1262.24,68.50 1262.70,68.43 1263.15,68.37 1263.61,68.31 1264.07,68.25 1264.53,68.19 1264.98,68.13 1265.44,68.08 1265.90,68.02 1266.36,67.97 1266.81,67.91 1267.27,67.86 1267.73,67.80 1268.19,67.75 1268.64,67.69 1269.10,67.64 1269.56,67.59 1270.02,67.54 1270.47,67.48 1270.93,67.43 1271.39,67.38 1271.84,67.33 1272.30,67.28 1272.76,67.23 1273.22,67.18 1273.67,67.13 1274.13,67.08 1274.59,67.04 1275.05,66.99 1275.50,66.94 1275.96,66.90 1276.42,66.85 1276.88,66.81 1277.33,66.76 1277.79,66.72 1278.25,66.68 1278.71,66.64 1279.16,66.60 1279.62,66.56 1280.08,66.52 1280.54,66.48 1280.99,66.44 1281.45,66.41 1281.91,66.37 1282.37,66.34 1282.82,66.30 1283.28,66.27 1283.74,66.24 1284.20,66.21 1284.65,66.18 1285.11,66.15 1285.57,66.12 1286.03,66.10 1286.48,66.07 1286.94,66.05 1287.40,66.02 1287.86,66.00 1288.31,65.98 1288.77,65.96 1289.23,65.94 1289.68,65.92 1290.14,65.90 1290.60,65.88 1291.06,65.86 1291.51,65.85 1291.97,65.83 1292.43,65.81 1292.89,65.80 1293.34,65.78 1293.80,65.77 1294.26,65.75 1294.72,65.74 1295.17,65.72 1295.63,65.71 1296.09,65.69 1296.55,65.68 1297.00,65.67 1297.46,65.65 1297.92,65.64 1298.38,65.63 1298.83,65.61 1299.29,65.60 1299.75,65.59 1300.21,65.58 1300.66,65.56 1301.12,65.55 1301.58,65.54 1302.04,65.53 1302.49,65.52 1302.95,65.50 1303.41,65.49 1303.87,65.48 1304.32,65.47 1304.78,65.46 1305.24,65.45 1305.69,65.43 1306.15,65.42 1306.61,65.41 1307.07,65.40 1307.52,65.38 1307.98,65.37 1308.44,65.36 1308.90,65.35 1309.35,65.33 1309.81,65.32 1310.27,65.30 1310.73,65.29 1311.18,65.28 1311.64,65.26 1312.10,65.25 1312.56,65.24 1313.01,65.22 1313.47,65.21 1313.93,65.20 1314.39,65.18 1314.84,65.17 1315.30,65.16 1315.76,65.15 1316.22,65.13 1316.67,65.12 1317.13,65.11 1317.59,65.10 1318.05,65.08 1318.50,65.07 1318.96,65.06 1319.42,65.05 1319.88,65.03 1320.33,65.02 1320.79,65.01 1321.25,65.00 1321.71,64.98 1322.16,64.97 1322.62,64.96 1323.08,64.95 1323.53,64.93 1323.99,64.92 1324.45,64.91 1324.91,64.89 1325.36,64.88 1325.82,64.86 1326.28,64.85 1326.74,64.84 1327.19,64.82 1327.65,64.81 1328.11,64.79 1328.57,64.77 1329.02,64.76 1329.48,64.74 1329.94,64.73 1330.40,64.71 1330.85,64.69 1331.31,64.67 1331.77,64.66 1332.23,64.64 1332.68,64.62 1333.14,64.60 1333.60,64.58 1334.06,64.56 1334.51,64.54 1334.97,64.52 1335.43,64.49 1335.89,64.47 1336.34,64.44 1336.80,64.41 1337.26,64.38 1337.72,64.35 1338.17,64.32 1338.63,64.29 1339.09,64.26 1339.54,64.23 1340.00,64.20 1340.46,64.16 1340.92,64.13 1341.37,64.09 1341.83,64.06 1342.29,64.02 1342.75,63.98 1343.20,63.95 1343.66,63.91 1344.12,63.87 1344.58,63.84 1345.03,63.80 1345.49,63.76 1345.95,63.72 1346.41,63.68 1346.86,63.65 1347.32,63.61 1347.78,63.57 1348.24,63.53 1348.69,63.49 1349.15,63.46 1349.61,63.42 1350.07,63.38 1350.52,63.35 1350.98,63.31 1351.44,63.27 1351.90,63.24 1352.35,63.20 1352.81,63.17 1353.27,63.14 1353.73,63.10 1354.18,63.07 1354.64,63.04 1355.10,63.01 1355.56,62.98 1356.01,62.95 1356.47,62.92 1356.93,62.90 1357.38,62.87 1357.84,62.84 1358.30,62.81 1358.76,62.78 1359.21,62.75 1359.67,62.71 1360.13,62.68 1360.59,62.65 1361.04,62.62 1361.50,62.59 1361.96,62.56 1362.42,62.53 1362.87,62.50 1363.33,62.47 1363.79,62.44 1364.25,62.41 1364.70,62.38 1365.16,62.36 1365.62,62.34 1366.08,62.32 1366.53,62.30 1366.99,62.28 1367.45,62.26 1367.91,62.25 1368.36,62.24 1368.82,62.23 1369.28,62.22 1369.74,62.21 1370.19,62.21 1370.65,62.22 1371.11,62.23 1371.57,62.24 1372.02,62.26 1372.48,62.28 1372.94,62.31 1373.40,62.34 1373.85,62.38 1374.31,62.42 1374.77,62.46 1375.22,62.50 1375.68,62.55 1376.14,62.59 1376.60,62.64 1377.05,62.69 1377.51,62.74 1377.97,62.80 1378.43,62.88 1378.88,62.96 1379.34,63.04 1379.80,63.14 1380.26,63.24 1380.71,63.34 1381.17,63.45 1381.63,63.56 1382.09,63.67 1382.54,63.78 1383.00,63.89 1383.46,64.00 1383.92,64.11 1384.37,64.21 1384.83,64.33 1385.29,64.44 1385.75,64.56 1386.20,64.68 1386.66,64.81 1387.12,64.93 1387.58,65.06 1388.03,65.19 1388.49,65.32 1388.95,65.45 1389.41,65.57 1389.86,65.70 1390.32,65.82 1390.78,65.94 1391.23,66.05 1391.69,66.17 1392.15,66.27 1392.61,66.38 1393.06,66.47 1393.52,66.57 1393.98,66.67 1394.44,66.78 1394.89,66.88 1395.35,66.99 1395.81,67.09 1396.27,67.19 1396.72,67.29 1397.18,67.38 1397.64,67.45 1398.10,67.52 1398.55,67.58 1399.01,67.62 1399.47,67.65 1399.93,67.66 1400.38,67.64 1400.84,67.58 1401.30,67.49 1401.76,67.37 1402.21,67.23 1402.67,67.06 1403.13,66.88 1403.59,66.68 1404.04,66.48 1404.50,66.27 1404.96,66.06 1405.42,65.85 1405.87,65.65 1406.33,65.46 1406.79,65.29 1407.25,65.12 1407.70,64.96 1408.16,64.78 1408.62,64.61 1409.07,64.44 1409.53,64.26 1409.99,64.08 1410.45,63.90 1410.90,63.72 1411.36,63.53 1411.82,63.35 1412.28,63.17 1412.73,62.98 1413.19,62.80 1413.65,62.62 1414.11,62.44 1414.56,62.25 1415.02,62.07 1415.48,61.89 1415.94,61.72 1416.39,61.54 1416.85,61.37 1417.31,61.20 1417.77,61.03 1418.22,60.86 1418.68,60.70 1419.14,60.54 1419.60,60.38 1420.05,60.23 1420.51,60.08 1420.97,59.94 1421.43,59.79 1421.88,59.65 1422.34,59.51 1422.80,59.37 1423.26,59.23 1423.71,59.09 1424.17,58.95 1424.63,58.81 1425.09,58.68 1425.54,58.54 1426.00,58.41 1426.46,58.28 1426.91,58.15 1427.37,58.02 1427.83,57.89 1428.29,57.77 1428.74,57.64 1429.20,57.52 1429.66,57.40 1430.12,57.28 1430.57,57.17 1431.03,57.05 1431.49,56.94 1431.95,56.83 1432.40,56.72 1432.86,56.61 1433.32,56.50 1433.78,56.40 1434.23,56.30 1434.69,56.20 1435.15,56.10 1435.61,56.00 1436.06,55.91 1436.52,55.81 1436.98,55.72 1437.44,55.63 1437.89,55.55 1438.35,55.46 1438.81,55.37 1439.27,55.29 1439.72,55.21 1440.18,55.12 1440.64,55.04 1441.10,54.96 1441.55,54.88 1442.01,54.80 1442.47,54.72 1442.92,54.64 1443.38,54.56 1443.84,54.48 1444.30,54.40 1444.75,54.33 1445.21,54.25 1445.67,54.17 1446.13,54.09 1446.58,54.00 1447.04,53.92 1447.50,53.84 1447.96,53.76 1448.41,53.68 1448.87,53.60 1449.33,53.52 1449.79,53.45 1450.24,53.37 1450.70,53.29 1451.16,53.21 1451.62,53.13 1452.07,53.06 1452.53,52.98 1452.99,52.90 1453.45,52.83 1453.90,52.76 1454.36,52.68 1454.82,52.61 1455.28,52.54 1455.73,52.47 1456.19,52.40 1456.65,52.34 1457.11,52.27 1457.56,52.21 1458.02,52.15 1458.48,52.09 1458.94,52.03 1459.39,51.97 1459.85,51.92 1460.31,51.86 1460.76,51.81 1461.22,51.75 1461.68,51.70 1462.14,51.65 1462.59,51.60 1463.05,51.55 1463.51,51.49 1463.97,51.44 1464.42,51.39 1464.88,51.33 1465.34,51.28 1465.80,51.22 1466.25,51.17 1466.71,51.11 1467.17,51.05 1467.63,50.98 1468.08,50.92 1468.54,50.85 1469.00,50.78 1469.46,50.71 1469.91,50.63 1470.37,50.56 1470.83,50.48 1471.29,50.40 1471.74,50.31 1472.20,50.23 1472.66,50.14 1473.12,50.05 1473.57,49.96 1474.03,49.88 1474.49,49.78 1474.95,49.69 1475.40,49.60 1475.86,49.51 1476.32,49.42 1476.77,49.33 1477.23,49.24 1477.69,49.15 1478.15,49.06 1478.60,48.98 1479.06,48.89 1479.52,48.80 1479.98,48.72 1480.43,48.64 1480.89,48.56 1481.35,48.48 1481.81,48.39 1482.26,48.31 1482.72,48.23 1483.18,48.15 1483.64,48.07 1484.09,47.99 1484.55,47.91 1485.01,47.83 1485.47,47.75 1485.92,47.67 1486.38,47.59 1486.84,47.51 1487.30,47.43 1487.75,47.36 1488.21,47.28 1488.67,47.20 1489.13,47.12 1489.58,47.04 1490.04,46.97 1490.50,46.89 1490.96,46.81 1491.41,46.73 1491.87,46.66 1492.33,46.58 1492.79,46.51 1493.24,46.43 1493.70,46.35"/><polyline points="121.40,15.11 121.86,15.24 122.31,15.36 122.77,15.47 123.23,15.58 123.69,15.68 124.14,15.78 124.60,15.87 125.06,15.96 125.52,16.04 125.97,16.12 126.43,16.19 126.89,16.26 127.35,16.32 127.80,16.37 128.26,16.43 128.72,16.47 129.18,16.52 129.63,16.56 130.09,16.59 130.55,16.63 131.01,16.66 131.46,16.68 131.92,16.70 132.38,16.72 132.84,16.73 133.29,16.75 133.75,16.76 134.21,16.76 134.67,16.77 135.12,16.77 135.58,16.76 136.04,16.73 136.50,16.69 136.95,16.63 137.41,16.56 137.87,16.47 138.33,16.38 138.78,16.27 139.24,16.15 139.70,16.03 140.15,15.90 140.61,15.77 141.07,15.63 141.53,15.49 141.98,15.35 142.44,15.20 142.90,15.06 143.36,14.93 143.81,14.79 144.27,14.66 144.73,14.54 145.19,14.42 145.64,14.32 146.10,14.22 146.56,14.14 147.02,14.06 147.47,14.01 147.93,13.96 148.39,13.94 148.85,13.93 149.30,13.93 149.76,13.93 150.22,13.93 150.68,13.94 151.13,13.94 151.59,13.95 152.05,13.95 152.51,13.96 152.96,13.97 153.42,13.98 153.88,13.99 154.34,14.00 154.79,14.02 155.25,14.03 155.71,14.04 156.16,14.06 156.62,14.08 157.08,14.10 157.54,14.12 157.99,14.14 158.45,14.16 158.91,14.18 159.37,14.20 159.82,14.23 160.28,14.26 160.74,14.28 161.20,14.31 161.65,14.34 162.11,14.37 162.57,14.40 163.03,14.46 163.48,14.56 163.94,14.71 164.40,14.88 164.86,15.08 165.31,15.30 165.77,15.53 166.23,15.76 166.69,15.98 167.14,16.19 167.60,16.38 168.06,16.54 168.52,16.66 168.97,16.74 169.43,16.77 169.89,16.77 170.35,16.76 170.80,16.76 171.26,16.76 171.72,16.75 172.18,16.75 172.63,16.74 173.09,16.73 173.55,16.72 174.00,16.71 174.46,16.70 174.92,16.68 175.38,16.67 175.83,16.65 176.29,16.64 176.75,16.62 177.21,16.60 177.66,16.58 178.12,16.56 178.58,16.54 179.04,16.52 179.49,16.50 179.95,16.48 180.41,16.45 180.87,16.43 181.32,16.40 181.78,16.38 182.24,16.35 182.70,16.32 183.15,16.29 183.61,16.25 184.07,16.19 184.53,16.12 184.98,16.02 185.44,15.92 185.90,15.82 186.36,15.70 186.81,15.59 187.27,15.49 187.73,15.39 188.19,15.30 188.64,15.22 189.10,15.16 189.56,15.12 190.02,15.11 190.47,15.12 190.93,15.16 191.39,15.22 191.84,15.30 192.30,15.40 192.76,15.51 193.22,15.63 193.67,15.76 194.13,15.90 194.59,16.05 195.05,16.20 195.50,16.35 195.96,16.49 196.42,16.63 196.88,16.77 197.33,16.91 197.79,17.08 198.25,17.26 198.71,17.46 199.16,17.67 199.62,17.88 200.08,18.09 200.54,18.30 200.99,18.49 201.45,18.66 201.91,18.82 202.37,18.95 202.82,19.05 203.28,19.11 203.74,19.13 204.20,19.13 204.65,19.12 205.11,19.11 205.57,19.09 206.03,19.07 206.48,19.04 206.94,19.01 207.40,18.98 207.85,18.94 208.31,18.90 208.77,18.86 209.23,18.81 209.68,18.76 210.14,18.71 210.60,18.66 211.06,18.59 211.51,18.50 211.97,18.38 212.43,18.24 212.89,18.09 213.34,17.92 213.80,17.73 214.26,17.55 214.72,17.35 215.17,17.16 215.63,16.97 216.09,16.78 216.55,16.61 217.00,16.44 217.46,16.29 217.92,16.15 218.38,15.99 218.83,15.83 219.29,15.66 219.75,15.49 220.21,15.32 220.66,15.16 221.12,15.01 221.58,14.86 222.04,14.74 222.49,14.62 222.95,14.53 223.41,14.46 223.87,14.42 224.32,14.40 224.78,14.40 225.24,14.40 225.69,14.40 226.15,14.40 226.61,14.40 227.07,14.40 227.52,14.40 227.98,14.40 228.44,14.40 228.90,14.40 229.35,14.40 229.81,14.40 230.27,14.40 230.73,14.40 231.18,14.40 231.64,14.42 232.10,14.47 232.56,14.56 233.01,14.67 233.47,14.80 233.93,14.96 234.39,15.14 234.84,15.32 235.30,15.52 235.76,15.73 236.22,15.94 236.67,16.16 237.13,16.37 237.59,16.57 238.05,16.77 238.50,16.97 238.96,17.20 239.42,17.44 239.88,17.70 240.33,17.98 240.79,18.26 241.25,18.54 241.70,18.81 242.16,19.08 242.62,19.34 243.08,19.59 243.53,19.81 243.99,20.01 244.45,20.18 244.91,20.32 245.36,20.44 245.82,20.55 246.28,20.67 246.74,20.78 247.19,20.89 247.65,20.99 248.11,21.09 248.57,21.17 249.02,21.25 249.48,21.33 249.94,21.39 250.40,21.43 250.85,21.47 251.31,21.49 251.77,21.50 252.23,21.49 252.68,21.47 253.14,21.44 253.60,21.39 254.06,21.33 254.51,21.26 254.97,21.18 255.43,21.09 255.89,21.00 256.34,20.90 256.80,20.79 257.26,20.67 257.72,20.56 258.17,20.44 258.63,20.32 259.09,20.17 259.54,19.97 260.00,19.73 260.46,19.46 260.92,19.16 261.37,18.84 261.83,18.51 262.29,18.17 262.75,17.84 263.20,17.51 263.66,17.21 264.12,16.92 264.58,16.67 265.03,16.46 265.49,16.29 265.95,16.15 266.41,16.01 266.86,15.88 267.32,15.74 267.78,15.61 268.24,15.49 268.69,15.38 269.15,15.27 269.61,15.17 270.07,15.09 270.52,15.01 270.98,14.95 271.44,14.91 271.90,14.88 272.35,14.87 272.81,14.87 273.27,14.88 273.73,14.88 274.18,14.89 274.64,14.90 275.10,14.92 275.56,14.93 276.01,14.95 276.47,14.97 276.93,14.99 277.38,15.01 277.84,15.03 278.30,15.06 278.76,15.08 279.21,15.11 279.67,15.15 280.13,15.23 280.59,15.32 281.04,15.44 281.50,15.58 281.96,15.73 282.42,15.89 282.87,16.06 283.33,16.24 283.79,16.42 284.25,16.60 284.70,16.78 285.16,16.94 285.62,17.10 286.08,17.24 286.53,17.37 286.99,17.51 287.45,17.64 287.91,17.77 288.36,17.91 288.82,18.04 289.28,18.17 289.74,18.30 290.19,18.42 290.65,18.55 291.11,18.67 291.57,18.79 292.02,18.91 292.48,19.02 292.94,19.13 293.39,19.24 293.85,19.35 294.31,19.46 294.77,19.56 295.22,19.66 295.68,19.77 296.14,19.87 296.60,19.97 297.05,20.07 297.51,20.16 297.97,20.26 298.43,20.36 298.88,20.45 299.34,20.54 299.80,20.64 300.26,20.73 300.71,20.82 301.17,20.90 301.63,20.99 302.09,21.08 302.54,21.17 303.00,21.25 303.46,21.34 303.92,21.42 304.37,21.50 304.83,21.58 305.29,21.66 305.75,21.74 306.20,21.82 306.66,21.89 307.12,21.97 307.58,22.04 308.03,22.12 308.49,22.19 308.95,22.26 309.41,22.33 309.86,22.40 310.32,22.47 310.78,22.54 311.23,22.60 311.69,22.67 312.15,22.74 312.61,22.80 313.06,22.87 313.52,22.94 313.98,23.00 314.44,23.07 314.89,23.14 315.35,23.20 315.81,23.27 316.27,23.34 316.72,23.40 317.18,23.47 317.64,23.54 318.10,23.61 318.55,23.68 319.01,23.75 319.47,23.82 319.93,23.89 320.38,23.96 320.84,24.04 321.30,24.11 321.76,24.19 322.21,24.26 322.67,24.34 323.13,24.42 323.59,24.50 324.04,24.58 324.50,24.66 324.96,24.75 325.42,24.83 325.87,24.91 326.33,25.00 326.79,25.08 327.25,25.17 327.70,25.25 328.16,25.34 328.62,25.43 329.07,25.51 329.53,25.60 329.99,25.69 330.45,25.78 330.90,25.87 331.36,25.96 331.82,26.05 332.28,26.14 332.73,26.23 333.19,26.32 333.65,26.41 334.11,26.50 334.56,26.59 335.02,26.69 335.48,26.78 335.94,26.87 336.39,26.96 336.85,27.05 337.31,27.14 337.77,27.24 338.22,27.33 338.68,27.42 339.14,27.51 339.60,27.60 340.05,27.68 340.51,27.77 340.97,27.86 341.43,27.94 341.88,28.02 342.34,28.11 342.80,28.20 343.26,28.28 343.71,28.37 344.17,28.46 344.63,28.56 345.08,28.65 345.54,28.75 346.00,28.86 346.46,28.96 346.91,29.07 347.37,29.19 347.83,29.31 348.29,29.46 348.74,29.64 349.20,29.85 349.66,30.07 350.12,30.30 350.57,30.51 351.03,30.69 351.49,30.84 351.95,30.93 352.40,30.97 352.86,30.96 353.32,30.92 353.78,30.86 354.23,30.77 354.69,30.68 355.15,30.56 355.61,30.43 356.06,30.29 356.52,30.14 356.98,29.99 357.44,29.83 357.89,29.67 358.35,29.51 358.81,29.35 359.27,29.20 359.72,29.06 360.18,28.92 360.64,28.80 361.10,28.69 361.55,28.60 362.01,28.52 362.47,28.43 362.92,28.35 363.38,28.26 363.84,28.18 364.30,28.09 364.75,28.01 365.21,27.94 365.67,27.87 366.13,27.81 366.58,27.76 367.04,27.71 367.50,27.68 367.96,27.66 368.41,27.66 368.87,27.68 369.33,27.77 369.79,27.91 370.24,28.09 370.70,28.31 371.16,28.57 371.62,28.86 372.07,29.17 372.53,29.51 372.99,29.86 373.45,30.22 373.90,30.59 374.36,30.96 374.82,31.32 375.28,31.68 375.73,32.06 376.19,32.50 376.65,32.98 377.11,33.50 377.56,34.05 378.02,34.62 378.48,35.20 378.93,35.78 379.39,36.36 379.85,36.93 380.31,37.47 380.76,37.99 381.22,38.46 381.68,38.89 382.14,39.25 382.59,39.59 383.05,39.91 383.51,40.23 383.97,40.53 384.42,40.83 384.88,41.12 385.34,41.39 385.80,41.65 386.25,41.89 386.71,42.13 387.17,42.34 387.63,42.54 388.08,42.73 388.54,42.89 389.00,43.04 389.46,43.18 389.91,43.32 390.37,43.45 390.83,43.59 391.29,43.71 391.74,43.84 392.20,43.95 392.66,44.06 393.12,44.16 393.57,44.25 394.03,44.32 394.49,44.38 394.95,44.42 395.40,44.45 395.86,44.46 396.32,44.46 396.77,44.45 397.23,44.45 397.69,44.44 398.15,44.42 398.60,44.41 399.06,44.39 399.52,44.37 399.98,44.35 400.43,44.33 400.89,44.31 401.35,44.29 401.81,44.27 402.26,44.25 402.72,44.22 403.18,44.20 403.64,44.17 404.09,44.13 404.55,44.10 405.01,44.05 405.47,44.01 405.92,43.97 406.38,43.93 406.84,43.89 407.30,43.85 407.75,43.82 408.21,43.79 408.67,43.77 409.13,43.76 409.58,43.75 410.04,43.76 410.50,43.79 410.96,43.83 411.41,43.89 411.87,43.96 412.33,44.05 412.79,44.14 413.24,44.25 413.70,44.36 414.16,44.49 414.61,44.62 415.07,44.75 415.53,44.89 415.99,45.03 416.44,45.17 416.90,45.33 417.36,45.51 417.82,45.72 418.27,45.96 418.73,46.21 419.19,46.49 419.65,46.78 420.10,47.08 420.56,47.40 421.02,47.73 421.48,48.06 421.93,48.40 422.39,48.75 422.85,49.09 423.31,49.43 423.76,49.78 424.22,50.15 424.68,50.54 425.14,50.93 425.59,51.35 426.05,51.77 426.51,52.21 426.97,52.65 427.42,53.09 427.88,53.55 428.34,54.00 428.80,54.46 429.25,54.92 429.71,55.37 430.17,55.82 430.62,56.27 431.08,56.72 431.54,57.18 432.00,57.63 432.45,58.09 432.91,58.56 433.37,59.02 433.83,59.49 434.28,59.97 434.74,60.45 435.20,60.93 435.66,61.42 436.11,61.92 436.57,62.42 437.03,62.92 437.49,63.43 437.94,63.93 438.40,64.43 438.86,64.93 439.32,65.43 439.77,65.94 440.23,66.45 440.69,66.98 441.15,67.52 441.60,68.08 442.06,68.65 442.52,69.25 442.98,69.88 443.43,70.53 443.89,71.21 444.35,71.93 444.81,72.71 445.26,73.53 445.72,74.40 446.18,75.30 446.64,76.24 447.09,77.20 447.55,78.19 448.01,79.20 448.46,80.22 448.92,81.26 449.38,82.30 449.84,83.34 450.29,84.38 450.75,85.41 451.21,86.44 451.67,87.50 452.12,88.56 452.58,89.64 453.04,90.74 453.50,91.84 453.95,92.96 454.41,94.09 454.87,95.23 455.33,96.38 455.78,97.53 456.24,98.69 456.70,99.86 457.16,101.04 457.61,102.22 458.07,103.41 458.53,104.63 458.99,105.86 459.44,107.12 459.90,108.38 460.36,109.66 460.82,110.94 461.27,112.22 461.73,113.50 462.19,114.78 462.65,116.04 463.10,117.29 463.56,118.52 464.02,119.73 464.48,120.92 464.93,122.07 465.39,123.20 465.85,124.31 466.30,125.39 466.76,126.47 467.22,127.53 467.68,128.59 468.13,129.66 468.59,130.72 469.05,131.80 469.51,132.89 469.96,134.00 470.42,135.13 470.88,136.29 471.34,137.48 471.79,138.68 472.25,139.86 472.71,141.02 473.17,142.18 473.62,143.35 474.08,144.53 474.54,145.74 475.00,146.99 475.45,148.29 475.91,149.64 476.37,151.06 476.83,152.56 477.28,154.14 477.74,155.82 478.20,157.60 478.66,159.58 479.11,161.82 479.57,164.28 480.03,166.95 480.49,169.79 480.94,172.77 481.40,175.88 481.86,179.07 482.31,182.33 482.77,185.62 483.23,188.92 483.69,192.20 484.14,195.43 484.60,198.58 485.06,201.63 485.52,204.61 485.97,207.56 486.43,210.50 486.89,213.43 487.35,216.36 487.80,219.30 488.26,222.25 488.72,225.23 489.18,228.23 489.63,231.27 490.09,234.36 490.55,237.50 491.01,240.70 491.46,243.97 491.92,247.31 492.38,250.67 492.84,253.99 493.29,257.29 493.75,260.61 494.21,263.96 494.67,267.36 495.12,270.85 495.58,274.43 496.04,278.14 496.50,282.00 496.95,286.04 497.41,290.27 497.87,294.71 498.33,299.40 498.78,304.36 499.24,309.82 499.70,315.98 500.15,322.73 500.61,330.00 501.07,337.71 501.53,345.76 501.98,354.09 502.44,362.59 502.90,371.19 503.36,379.80 503.81,388.34 504.27,396.72 504.73,404.87 505.19,412.69 505.64,420.10 506.10,427.09 506.56,433.76 507.02,440.21 507.47,446.54 507.93,452.86 508.39,459.26 508.85,465.86 509.30,472.74 509.76,480.02 510.22,487.80 510.68,496.74 511.13,507.26 511.59,519.05 512.05,531.82 512.51,545.27 512.96,559.11 513.42,573.04 513.88,586.76 514.34,599.98 514.79,612.40 515.25,623.72 515.71,633.64 516.16,641.88 516.62,648.13 517.08,652.10 517.54,653.49 517.99,652.63 518.45,650.10 518.91,645.98 519.37,640.38 519.82,633.36 520.28,625.02 520.74,615.44 521.20,604.71 521.65,592.92 522.11,580.15 522.57,566.48 523.03,552.01 523.48,536.82 523.94,521.00 524.40,504.63 524.86,487.80 525.31,460.73 525.77,425.92 526.23,401.88 526.69,390.06 527.14,379.52 527.60,370.14 528.06,361.79 528.52,354.35 528.97,347.69 529.43,341.68 529.89,336.21 530.35,331.16 530.80,326.38 531.26,321.77 531.72,317.20 532.18,312.54 532.63,307.67 533.09,302.46 533.55,297.09 534.00,291.81 534.46,286.62 534.92,281.54 535.38,276.56 535.83,271.69 536.29,266.94 536.75,262.31 537.21,257.81 537.66,253.44 538.12,249.22 538.58,245.14 539.04,241.21 539.49,237.43 539.95,233.82 540.41,230.37 540.87,227.05 541.32,223.86 541.78,220.79 542.24,217.82 542.70,214.93 543.15,212.12 543.61,209.37 544.07,206.67 544.53,204.00 544.98,201.36 545.44,198.72 545.90,196.08 546.36,193.43 546.81,190.74 547.27,188.03 547.73,185.30 548.19,182.56 548.64,179.82 549.10,177.10 549.56,174.39 550.02,171.72 550.47,169.08 550.93,166.49 551.39,163.95 551.84,161.48 552.30,159.08 552.76,156.76 553.22,154.53 553.67,152.40 554.13,150.36 554.59,148.39 555.05,146.49 555.50,144.64 555.96,142.85 556.42,141.10 556.88,139.38 557.33,137.70 557.79,136.04 558.25,134.39 558.71,132.75 559.16,131.11 559.62,129.46 560.08,127.80 560.54,126.12 560.99,124.42 561.45,122.70 561.91,120.97 562.37,119.24 562.82,117.51 563.28,115.79 563.74,114.08 564.20,112.39 564.65,110.72 565.11,109.08 565.57,107.48 566.03,105.91 566.48,104.39 566.94,102.92 567.40,101.51 567.85,100.13 568.31,98.77 568.77,97.43 569.23,96.11 569.68,94.82 570.14,93.55 570.60,92.31 571.06,91.09 571.51,89.91 571.97,88.76 572.43,87.64 572.89,86.55 573.34,85.50 573.80,84.49 574.26,83.52 574.72,82.58 575.17,81.68 575.63,80.82 576.09,79.98 576.55,79.16 577.00,78.37 577.46,77.60 577.92,76.84 578.38,76.09 578.83,75.35 579.29,74.62 579.75,73.89 580.21,73.16 580.66,72.42 581.12,71.68 581.58,70.94 582.04,70.21 582.49,69.48 582.95,68.77 583.41,68.06 583.87,67.35 584.32,66.65 584.78,65.95 585.24,65.25 585.69,64.56 586.15,63.86 586.61,63.16 587.07,62.45 587.52,61.74 587.98,61.03 588.44,60.30 588.90,59.57 589.35,58.82 589.81,58.07 590.27,57.31 590.73,56.55 591.18,55.79 591.64,55.04 592.10,54.30 592.56,53.56 593.01,52.84 593.47,52.13 593.93,51.45 594.39,50.78 594.84,50.14 595.30,49.51 595.76,48.87 596.22,48.22 596.67,47.57 597.13,46.93 597.59,46.30 598.05,45.69 598.50,45.09 598.96,44.52 599.42,43.97 599.88,43.46 600.33,42.99 600.79,42.56 601.25,42.18 601.71,41.86 602.16,41.56 602.62,41.28 603.08,41.00 603.53,40.73 603.99,40.48 604.45,40.24 604.91,40.01 605.36,39.80 605.82,39.60 606.28,39.42 606.74,39.25 607.19,39.10 607.65,38.98 608.11,38.87 608.57,38.78 609.02,38.70 609.48,38.63 609.94,38.56 610.40,38.49 610.85,38.43 611.31,38.36 611.77,38.31 612.23,38.26 612.68,38.21 613.14,38.17 613.60,38.13 614.06,38.11 614.51,38.09 614.97,38.07 615.43,38.07 615.89,38.07 616.34,38.09 616.80,38.11 617.26,38.14 617.72,38.18 618.17,38.22 618.63,38.27 619.09,38.33 619.54,38.39 620.00,38.45 620.46,38.51 620.92,38.58 621.37,38.65 621.83,38.71 622.29,38.78 622.75,38.85 623.20,38.92 623.66,39.00 624.12,39.09 624.58,39.18 625.03,39.28 625.49,39.38 625.95,39.49 626.41,39.61 626.86,39.73 627.32,39.86 627.78,39.99 628.24,40.13 628.69,40.28 629.15,40.44 629.61,40.61 630.07,40.83 630.52,41.07 630.98,41.33 631.44,41.62 631.90,41.92 632.35,42.24 632.81,42.56 633.27,42.89 633.73,43.22 634.18,43.54 634.64,43.85 635.10,44.15 635.56,44.44 636.01,44.70 636.47,44.94 636.93,45.18 637.38,45.41 637.84,45.63 638.30,45.85 638.76,46.06 639.21,46.27 639.67,46.48 640.13,46.69 640.59,46.90 641.04,47.12 641.50,47.33 641.96,47.55 642.42,47.78 642.87,48.01 643.33,48.25 643.79,48.50 644.25,48.76 644.70,49.03 645.16,49.30 645.62,49.57 646.08,49.84 646.53,50.11 646.99,50.37 647.45,50.64 647.91,50.89 648.36,51.14 648.82,51.37 649.28,51.59 649.74,51.80 650.19,51.99 650.65,52.18 651.11,52.36 651.57,52.54 652.02,52.71 652.48,52.87 652.94,53.03 653.39,53.18 653.85,53.33 654.31,53.48 654.77,53.63 655.22,53.77 655.68,53.91 656.14,54.05 656.60,54.19 657.05,54.33 657.51,54.46 657.97,54.60 658.43,54.74 658.88,54.89 659.34,55.03 659.80,55.18 660.26,55.33 660.71,55.49 661.17,55.65 661.63,55.81 662.09,55.98 662.54,56.16 663.00,56.34 663.46,56.53 663.92,56.73 664.37,56.94 664.83,57.16 665.29,57.39 665.75,57.62 666.20,57.86 666.66,58.10 667.12,58.35 667.58,58.60 668.03,58.85 668.49,59.10 668.95,59.35 669.41,59.60 669.86,59.84 670.32,60.08 670.78,60.32 671.23,60.55 671.69,60.79 672.15,61.02 672.61,61.25 673.06,61.48 673.52,61.71 673.98,61.95 674.44,62.18 674.89,62.42 675.35,62.65 675.81,62.90 676.27,63.14 676.72,63.38 677.18,63.63 677.64,63.89 678.10,64.14 678.55,64.40 679.01,64.66 679.47,64.93 679.93,65.20 680.38,65.46 680.84,65.74 681.30,66.01 681.76,66.28 682.21,66.55 682.67,66.83 683.13,67.11 683.59,67.38 684.04,67.66 684.50,67.93 684.96,68.20 685.42,68.47 685.87,68.74 686.33,69.01 686.79,69.28 687.25,69.55 687.70,69.82 688.16,70.10 688.62,70.39 689.07,70.68 689.53,70.97 689.99,71.28 690.45,71.59 690.90,71.92 691.36,72.26 691.82,72.61 692.28,72.98 692.73,73.36 693.19,73.75 693.65,74.15 694.11,74.55 694.56,74.96 695.02,75.38 695.48,75.79 695.94,76.21 696.39,76.62 696.85,77.03 697.31,77.44 697.77,77.84 698.22,78.23 698.68,78.62 699.14,79.01 699.60,79.40 700.05,79.78 700.51,80.17 700.97,80.56 701.43,80.95 701.88,81.34 702.34,81.73 702.80,82.13 703.26,82.53 703.71,82.93 704.17,83.34 704.63,83.75 705.08,84.17 705.54,84.60 706.00,85.03 706.46,85.46 706.91,85.90 707.37,86.34 707.83,86.78 708.29,87.23 708.74,87.68 709.20,88.13 709.66,88.58 710.12,89.03 710.57,89.48 711.03,89.93 711.49,90.38 711.95,90.83 712.40,91.27 712.86,91.72 713.32,92.16 713.78,92.60 714.23,93.05 714.69,93.49 715.15,93.94 715.61,94.40 716.06,94.85 716.52,95.32 716.98,95.79 717.44,96.26 717.89,96.75 718.35,97.25 718.81,97.75 719.27,98.25 719.72,98.77 720.18,99.28 720.64,99.81 721.10,100.34 721.55,100.88 722.01,101.42 722.47,101.98 722.92,102.54 723.38,103.12 723.84,103.70 724.30,104.30 724.75,104.91 725.21,105.53 725.67,106.17 726.13,106.83 726.58,107.52 727.04,108.22 727.50,108.94 727.96,109.67 728.41,110.41 728.87,111.16 729.33,111.92 729.79,112.68 730.24,113.44 730.70,114.19 731.16,114.94 731.62,115.69 732.07,116.42 732.53,117.14 732.99,117.86 733.45,118.57 733.90,119.29 734.36,120.00 734.82,120.71 735.28,121.42 735.73,122.14 736.19,122.85 736.65,123.58 737.11,124.31 737.56,125.04 738.02,125.79 738.48,126.54 738.94,127.31 739.39,128.09 739.85,128.88 740.31,129.70 740.76,130.52 741.22,131.35 741.68,132.19 742.14,133.04 742.59,133.88 743.05,134.73 743.51,135.57 743.97,136.40 744.42,137.22 744.88,138.04 745.34,138.83 745.80,139.61 746.25,140.38 746.71,141.12 747.17,141.86 747.63,142.58 748.08,143.30 748.54,144.01 749.00,144.72 749.46,145.42 749.91,146.13 750.37,146.84 750.83,147.55 751.29,148.27 751.74,149.00 752.20,149.75 752.66,150.50 753.12,151.27 753.57,152.05 754.03,152.83 754.49,153.63 754.95,154.43 755.40,155.23 755.86,156.04 756.32,156.85 756.77,157.67 757.23,158.49 757.69,159.31 758.15,160.12 758.60,160.94 759.06,161.76 759.52,162.57 759.98,163.37 760.43,164.16 760.89,164.92 761.35,165.68 761.81,166.43 762.26,167.18 762.72,167.94 763.18,168.71 763.64,169.50 764.09,170.31 764.55,171.15 765.01,172.02 765.47,172.93 765.92,173.88 766.38,174.88 766.84,175.94 767.30,177.07 767.75,178.26 768.21,179.51 768.67,180.81 769.13,182.15 769.58,183.54 770.04,184.96 770.50,186.41 770.96,187.88 771.41,189.38 771.87,190.90 772.33,192.42 772.79,193.95 773.24,195.48 773.70,197.03 774.16,198.63 774.61,200.28 775.07,201.96 775.53,203.67 775.99,205.41 776.44,207.17 776.90,208.95 777.36,210.73 777.82,212.51 778.27,214.30 778.73,216.07 779.19,217.83 779.65,219.56 780.10,221.28 780.56,222.96 781.02,224.64 781.48,226.30 781.93,227.96 782.39,229.61 782.85,231.25 783.31,232.90 783.76,234.55 784.22,236.20 784.68,237.86 785.14,239.53 785.59,241.21 786.05,242.91 786.51,244.63 786.97,246.37 787.42,248.11 787.88,249.87 788.34,251.62 788.80,253.39 789.25,255.16 789.71,256.94 790.17,258.74 790.62,260.55 791.08,262.38 791.54,264.23 792.00,266.10 792.45,267.99 792.91,269.91 793.37,271.85 793.83,273.82 794.28,275.82 794.74,277.84 795.20,279.88 795.66,281.94 796.11,284.02 796.57,286.13 797.03,288.26 797.49,290.43 797.94,292.62 798.40,294.85 798.86,297.10 799.32,299.39 799.77,301.72 800.23,304.08 800.69,306.49 801.15,308.92 801.60,311.38 802.06,313.87 802.52,316.39 802.98,318.94 803.43,321.54 803.89,324.19 804.35,326.88 804.81,329.62 805.26,332.43 805.72,335.29 806.18,338.22 806.64,341.22 807.09,344.29 807.55,347.44 808.01,350.70 808.46,354.09 808.92,357.61 809.38,361.23 809.84,364.96 810.29,368.77 810.75,372.65 811.21,376.60 811.67,380.60 812.12,384.63 812.58,388.69 813.04,392.77 813.50,396.84 813.95,400.91 814.41,404.96 814.87,408.94 815.33,412.87 815.78,416.75 816.24,420.61 816.70,424.48 817.16,428.38 817.61,432.33 818.07,436.36 818.53,440.48 818.99,444.73 819.44,449.12 819.90,453.69 820.36,458.44 820.82,463.41 821.27,468.63 821.73,474.40 822.19,480.88 822.65,487.80 823.10,495.41 823.56,504.03 824.02,513.50 824.48,523.68 824.93,534.39 825.39,545.48 825.85,556.81 826.30,568.20 826.76,579.50 827.22,590.57 827.68,601.23 828.13,611.33 828.59,620.72 829.05,629.24 829.51,636.72 829.96,643.03 830.42,647.99 830.88,651.45 831.34,653.26 831.79,653.26 832.25,651.47 832.71,648.06 833.17,643.17 833.62,636.97 834.08,629.61 834.54,621.27 835.00,612.09 835.45,602.24 835.91,591.89 836.37,581.18 836.83,570.28 837.28,559.34 837.74,548.54 838.20,538.03 838.66,527.96 839.11,518.51 839.57,509.82 840.03,502.07 840.49,495.40 840.94,489.99 841.40,486.06 841.86,483.07 842.31,479.63 842.77,476.08 843.23,472.44 843.69,468.71 844.14,464.90 844.60,461.03 845.06,457.11 845.52,453.15 845.97,449.16 846.43,445.16 846.89,441.15 847.35,437.15 847.80,433.17 848.26,429.22 848.72,425.31 849.18,421.38 849.63,417.38 850.09,413.32 850.55,409.21 851.01,405.09 851.46,400.96 851.92,396.84 852.38,392.76 852.84,388.72 853.29,384.76 853.75,380.88 854.21,377.11 854.67,373.46 855.12,369.96 855.58,366.61 856.04,363.39 856.50,360.26 856.95,357.21 857.41,354.23 857.87,351.32 858.33,348.47 858.78,345.68 859.24,342.94 859.70,340.24 860.15,337.59 860.61,334.96 861.07,332.37 861.53,329.80 861.98,327.25 862.44,324.71 862.90,322.19 863.36,319.68 863.81,317.19 864.27,314.73 864.73,312.29 865.19,309.88 865.64,307.50 866.10,305.16 866.56,302.85 867.02,300.58 867.47,298.36 867.93,296.17 868.39,294.04 868.85,291.95 869.30,289.92 869.76,287.94 870.22,286.00 870.68,284.11 871.13,282.26 871.59,280.45 872.05,278.67 872.51,276.91 872.96,275.18 873.42,273.47 873.88,271.78 874.34,270.09 874.79,268.42 875.25,266.75 875.71,265.08 876.17,263.41 876.62,261.73 877.08,260.06 877.54,258.39 877.99,256.73 878.45,255.07 878.91,253.43 879.37,251.80 879.82,250.19 880.28,248.59 880.74,247.01 881.20,245.46 881.65,243.93 882.11,242.42 882.57,240.95 883.03,239.50 883.48,238.09 883.94,236.70 884.40,235.33 884.86,233.98 885.31,232.66 885.77,231.35 886.23,230.06 886.69,228.78 887.14,227.52 887.60,226.27 888.06,225.02 888.52,223.78 888.97,222.55 889.43,221.32 889.89,220.09 890.35,218.87 890.80,217.66 891.26,216.45 891.72,215.25 892.18,214.07 892.63,212.89 893.09,211.71 893.55,210.55 894.00,209.39 894.46,208.24 894.92,207.09 895.38,205.96 895.83,204.82 896.29,203.70 896.75,202.58 897.21,201.46 897.66,200.35 898.12,199.24 898.58,198.14 899.04,197.05 899.49,195.96 899.95,194.87 900.41,193.80 900.87,192.73 901.32,191.67 901.78,190.61 902.24,189.57 902.70,188.53 903.15,187.50 903.61,186.48 904.07,185.47 904.53,184.47 904.98,183.48 905.44,182.50 905.90,181.52 906.36,180.56 906.81,179.60 907.27,178.64 907.73,177.69 908.19,176.74 908.64,175.80 909.10,174.86 909.56,173.92 910.02,172.98 910.47,172.04 910.93,171.10 911.39,170.15 911.84,169.20 912.30,168.25 912.76,167.30 913.22,166.35 913.67,165.41 914.13,164.47 914.59,163.54 915.05,162.63 915.50,161.73 915.96,160.85 916.42,159.98 916.88,159.14 917.33,158.31 917.79,157.51 918.25,156.72 918.71,155.95 919.16,155.19 919.62,154.44 920.08,153.70 920.54,152.98 920.99,152.26 921.45,151.55 921.91,150.85 922.37,150.15 922.82,149.47 923.28,148.78 923.74,148.10 924.20,147.43 924.65,146.76 925.11,146.10 925.57,145.45 926.03,144.81 926.48,144.17 926.94,143.54 927.40,142.92 927.85,142.30 928.31,141.68 928.77,141.06 929.23,140.45 929.68,139.83 930.14,139.21 930.60,138.59 931.06,137.96 931.51,137.32 931.97,136.68 932.43,136.03 932.89,135.37 933.34,134.71 933.80,134.05 934.26,133.40 934.72,132.75 935.17,132.10 935.63,131.47 936.09,130.84 936.55,130.23 937.00,129.63 937.46,129.05 937.92,128.49 938.38,127.95 938.83,127.42 939.29,126.92 939.75,126.42 940.21,125.94 940.66,125.46 941.12,124.99 941.58,124.53 942.04,124.06 942.49,123.59 942.95,123.12 943.41,122.65 943.87,122.16 944.32,121.66 944.78,121.15 945.24,120.62 945.69,120.08 946.15,119.52 946.61,118.95 947.07,118.37 947.52,117.79 947.98,117.21 948.44,116.63 948.90,116.05 949.35,115.48 949.81,114.93 950.27,114.38 950.73,113.86 951.18,113.35 951.64,112.87 952.10,112.40 952.56,111.94 953.01,111.48 953.47,111.04 953.93,110.60 954.39,110.17 954.84,109.74 955.30,109.33 955.76,108.93 956.22,108.53 956.67,108.15 957.13,107.77 957.59,107.41 958.05,107.05 958.50,106.71 958.96,106.38 959.42,106.05 959.88,105.73 960.33,105.42 960.79,105.11 961.25,104.82 961.71,104.52 962.16,104.24 962.62,103.96 963.08,103.69 963.53,103.43 963.99,103.17 964.45,102.92 964.91,102.68 965.36,102.45 965.82,102.23 966.28,102.01 966.74,101.80 967.19,101.60 967.65,101.40 968.11,101.21 968.57,101.02 969.02,100.84 969.48,100.66 969.94,100.48 970.40,100.30 970.85,100.13 971.31,99.96 971.77,99.78 972.23,99.61 972.68,99.44 973.14,99.27 973.60,99.11 974.06,98.95 974.51,98.79 974.97,98.63 975.43,98.48 975.89,98.32 976.34,98.17 976.80,98.02 977.26,97.86 977.72,97.71 978.17,97.56 978.63,97.40 979.09,97.24 979.54,97.09 980.00,96.93 980.46,96.78 980.92,96.63 981.37,96.47 981.83,96.32 982.29,96.17 982.75,96.01 983.20,95.86 983.66,95.70 984.12,95.54 984.58,95.38 985.03,95.22 985.49,95.05 985.95,94.88 986.41,94.70 986.86,94.53 987.32,94.34 987.78,94.16 988.24,93.97 988.69,93.78 989.15,93.59 989.61,93.39 990.07,93.20 990.52,93.00 990.98,92.81 991.44,92.61 991.90,92.42 992.35,92.23 992.81,92.04 993.27,91.85 993.73,91.66 994.18,91.47 994.64,91.27 995.10,91.08 995.56,90.89 996.01,90.70 996.47,90.51 996.93,90.32 997.38,90.13 997.84,89.94 998.30,89.75 998.76,89.56 999.21,89.38 999.67,89.20 1000.13,89.02 1000.59,88.84 1001.04,88.66 1001.50,88.48 1001.96,88.30 1002.42,88.13 1002.87,87.95 1003.33,87.78 1003.79,87.61 1004.25,87.43 1004.70,87.26 1005.16,87.09 1005.62,86.93 1006.08,86.76 1006.53,86.59 1006.99,86.43 1007.45,86.26 1007.91,86.10 1008.36,85.94 1008.82,85.78 1009.28,85.62 1009.74,85.46 1010.19,85.30 1010.65,85.14 1011.11,84.99 1011.57,84.83 1012.02,84.68 1012.48,84.53 1012.94,84.38 1013.40,84.23 1013.85,84.08 1014.31,83.93 1014.77,83.78 1015.22,83.64 1015.68,83.49 1016.14,83.35 1016.60,83.20 1017.05,83.06 1017.51,82.92 1017.97,82.78 1018.43,82.64 1018.88,82.50 1019.34,82.37 1019.80,82.23 1020.26,82.10 1020.71,81.96 1021.17,81.83 1021.63,81.69 1022.09,81.56 1022.54,81.43 1023.00,81.30 1023.46,81.17 1023.92,81.04 1024.37,80.91 1024.83,80.79 1025.29,80.66 1025.75,80.54 1026.20,80.43 1026.66,80.31 1027.12,80.20 1027.58,80.09 1028.03,79.99 1028.49,79.89 1028.95,79.78 1029.41,79.69 1029.86,79.59 1030.32,79.49 1030.78,79.40 1031.23,79.30 1031.69,79.21 1032.15,79.12 1032.61,79.03 1033.06,78.94 1033.52,78.85 1033.98,78.76 1034.44,78.67 1034.89,78.58 1035.35,78.49 1035.81,78.40 1036.27,78.31 1036.72,78.22 1037.18,78.13 1037.64,78.03 1038.10,77.94 1038.55,77.84 1039.01,77.74 1039.47,77.65 1039.93,77.55 1040.38,77.45 1040.84,77.35 1041.30,77.25 1041.76,77.15 1042.21,77.04 1042.67,76.94 1043.13,76.84 1043.59,76.74 1044.04,76.64 1044.50,76.54 1044.96,76.44 1045.42,76.34 1045.87,76.24 1046.33,76.14 1046.79,76.04 1047.25,75.94 1047.70,75.85 1048.16,75.75 1048.62,75.66 1049.07,75.56 1049.53,75.47 1049.99,75.38 1050.45,75.29 1050.90,75.21 1051.36,75.12 1051.82,75.04 1052.28,74.96 1052.73,74.88 1053.19,74.80 1053.65,74.73 1054.11,74.65 1054.56,74.58 1055.02,74.52 1055.48,74.45 1055.94,74.39 1056.39,74.33 1056.85,74.28 1057.31,74.22 1057.77,74.18 1058.22,74.13 1058.68,74.09 1059.14,74.05 1059.60,74.01 1060.05,73.98 1060.51,73.94 1060.97,73.91 1061.43,73.87 1061.88,73.84 1062.34,73.80 1062.80,73.77 1063.26,73.74 1063.71,73.71 1064.17,73.68 1064.63,73.65 1065.08,73.62 1065.54,73.59 1066.00,73.56 1066.46,73.54 1066.91,73.51 1067.37,73.48 1067.83,73.46 1068.29,73.43 1068.74,73.40 1069.20,73.38 1069.66,73.36 1070.12,73.33 1070.57,73.31 1071.03,73.29 1071.49,73.26 1071.95,73.24 1072.40,73.22 1072.86,73.20 1073.32,73.18 1073.78,73.16 1074.23,73.14 1074.69,73.12 1075.15,73.10 1075.61,73.08 1076.06,73.07 1076.52,73.05 1076.98,73.03 1077.44,73.02 1077.89,73.00 1078.35,72.98 1078.81,72.97 1079.27,72.95 1079.72,72.94 1080.18,72.92 1080.64,72.91 1081.10,72.89 1081.55,72.88 1082.01,72.86 1082.47,72.85 1082.92,72.84 1083.38,72.83 1083.84,72.81 1084.30,72.80 1084.75,72.79 1085.21,72.78 1085.67,72.77 1086.13,72.76 1086.58,72.74 1087.04,72.73 1087.50,72.72 1087.96,72.71 1088.41,72.70 1088.87,72.69 1089.33,72.68 1089.79,72.67 1090.24,72.66 1090.70,72.66 1091.16,72.65 1091.62,72.64 1092.07,72.63 1092.53,72.62 1092.99,72.61 1093.45,72.60 1093.90,72.59 1094.36,72.59 1094.82,72.58 1095.28,72.57 1095.73,72.56 1096.19,72.55 1096.65,72.55 1097.11,72.54 1097.56,72.53 1098.02,72.52 1098.48,72.51 1098.94,72.50 1099.39,72.50 1099.85,72.49 1100.31,72.48 1100.76,72.47 1101.22,72.46 1101.68,72.45 1102.14,72.45 1102.59,72.44 1103.05,72.43 1103.51,72.42 1103.97,72.41 1104.42,72.40 1104.88,72.39 1105.34,72.38 1105.80,72.37 1106.25,72.36 1106.71,72.35 1107.17,72.35 1107.63,72.34 1108.08,72.33 1108.54,72.32 1109.00,72.31 1109.46,72.30 1109.91,72.29 1110.37,72.28 1110.83,72.27 1111.29,72.26 1111.74,72.26 1112.20,72.25 1112.66,72.24 1113.12,72.23 1113.57,72.22 1114.03,72.21 1114.49,72.20 1114.95,72.19 1115.40,72.18 1115.86,72.18 1116.32,72.17 1116.77,72.16 1117.23,72.15 1117.69,72.14 1118.15,72.13 1118.60,72.12 1119.06,72.11 1119.52,72.10 1119.98,72.09 1120.43,72.08 1120.89,72.07 1121.35,72.06 1121.81,72.05 1122.26,72.04 1122.72,72.03 1123.18,72.02 1123.64,72.01 1124.09,72.00 1124.55,71.99 1125.01,71.98 1125.47,71.97 1125.92,71.96 1126.38,71.95 1126.84,71.94 1127.30,71.93 1127.75,71.92 1128.21,71.91 1128.67,71.90 1129.13,71.88 1129.58,71.87 1130.04,71.86 1130.50,71.85 1130.96,71.84 1131.41,71.83 1131.87,71.82 1132.33,71.81 1132.79,71.80 1133.24,71.78 1133.70,71.77 1134.16,71.76 1134.61,71.75 1135.07,71.74 1135.53,71.73 1135.99,71.72 1136.44,71.70 1136.90,71.69 1137.36,71.68 1137.82,71.67 1138.27,71.65 1138.73,71.64 1139.19,71.63 1139.65,71.62 1140.10,71.60 1140.56,71.59 1141.02,71.57 1141.48,71.56 1141.93,71.55 1142.39,71.53 1142.85,71.52 1143.31,71.50 1143.76,71.49 1144.22,71.47 1144.68,71.45 1145.14,71.44 1145.59,71.42 1146.05,71.40 1146.51,71.39 1146.97,71.37 1147.42,71.35 1147.88,71.33 1148.34,71.31 1148.80,71.29 1149.25,71.27 1149.71,71.25 1150.17,71.23 1150.63,71.21 1151.08,71.19 1151.54,71.16 1152.00,71.14 1152.45,71.11 1152.91,71.08 1153.37,71.05 1153.83,71.02 1154.28,70.99 1154.74,70.96 1155.20,70.93 1155.66,70.89 1156.11,70.86 1156.57,70.82 1157.03,70.78 1157.49,70.74 1157.94,70.70 1158.40,70.66 1158.86,70.62 1159.32,70.58 1159.77,70.53 1160.23,70.49 1160.69,70.44 1161.15,70.39 1161.60,70.35 1162.06,70.30 1162.52,70.25 1162.98,70.20 1163.43,70.15 1163.89,70.09 1164.35,70.04 1164.81,69.99 1165.26,69.93 1165.72,69.88 1166.18,69.82 1166.64,69.77 1167.09,69.71 1167.55,69.65 1168.01,69.59 1168.46,69.53 1168.92,69.47 1169.38,69.41 1169.84,69.35 1170.29,69.29 1170.75,69.23 1171.21,69.16 1171.67,69.10 1172.12,69.04 1172.58,68.97 1173.04,68.91 1173.50,68.84 1173.95,68.77 1174.41,68.70 1174.87,68.61 1175.33,68.53 1175.78,68.44 1176.24,68.34 1176.70,68.24 1177.16,68.14 1177.61,68.03 1178.07,67.92 1178.53,67.81 1178.99,67.70 1179.44,67.60 1179.90,67.49 1180.36,67.38 1180.82,67.27 1181.27,67.17 1181.73,67.06 1182.19,66.96 1182.65,66.87 1183.10,66.78 1183.56,66.69 1184.02,66.61 1184.48,66.54 1184.93,66.47 1185.39,66.41 1185.85,66.35 1186.30,66.30 1186.76,66.24 1187.22,66.19 1187.68,66.14 1188.13,66.09 1188.59,66.04 1189.05,65.99 1189.51,65.94 1189.96,65.90 1190.42,65.85 1190.88,65.81 1191.34,65.77 1191.79,65.73 1192.25,65.68 1192.71,65.64 1193.17,65.60 1193.62,65.56 1194.08,65.51 1194.54,65.47 1195.00,65.43 1195.45,65.38 1195.91,65.34 1196.37,65.29 1196.83,65.24 1197.28,65.20 1197.74,65.15 1198.20,65.10 1198.66,65.05 1199.11,65.00 1199.57,64.95 1200.03,64.91 1200.49,64.86 1200.94,64.81 1201.40,64.76 1201.86,64.71 1202.31,64.66 1202.77,64.61 1203.23,64.56 1203.69,64.51 1204.14,64.46 1204.60,64.41 1205.06,64.36 1205.52,64.31 1205.97,64.27 1206.43,64.22 1206.89,64.17 1207.35,64.12 1207.80,64.07 1208.26,64.02 1208.72,63.97 1209.18,63.92 1209.63,63.88 1210.09,63.83 1210.55,63.78 1211.01,63.73 1211.46,63.68 1211.92,63.64 1212.38,63.59 1212.84,63.54 1213.29,63.50 1213.75,63.45 1214.21,63.40 1214.67,63.36 1215.12,63.31 1215.58,63.27 1216.04,63.22 1216.50,63.18 1216.95,63.14 1217.41,63.09 1217.87,63.05 1218.33,63.01 1218.78,62.97 1219.24,62.92 1219.70,62.88 1220.15,62.84 1220.61,62.80 1221.07,62.76 1221.53,62.72 1221.98,62.69 1222.44,62.65 1222.90,62.61 1223.36,62.57 1223.81,62.54 1224.27,62.50 1224.73,62.47 1225.19,62.43 1225.64,62.40 1226.10,62.36 1226.56,62.33 1227.02,62.29 1227.47,62.26 1227.93,62.22 1228.39,62.19 1228.85,62.15 1229.30,62.12 1229.76,62.09 1230.22,62.05 1230.68,62.02 1231.13,61.98 1231.59,61.95 1232.05,61.91 1232.51,61.88 1232.96,61.84 1233.42,61.81 1233.88,61.77 1234.34,61.74 1234.79,61.70 1235.25,61.66 1235.71,61.63 1236.17,61.59 1236.62,61.55 1237.08,61.51 1237.54,61.47 1237.99,61.43 1238.45,61.39 1238.91,61.35 1239.37,61.31 1239.82,61.27 1240.28,61.22 1240.74,61.18 1241.20,61.13 1241.65,61.09 1242.11,61.04 1242.57,61.00 1243.03,60.95 1243.48,60.90 1243.94,60.85 1244.40,60.80 1244.86,60.75 1245.31,60.70 1245.77,60.65 1246.23,60.60 1246.69,60.55 1247.14,60.50 1247.60,60.44 1248.06,60.39 1248.52,60.34 1248.97,60.28 1249.43,60.23 1249.89,60.17 1250.35,60.12 1250.80,60.07 1251.26,60.01 1251.72,59.96 1252.18,59.90 1252.63,59.85 1253.09,59.79 1253.55,59.74 1254.00,59.68 1254.46,59.62 1254.92,59.57 1255.38,59.51 1255.83,59.46 1256.29,59.40 1256.75,59.35 1257.21,59.30 1257.66,59.24 1258.12,59.19 1258.58,59.13 1259.04,59.08 1259.49,59.03 1259.95,58.97 1260.41,58.92 1260.87,58.87 1261.32,58.82 1261.78,58.77 1262.24,58.72 1262.70,58.67 1263.15,58.62 1263.61,58.57 1264.07,58.52 1264.53,58.47 1264.98,58.43 1265.44,58.38 1265.90,58.33 1266.36,58.29 1266.81,58.24 1267.27,58.20 1267.73,58.16 1268.19,58.11 1268.64,58.07 1269.10,58.03 1269.56,57.98 1270.02,57.94 1270.47,57.90 1270.93,57.86 1271.39,57.82 1271.84,57.78 1272.30,57.73 1272.76,57.69 1273.22,57.65 1273.67,57.61 1274.13,57.57 1274.59,57.53 1275.05,57.49 1275.50,57.45 1275.96,57.41 1276.42,57.37 1276.88,57.33 1277.33,57.29 1277.79,57.25 1278.25,57.21 1278.71,57.17 1279.16,57.13 1279.62,57.09 1280.08,57.05 1280.54,57.01 1280.99,56.96 1281.45,56.92 1281.91,56.88 1282.37,56.84 1282.82,56.79 1283.28,56.75 1283.74,56.71 1284.20,56.66 1284.65,56.62 1285.11,56.58 1285.57,56.53 1286.03,56.48 1286.48,56.44 1286.94,56.39 1287.40,56.34 1287.86,56.30 1288.31,56.25 1288.77,56.20 1289.23,56.15 1289.68,56.10 1290.14,56.05 1290.60,56.00 1291.06,55.94 1291.51,55.89 1291.97,55.84 1292.43,55.78 1292.89,55.73 1293.34,55.68 1293.80,55.62 1294.26,55.57 1294.72,55.51 1295.17,55.46 1295.63,55.40 1296.09,55.34 1296.55,55.29 1297.00,55.23 1297.46,55.17 1297.92,55.11 1298.38,55.06 1298.83,55.00 1299.29,54.94 1299.75,54.88 1300.21,54.82 1300.66,54.77 1301.12,54.71 1301.58,54.65 1302.04,54.59 1302.49,54.53 1302.95,54.47 1303.41,54.41 1303.87,54.36 1304.32,54.30 1304.78,54.24 1305.24,54.18 1305.69,54.12 1306.15,54.06 1306.61,54.01 1307.07,53.95 1307.52,53.89 1307.98,53.83 1308.44,53.77 1308.90,53.72 1309.35,53.66 1309.81,53.60 1310.27,53.55 1310.73,53.49 1311.18,53.44 1311.64,53.38 1312.10,53.33 1312.56,53.27 1313.01,53.22 1313.47,53.17 1313.93,53.11 1314.39,53.06 1314.84,53.00 1315.30,52.95 1315.76,52.89 1316.22,52.84 1316.67,52.79 1317.13,52.73 1317.59,52.68 1318.05,52.62 1318.50,52.57 1318.96,52.51 1319.42,52.46 1319.88,52.41 1320.33,52.35 1320.79,52.30 1321.25,52.24 1321.71,52.19 1322.16,52.14 1322.62,52.08 1323.08,52.03 1323.53,51.97 1323.99,51.92 1324.45,51.87 1324.91,51.81 1325.36,51.76 1325.82,51.71 1326.28,51.65 1326.74,51.60 1327.19,51.55 1327.65,51.50 1328.11,51.45 1328.57,51.39 1329.02,51.34 1329.48,51.29 1329.94,51.24 1330.40,51.19 1330.85,51.14 1331.31,51.09 1331.77,51.04 1332.23,50.99 1332.68,50.94 1333.14,50.89 1333.60,50.84 1334.06,50.79 1334.51,50.75 1334.97,50.70 1335.43,50.65 1335.89,50.61 1336.34,50.56 1336.80,50.51 1337.26,50.47 1337.72,50.42 1338.17,50.38 1338.63,50.33 1339.09,50.29 1339.54,50.25 1340.00,50.20 1340.46,50.16 1340.92,50.11 1341.37,50.07 1341.83,50.03 1342.29,49.98 1342.75,49.94 1343.20,49.90 1343.66,49.85 1344.12,49.81 1344.58,49.77 1345.03,49.72 1345.49,49.68 1345.95,49.64 1346.41,49.60 1346.86,49.55 1347.32,49.51 1347.78,49.47 1348.24,49.43 1348.69,49.39 1349.15,49.35 1349.61,49.31 1350.07,49.27 1350.52,49.23 1350.98,49.19 1351.44,49.15 1351.90,49.11 1352.35,49.07 1352.81,49.03 1353.27,48.99 1353.73,48.95 1354.18,48.92 1354.64,48.88 1355.10,48.84 1355.56,48.81 1356.01,48.77 1356.47,48.73 1356.93,48.70 1357.38,48.66 1357.84,48.63 1358.30,48.59 1358.76,48.56 1359.21,48.53 1359.67,48.49 1360.13,48.46 1360.59,48.43 1361.04,48.40 1361.50,48.37 1361.96,48.34 1362.42,48.31 1362.87,48.28 1363.33,48.25 1363.79,48.22 1364.25,48.19 1364.70,48.16 1365.16,48.13 1365.62,48.10 1366.08,48.06 1366.53,48.03 1366.99,48.00 1367.45,47.97 1367.91,47.94 1368.36,47.91 1368.82,47.87 1369.28,47.84 1369.74,47.81 1370.19,47.79 1370.65,47.76 1371.11,47.73 1371.57,47.71 1372.02,47.68 1372.48,47.66 1372.94,47.64 1373.40,47.62 1373.85,47.60 1374.31,47.58 1374.77,47.57 1375.22,47.56 1375.68,47.55 1376.14,47.54 1376.60,47.54 1377.05,47.54 1377.51,47.54 1377.97,47.54 1378.43,47.55 1378.88,47.55 1379.34,47.56 1379.80,47.57 1380.26,47.58 1380.71,47.59 1381.17,47.61 1381.63,47.62 1382.09,47.64 1382.54,47.65 1383.00,47.67 1383.46,47.68 1383.92,47.70 1384.37,47.71 1384.83,47.73 1385.29,47.75 1385.75,47.76 1386.20,47.77 1386.66,47.79 1387.12,47.80 1387.58,47.82 1388.03,47.83 1388.49,47.85 1388.95,47.86 1389.41,47.87 1389.86,47.89 1390.32,47.90 1390.78,47.92 1391.23,47.94 1391.69,47.95 1392.15,47.97 1392.61,47.98 1393.06,48.00 1393.52,48.01 1393.98,48.03 1394.44,48.05 1394.89,48.06 1395.35,48.08 1395.81,48.10 1396.27,48.12 1396.72,48.13 1397.18,48.15 1397.64,48.17 1398.10,48.19 1398.55,48.21 1399.01,48.23 1399.47,48.25 1399.93,48.27 1400.38,48.29 1400.84,48.31 1401.30,48.33 1401.76,48.35 1402.21,48.37 1402.67,48.39 1403.13,48.42 1403.59,48.44 1404.04,48.46 1404.50,48.48 1404.96,48.51 1405.42,48.53 1405.87,48.56 1406.33,48.58 1406.79,48.61 1407.25,48.64 1407.70,48.67 1408.16,48.69 1408.62,48.72 1409.07,48.75 1409.53,48.78 1409.99,48.81 1410.45,48.85 1410.90,48.88 1411.36,48.91 1411.82,48.94 1412.28,48.98 1412.73,49.01 1413.19,49.05 1413.65,49.08 1414.11,49.12 1414.56,49.15 1415.02,49.19 1415.48,49.23 1415.94,49.27 1416.39,49.30 1416.85,49.34 1417.31,49.38 1417.77,49.42 1418.22,49.46 1418.68,49.50 1419.14,49.54 1419.60,49.58 1420.05,49.63 1420.51,49.67 1420.97,49.71 1421.43,49.75 1421.88,49.80 1422.34,49.84 1422.80,49.88 1423.26,49.93 1423.71,49.97 1424.17,50.01 1424.63,50.06 1425.09,50.11 1425.54,50.15 1426.00,50.20 1426.46,50.25 1426.91,50.30 1427.37,50.35 1427.83,50.41 1428.29,50.46 1428.74,50.52 1429.20,50.57 1429.66,50.63 1430.12,50.69 1430.57,50.75 1431.03,50.82 1431.49,50.88 1431.95,50.95 1432.40,51.02 1432.86,51.09 1433.32,51.17 1433.78,51.25 1434.23,51.33 1434.69,51.41 1435.15,51.50 1435.61,51.60 1436.06,51.71 1436.52,51.83 1436.98,51.95 1437.44,52.07 1437.89,52.21 1438.35,52.34 1438.81,52.48 1439.27,52.63 1439.72,52.78 1440.18,52.93 1440.64,53.09 1441.10,53.25 1441.55,53.41 1442.01,53.57 1442.47,53.73 1442.92,53.90 1443.38,54.06 1443.84,54.23 1444.30,54.39 1444.75,54.55 1445.21,54.72 1445.67,54.88 1446.13,55.03 1446.58,55.19 1447.04,55.35 1447.50,55.51 1447.96,55.68 1448.41,55.84 1448.87,56.00 1449.33,56.17 1449.79,56.34 1450.24,56.50 1450.70,56.68 1451.16,56.85 1451.62,57.02 1452.07,57.20 1452.53,57.38 1452.99,57.57 1453.45,57.75 1453.90,57.94 1454.36,58.14 1454.82,58.33 1455.28,58.53 1455.73,58.74 1456.19,58.94 1456.65,59.16 1457.11,59.37 1457.56,59.60 1458.02,59.83 1458.48,60.08 1458.94,60.33 1459.39,60.60 1459.85,60.87 1460.31,61.14 1460.76,61.42 1461.22,61.70 1461.68,61.98 1462.14,62.27 1462.59,62.55 1463.05,62.84 1463.51,63.12 1463.97,63.40 1464.42,63.67 1464.88,63.94 1465.34,64.21 1465.80,64.48 1466.25,64.75 1466.71,65.02 1467.17,65.29 1467.63,65.56 1468.08,65.84 1468.54,66.13 1469.00,66.42 1469.46,66.71 1469.91,67.02 1470.37,67.33 1470.83,67.66 1471.29,68.00 1471.74,68.35 1472.20,68.73 1472.66,69.11 1473.12,69.51 1473.57,69.91 1474.03,70.32 1474.49,70.73 1474.95,71.15 1475.40,71.57 1475.86,71.98 1476.32,72.39 1476.77,72.80 1477.23,73.19 1477.69,73.58 1478.15,73.95 1478.60,74.34 1479.06,74.72 1479.52,75.10 1479.98,75.48 1480.43,75.86 1480.89,76.23 1481.35,76.60 1481.81,76.97 1482.26,77.33 1482.72,77.69 1483.18,78.03 1483.64,78.37 1484.09,78.70 1484.55,79.02 1485.01,79.33 1485.47,79.64 1485.92,79.94 1486.38,80.25 1486.84,80.54 1487.30,80.84 1487.75,81.13 1488.21,81.41 1488.67,81.70 1489.13,81.97 1489.58,82.25 1490.04,82.51 1490.50,82.78 1490.96,83.03 1491.41,83.29 1491.87,83.53 1492.33,83.77 1492.79,84.01 1493.24,84.24 1493.70,84.46"/><polyline points="121.40,23.87 121.86,23.69 122.31,23.53 122.77,23.37 123.23,23.22 123.69,23.08 124.14,22.94 124.60,22.81 125.06,22.69 125.52,22.57 125.97,22.47 126.43,22.36 126.89,22.27 127.35,22.18 127.80,22.10 128.26,22.02 128.72,21.95 129.18,21.88 129.63,21.82 130.09,21.77 130.55,21.72 131.01,21.68 131.46,21.64 131.92,21.61 132.38,21.58 132.84,21.55 133.29,21.53 133.75,21.52 134.21,21.51 134.67,21.50 135.12,21.50 135.58,21.51 136.04,21.55 136.50,21.60 136.95,21.67 137.41,21.76 137.87,21.87 138.33,21.99 138.78,22.12 139.24,22.27 139.70,22.42 140.15,22.58 140.61,22.75 141.07,22.92 141.53,23.10 141.98,23.28 142.44,23.45 142.90,23.63 143.36,23.80 143.81,23.97 144.27,24.13 144.73,24.28 145.19,24.43 145.64,24.56 146.10,24.68 146.56,24.79 147.02,24.88 147.47,24.95 147.93,25.01 148.39,25.04 148.85,25.05 149.30,25.05 149.76,25.04 150.22,25.03 150.68,25.02 151.13,25.00 151.59,24.99 152.05,24.96 152.51,24.94 152.96,24.91 153.42,24.88 153.88,24.84 154.34,24.81 154.79,24.77 155.25,24.73 155.71,24.68 156.16,24.64 156.62,24.59 157.08,24.54 157.54,24.49 157.99,24.44 158.45,24.38 158.91,24.33 159.37,24.27 159.82,24.22 160.28,24.16 160.74,24.10 161.20,24.04 161.65,23.99 162.11,23.93 162.57,23.87 163.03,23.80 163.48,23.73 163.94,23.64 164.40,23.55 164.86,23.44 165.31,23.33 165.77,23.21 166.23,23.08 166.69,22.95 167.14,22.82 167.60,22.68 168.06,22.53 168.52,22.39 168.97,22.24 169.43,22.09 169.89,21.94 170.35,21.80 170.80,21.65 171.26,21.51 171.72,21.37 172.18,21.23 172.63,21.10 173.09,20.98 173.55,20.86 174.00,20.74 174.46,20.64 174.92,20.54 175.38,20.46 175.83,20.38 176.29,20.32 176.75,20.26 177.21,20.20 177.66,20.14 178.12,20.08 178.58,20.02 179.04,19.97 179.49,19.91 179.95,19.86 180.41,19.80 180.87,19.75 181.32,19.70 181.78,19.65 182.24,19.60 182.70,19.55 183.15,19.50 183.61,19.46 184.07,19.42 184.53,19.38 184.98,19.34 185.44,19.31 185.90,19.28 186.36,19.25 186.81,19.22 187.27,19.20 187.73,19.18 188.19,19.16 188.64,19.15 189.10,19.14 189.56,19.14 190.02,19.13 190.47,19.14 190.93,19.16 191.39,19.19 191.84,19.22 192.30,19.27 192.76,19.33 193.22,19.39 193.67,19.47 194.13,19.55 194.59,19.63 195.05,19.72 195.50,19.82 195.96,19.91 196.42,20.02 196.88,20.12 197.33,20.23 197.79,20.33 198.25,20.44 198.71,20.55 199.16,20.65 199.62,20.76 200.08,20.86 200.54,20.96 200.99,21.05 201.45,21.14 201.91,21.23 202.37,21.31 202.82,21.38 203.28,21.44 203.74,21.50 204.20,21.55 204.65,21.61 205.11,21.66 205.57,21.72 206.03,21.77 206.48,21.83 206.94,21.88 207.40,21.93 207.85,21.99 208.31,22.04 208.77,22.09 209.23,22.14 209.68,22.19 210.14,22.24 210.60,22.29 211.06,22.34 211.51,22.38 211.97,22.42 212.43,22.46 212.89,22.49 213.34,22.53 213.80,22.56 214.26,22.59 214.72,22.61 215.17,22.63 215.63,22.65 216.09,22.67 216.55,22.68 217.00,22.68 217.46,22.68 217.92,22.68 218.38,22.67 218.83,22.65 219.29,22.63 219.75,22.60 220.21,22.56 220.66,22.52 221.12,22.48 221.58,22.43 222.04,22.38 222.49,22.32 222.95,22.27 223.41,22.21 223.87,22.15 224.32,22.09 224.78,22.03 225.24,21.98 225.69,21.92 226.15,21.86 226.61,21.81 227.07,21.76 227.52,21.71 227.98,21.66 228.44,21.62 228.90,21.59 229.35,21.56 229.81,21.53 230.27,21.52 230.73,21.50 231.18,21.50 231.64,21.50 232.10,21.50 232.56,21.50 233.01,21.50 233.47,21.50 233.93,21.50 234.39,21.50 234.84,21.50 235.30,21.50 235.76,21.50 236.22,21.50 236.67,21.50 237.13,21.50 237.59,21.50 238.05,21.50 238.50,21.50 238.96,21.50 239.42,21.50 239.88,21.50 240.33,21.50 240.79,21.50 241.25,21.50 241.70,21.50 242.16,21.50 242.62,21.50 243.08,21.50 243.53,21.50 243.99,21.50 244.45,21.50 244.91,21.50 245.36,21.50 245.82,21.50 246.28,21.50 246.74,21.50 247.19,21.50 247.65,21.50 248.11,21.50 248.57,21.50 249.02,21.50 249.48,21.50 249.94,21.50 250.40,21.50 250.85,21.50 251.31,21.50 251.77,21.50 252.23,21.50 252.68,21.50 253.14,21.50 253.60,21.50 254.06,21.50 254.51,21.50 254.97,21.50 255.43,21.50 255.89,21.50 256.34,21.50 256.80,21.50 257.26,21.50 257.72,21.50 258.17,21.50 258.63,21.50 259.09,21.49 259.54,21.44 260.00,21.37 260.46,21.27 260.92,21.15 261.37,21.01 261.83,20.85 262.29,20.67 262.75,20.48 263.20,20.27 263.66,20.06 264.12,19.83 264.58,19.60 265.03,19.37 265.49,19.13 265.95,18.90 266.41,18.66 266.86,18.43 267.32,18.21 267.78,17.99 268.24,17.79 268.69,17.60 269.15,17.42 269.61,17.26 270.07,17.12 270.52,17.00 270.98,16.90 271.44,16.83 271.90,16.78 272.35,16.77 272.81,16.77 273.27,16.79 273.73,16.81 274.18,16.85 274.64,16.89 275.10,16.94 275.56,17.00 276.01,17.06 276.47,17.13 276.93,17.21 277.38,17.29 277.84,17.38 278.30,17.47 278.76,17.56 279.21,17.66 279.67,17.76 280.13,17.86 280.59,17.96 281.04,18.07 281.50,18.17 281.96,18.28 282.42,18.38 282.87,18.49 283.33,18.59 283.79,18.69 284.25,18.78 284.70,18.88 285.16,18.97 285.62,19.05 286.08,19.13 286.53,19.21 286.99,19.30 287.45,19.38 287.91,19.47 288.36,19.56 288.82,19.66 289.28,19.76 289.74,19.85 290.19,19.95 290.65,20.05 291.11,20.15 291.57,20.26 292.02,20.36 292.48,20.46 292.94,20.56 293.39,20.67 293.85,20.77 294.31,20.87 294.77,20.97 295.22,21.06 295.68,21.16 296.14,21.25 296.60,21.34 297.05,21.43 297.51,21.51 297.97,21.59 298.43,21.67 298.88,21.74 299.34,21.81 299.80,21.88 300.26,21.94 300.71,21.99 301.17,22.04 301.63,22.08 302.09,22.12 302.54,22.15 303.00,22.18 303.46,22.20 303.92,22.21 304.37,22.21 304.83,22.21 305.29,22.20 305.75,22.20 306.20,22.19 306.66,22.17 307.12,22.16 307.58,22.14 308.03,22.12 308.49,22.09 308.95,22.07 309.41,22.04 309.86,22.02 310.32,21.99 310.78,21.96 311.23,21.93 311.69,21.90 312.15,21.87 312.61,21.84 313.06,21.81 313.52,21.78 313.98,21.75 314.44,21.72 314.89,21.69 315.35,21.67 315.81,21.64 316.27,21.62 316.72,21.60 317.18,21.57 317.64,21.56 318.10,21.54 318.55,21.53 319.01,21.52 319.47,21.51 319.93,21.50 320.38,21.50 320.84,21.51 321.30,21.54 321.76,21.59 322.21,21.65 322.67,21.72 323.13,21.81 323.59,21.91 324.04,22.02 324.50,22.13 324.96,22.26 325.42,22.39 325.87,22.52 326.33,22.65 326.79,22.79 327.25,22.92 327.70,23.06 328.16,23.22 328.62,23.40 329.07,23.58 329.53,23.79 329.99,24.00 330.45,24.22 330.90,24.46 331.36,24.70 331.82,24.95 332.28,25.20 332.73,25.45 333.19,25.71 333.65,25.97 334.11,26.24 334.56,26.51 335.02,26.79 335.48,27.10 335.94,27.42 336.39,27.74 336.85,28.08 337.31,28.42 337.77,28.76 338.22,29.10 338.68,29.44 339.14,29.77 339.60,30.09 340.05,30.40 340.51,30.69 340.97,30.97 341.43,31.23 341.88,31.49 342.34,31.75 342.80,31.99 343.26,32.24 343.71,32.48 344.17,32.71 344.63,32.94 345.08,33.17 345.54,33.39 346.00,33.62 346.46,33.84 346.91,34.05 347.37,34.27 347.83,34.48 348.29,34.70 348.74,34.91 349.20,35.12 349.66,35.34 350.12,35.54 350.57,35.75 351.03,35.95 351.49,36.15 351.95,36.34 352.40,36.53 352.86,36.72 353.32,36.91 353.78,37.10 354.23,37.28 354.69,37.47 355.15,37.65 355.61,37.84 356.06,38.02 356.52,38.21 356.98,38.40 357.44,38.59 357.89,38.78 358.35,38.97 358.81,39.17 359.27,39.37 359.72,39.58 360.18,39.78 360.64,40.00 361.10,40.21 361.55,40.44 362.01,40.67 362.47,40.91 362.92,41.17 363.38,41.44 363.84,41.71 364.30,41.99 364.75,42.27 365.21,42.56 365.67,42.85 366.13,43.14 366.58,43.42 367.04,43.70 367.50,43.98 367.96,44.25 368.41,44.51 368.87,44.77 369.33,45.01 369.79,45.24 370.24,45.45 370.70,45.64 371.16,45.83 371.62,46.01 372.07,46.18 372.53,46.34 372.99,46.50 373.45,46.66 373.90,46.81 374.36,46.96 374.82,47.10 375.28,47.24 375.73,47.37 376.19,47.51 376.65,47.64 377.11,47.77 377.56,47.90 378.02,48.02 378.48,48.15 378.93,48.27 379.39,48.40 379.85,48.53 380.31,48.65 380.76,48.78 381.22,48.91 381.68,49.05 382.14,49.18 382.59,49.32 383.05,49.46 383.51,49.60 383.97,49.75 384.42,49.91 384.88,50.06 385.34,50.22 385.80,50.38 386.25,50.55 386.71,50.71 387.17,50.88 387.63,51.05 388.08,51.22 388.54,51.39 389.00,51.57 389.46,51.74 389.91,51.92 390.37,52.09 390.83,52.27 391.29,52.44 391.74,52.62 392.20,52.79 392.66,52.97 393.12,53.14 393.57,53.32 394.03,53.49 394.49,53.66 394.95,53.83 395.40,54.00 395.86,54.17 396.32,54.33 396.77,54.50 397.23,54.66 397.69,54.83 398.15,55.00 398.60,55.17 399.06,55.33 399.52,55.50 399.98,55.67 400.43,55.83 400.89,56.00 401.35,56.16 401.81,56.33 402.26,56.49 402.72,56.65 403.18,56.82 403.64,56.97 404.09,57.13 404.55,57.29 405.01,57.44 405.47,57.60 405.92,57.75 406.38,57.90 406.84,58.04 407.30,58.19 407.75,58.33 408.21,58.46 408.67,58.59 409.13,58.72 409.58,58.84 410.04,58.96 410.50,59.08 410.96,59.20 411.41,59.31 411.87,59.43 412.33,59.55 412.79,59.67 413.24,59.79 413.70,59.92 414.16,60.05 414.61,60.18 415.07,60.33 415.53,60.47 415.99,60.63 416.44,60.79 416.90,60.97 417.36,61.15 417.82,61.35 418.27,61.55 418.73,61.77 419.19,61.99 419.65,62.22 420.10,62.46 420.56,62.70 421.02,62.95 421.48,63.20 421.93,63.45 422.39,63.71 422.85,63.97 423.31,64.23 423.76,64.49 424.22,64.75 424.68,65.01 425.14,65.27 425.59,65.53 426.05,65.78 426.51,66.05 426.97,66.32 427.42,66.59 427.88,66.87 428.34,67.15 428.80,67.43 429.25,67.72 429.71,68.01 430.17,68.30 430.62,68.59 431.08,68.88 431.54,69.17 432.00,69.46 432.45,69.75 432.91,70.03 433.37,70.32 433.83,70.59 434.28,70.87 434.74,71.14 435.20,71.40 435.66,71.66 436.11,71.91 436.57,72.16 437.03,72.39 437.49,72.62 437.94,72.86 438.40,73.09 438.86,73.32 439.32,73.55 439.77,73.77 440.23,73.99 440.69,74.20 441.15,74.41 441.60,74.61 442.06,74.80 442.52,74.98 442.98,75.16 443.43,75.32 443.89,75.47 444.35,75.61 444.81,75.73 445.26,75.84 445.72,75.95 446.18,76.05 446.64,76.15 447.09,76.24 447.55,76.33 448.01,76.42 448.46,76.52 448.92,76.62 449.38,76.73 449.84,76.85 450.29,76.98 450.75,77.13 451.21,77.28 451.67,77.44 452.12,77.62 452.58,77.80 453.04,78.00 453.50,78.20 453.95,78.42 454.41,78.65 454.87,78.90 455.33,79.16 455.78,79.43 456.24,79.72 456.70,80.02 457.16,80.34 457.61,80.68 458.07,81.05 458.53,81.47 458.99,81.95 459.44,82.47 459.90,83.03 460.36,83.63 460.82,84.26 461.27,84.93 461.73,85.62 462.19,86.34 462.65,87.07 463.10,87.82 463.56,88.59 464.02,89.36 464.48,90.14 464.93,90.92 465.39,91.69 465.85,92.47 466.30,93.25 466.76,94.06 467.22,94.91 467.68,95.80 468.13,96.73 468.59,97.73 469.05,98.80 469.51,99.95 469.96,101.19 470.42,102.52 470.88,103.97 471.34,105.53 471.79,107.38 472.25,109.67 472.71,112.36 473.17,115.41 473.62,118.80 474.08,122.50 474.54,126.47 475.00,130.67 475.45,135.08 475.91,139.66 476.37,144.38 476.83,149.20 477.28,154.10 477.74,159.04 478.20,163.99 478.66,168.84 479.11,173.55 479.57,178.21 480.03,182.93 480.49,187.80 480.94,192.91 481.40,198.35 481.86,204.23 482.31,210.63 482.77,217.64 483.23,225.37 483.69,233.91 484.14,243.35 484.60,253.78 485.06,265.30 485.52,283.19 485.97,309.58 486.43,339.86 486.89,369.45 487.35,398.93 487.80,430.23 488.26,460.73 488.72,487.80 489.18,513.66 489.63,540.94 490.09,567.68 490.55,591.91 491.01,611.66 491.46,624.95 491.92,629.82 492.38,621.06 492.84,598.41 493.29,567.27 493.75,533.05 494.21,501.17 494.67,475.40 495.12,449.54 495.58,422.85 496.04,396.01 496.50,369.73 496.95,344.72 497.41,321.66 497.87,301.26 498.33,284.21 498.78,271.22 499.24,260.82 499.70,251.05 500.15,241.89 500.61,233.32 501.07,225.32 501.53,217.87 501.98,210.94 502.44,204.50 502.90,198.55 503.36,193.05 503.81,187.98 504.27,183.32 504.73,179.04 505.19,175.14 505.64,171.57 506.10,168.31 506.56,165.31 507.02,162.54 507.47,159.98 507.93,157.60 508.39,155.36 508.85,153.25 509.30,151.22 509.76,149.26 510.22,147.34 510.68,145.42 511.13,143.48 511.59,141.49 512.05,139.42 512.51,137.25 512.96,135.00 513.42,132.74 513.88,130.48 514.34,128.21 514.79,125.95 515.25,123.69 515.71,121.44 516.16,119.21 516.62,116.99 517.08,114.80 517.54,112.64 517.99,110.51 518.45,108.41 518.91,106.36 519.37,104.35 519.82,102.34 520.28,100.31 520.74,98.27 521.20,96.22 521.65,94.18 522.11,92.17 522.57,90.19 523.03,88.25 523.48,86.38 523.94,84.59 524.40,82.87 524.86,81.26 525.31,79.75 525.77,78.37 526.23,77.13 526.69,75.99 527.14,74.93 527.60,73.93 528.06,72.99 528.52,72.11 528.97,71.26 529.43,70.44 529.89,69.65 530.35,68.87 530.80,68.11 531.26,67.34 531.72,66.56 532.18,65.77 532.63,64.96 533.09,64.11 533.55,63.24 534.00,62.37 534.46,61.51 534.92,60.64 535.38,59.78 535.83,58.91 536.29,58.05 536.75,57.18 537.21,56.31 537.66,55.45 538.12,54.58 538.58,53.71 539.04,52.84 539.49,51.96 539.95,51.09 540.41,50.19 540.87,49.27 541.32,48.32 541.78,47.35 542.24,46.38 542.70,45.40 543.15,44.43 543.61,43.47 544.07,42.54 544.53,41.64 544.98,40.77 545.44,39.95 545.90,39.18 546.36,38.47 546.81,37.83 547.27,37.24 547.73,36.66 548.19,36.10 548.64,35.56 549.10,35.03 549.56,34.53 550.02,34.05 550.47,33.58 550.93,33.14 551.39,32.72 551.84,32.32 552.30,31.95 552.76,31.60 553.22,31.27 553.67,30.97 554.13,30.68 554.59,30.41 555.05,30.14 555.50,29.88 555.96,29.63 556.42,29.38 556.88,29.15 557.33,28.92 557.79,28.69 558.25,28.47 558.71,28.26 559.16,28.05 559.62,27.85 560.08,27.66 560.54,27.47 560.99,27.28 561.45,27.10 561.91,26.92 562.37,26.75 562.82,26.58 563.28,26.42 563.74,26.26 564.20,26.10 564.65,25.94 565.11,25.79 565.57,25.64 566.03,25.49 566.48,25.34 566.94,25.20 567.40,25.05 567.85,24.91 568.31,24.76 568.77,24.62 569.23,24.47 569.68,24.33 570.14,24.18 570.60,24.04 571.06,23.89 571.51,23.75 571.97,23.60 572.43,23.46 572.89,23.32 573.34,23.18 573.80,23.03 574.26,22.89 574.72,22.76 575.17,22.62 575.63,22.48 576.09,22.35 576.55,22.21 577.00,22.08 577.46,21.95 577.92,21.83 578.38,21.70 578.83,21.58 579.29,21.46 579.75,21.34 580.21,21.23 580.66,21.12 581.12,21.01 581.58,20.90 582.04,20.80 582.49,20.70 582.95,20.60 583.41,20.51 583.87,20.42 584.32,20.33 584.78,20.25 585.24,20.17 585.69,20.10 586.15,20.03 586.61,19.96 587.07,19.90 587.52,19.84 587.98,19.79 588.44,19.74 588.90,19.70 589.35,19.67 589.81,19.63 590.27,19.61 590.73,19.58 591.18,19.56 591.64,19.54 592.10,19.52 592.56,19.50 593.01,19.48 593.47,19.46 593.93,19.44 594.39,19.42 594.84,19.40 595.30,19.38 595.76,19.36 596.22,19.35 596.67,19.33 597.13,19.31 597.59,19.30 598.05,19.28 598.50,19.27 598.96,19.25 599.42,19.24 599.88,19.23 600.33,19.21 600.79,19.20 601.25,19.19 601.71,19.17 602.16,19.16 602.62,19.15 603.08,19.14 603.53,19.13 603.99,19.12 604.45,19.11 604.91,19.10 605.36,19.09 605.82,19.08 606.28,19.07 606.74,19.06 607.19,19.05 607.65,19.04 608.11,19.03 608.57,19.02 609.02,19.01 609.48,19.00 609.94,18.99 610.40,18.98 610.85,18.97 611.31,18.96 611.77,18.96 612.23,18.95 612.68,18.94 613.14,18.93 613.60,18.92 614.06,18.91 614.51,18.90 614.97,18.89 615.43,18.88 615.89,18.87 616.34,18.87 616.80,18.86 617.26,18.85 617.72,18.84 618.17,18.83 618.63,18.82 619.09,18.81 619.54,18.80 620.00,18.78 620.46,18.77 620.92,18.76 621.37,18.75 621.83,18.74 622.29,18.73 622.75,18.71 623.20,18.70 623.66,18.69 624.12,18.67 624.58,18.66 625.03,18.65 625.49,18.63 625.95,18.62 626.41,18.60 626.86,18.58 627.32,18.57 627.78,18.55 628.24,18.53 628.69,18.52 629.15,18.50 629.61,18.48 630.07,18.46 630.52,18.44 630.98,18.42 631.44,18.40 631.90,18.38 632.35,18.36 632.81,18.34 633.27,18.32 633.73,18.30 634.18,18.28 634.64,18.26 635.10,18.24 635.56,18.22 636.01,18.20 636.47,18.18 636.93,18.16 637.38,18.13 637.84,18.11 638.30,18.09 638.76,18.07 639.21,18.05 639.67,18.03 640.13,18.01 640.59,17.99 641.04,17.97 641.50,17.95 641.96,17.93 642.42,17.91 642.87,17.89 643.33,17.87 643.79,17.85 644.25,17.83 644.70,17.81 645.16,17.79 645.62,17.77 646.08,17.76 646.53,17.74 646.99,17.72 647.45,17.71 647.91,17.69 648.36,17.67 648.82,17.66 649.28,17.64 649.74,17.63 650.19,17.62 650.65,17.60 651.11,17.59 651.57,17.58 652.02,17.57 652.48,17.56 652.94,17.55 653.39,17.54 653.85,17.53 654.31,17.52 654.77,17.51 655.22,17.50 655.68,17.50 656.14,17.49 656.60,17.49 657.05,17.48 657.51,17.48 657.97,17.48 658.43,17.48 658.88,17.48 659.34,17.48 659.80,17.48 660.26,17.48 660.71,17.48 661.17,17.48 661.63,17.49 662.09,17.49 662.54,17.49 663.00,17.50 663.46,17.50 663.92,17.50 664.37,17.51 664.83,17.51 665.29,17.52 665.75,17.53 666.20,17.53 666.66,17.54 667.12,17.55 667.58,17.55 668.03,17.56 668.49,17.57 668.95,17.58 669.41,17.58 669.86,17.59 670.32,17.60 670.78,17.61 671.23,17.62 671.69,17.63 672.15,17.63 672.61,17.64 673.06,17.65 673.52,17.66 673.98,17.67 674.44,17.68 674.89,17.69 675.35,17.70 675.81,17.71 676.27,17.72 676.72,17.73 677.18,17.74 677.64,17.75 678.10,17.76 678.55,17.77 679.01,17.77 679.47,17.78 679.93,17.79 680.38,17.80 680.84,17.81 681.30,17.82 681.76,17.83 682.21,17.84 682.67,17.84 683.13,17.85 683.59,17.86 684.04,17.87 684.50,17.87 684.96,17.88 685.42,17.89 685.87,17.90 686.33,17.90 686.79,17.91 687.25,17.91 687.70,17.92 688.16,17.92 688.62,17.93 689.07,17.93 689.53,17.94 689.99,17.94 690.45,17.94 690.90,17.94 691.36,17.95 691.82,17.95 692.28,17.95 692.73,17.95 693.19,17.95 693.65,17.95 694.11,17.95 694.56,17.95 695.02,17.95 695.48,17.95 695.94,17.95 696.39,17.95 696.85,17.95 697.31,17.95 697.77,17.95 698.22,17.95 698.68,17.95 699.14,17.95 699.60,17.95 700.05,17.95 700.51,17.95 700.97,17.95 701.43,17.95 701.88,17.95 702.34,17.95 702.80,17.95 703.26,17.95 703.71,17.95 704.17,17.95 704.63,17.95 705.08,17.95 705.54,17.95 706.00,17.95 706.46,17.95 706.91,17.95 707.37,17.95 707.83,17.95 708.29,17.95 708.74,17.95 709.20,17.95 709.66,17.95 710.12,17.95 710.57,17.95 711.03,17.95 711.49,17.95 711.95,17.95 712.40,17.95 712.86,17.95 713.32,17.95 713.78,17.95 714.23,17.95 714.69,17.95 715.15,17.95 715.61,17.95 716.06,17.95 716.52,17.95 716.98,17.95 717.44,17.95 717.89,17.95 718.35,17.95 718.81,17.95 719.27,17.95 719.72,17.95 720.18,17.95 720.64,17.95 721.10,17.95 721.55,17.95 722.01,17.95 722.47,17.95 722.92,17.95 723.38,17.95 723.84,17.95 724.30,17.95 724.75,17.95 725.21,17.95 725.67,17.95 726.13,17.95 726.58,17.95 727.04,17.95 727.50,17.95 727.96,17.95 728.41,17.95 728.87,17.95 729.33,17.95 729.79,17.95 730.24,17.95 730.70,17.95 731.16,17.95 731.62,17.95 732.07,17.95 732.53,17.95 732.99,17.95 733.45,17.95 733.90,17.95 734.36,17.95 734.82,17.95 735.28,17.95 735.73,17.95 736.19,17.95 736.65,17.95 737.11,17.95 737.56,17.95 738.02,17.95 738.48,17.95 738.94,17.95 739.39,17.95 739.85,17.95 740.31,17.95 740.76,17.95 741.22,17.95 741.68,17.95 742.14,17.95 742.59,17.95 743.05,17.95 743.51,17.95 743.97,17.95 744.42,17.95 744.88,17.95 745.34,17.95 745.80,17.95 746.25,17.95 746.71,17.95 747.17,17.95 747.63,17.95 748.08,17.95 748.54,17.95 749.00,17.95 749.46,17.95 749.91,17.95 750.37,17.95 750.83,17.95 751.29,17.95 751.74,17.95 752.20,17.95 752.66,17.95 753.12,17.95 753.57,17.95 754.03,17.95 754.49,17.95 754.95,17.95 755.40,17.95 755.86,17.95 756.32,17.95 756.77,17.95 757.23,17.95 757.69,17.95 758.15,17.95 758.60,17.95 759.06,17.95 759.52,17.95 759.98,17.95 760.43,17.95 760.89,17.95 761.35,17.95 761.81,17.95 762.26,17.95 762.72,17.96 763.18,17.97 763.64,17.98 764.09,18.00 764.55,18.02 765.01,18.04 765.47,18.07 765.92,18.09 766.38,18.12 766.84,18.15 767.30,18.19 767.75,18.22 768.21,18.26 768.67,18.29 769.13,18.33 769.58,18.37 770.04,18.41 770.50,18.45 770.96,18.48 771.41,18.52 771.87,18.56 772.33,18.59 772.79,18.63 773.24,18.66 773.70,18.69 774.16,18.73 774.61,18.76 775.07,18.80 775.53,18.83 775.99,18.87 776.44,18.91 776.90,18.95 777.36,18.98 777.82,19.02 778.27,19.06 778.73,19.10 779.19,19.14 779.65,19.18 780.10,19.22 780.56,19.26 781.02,19.30 781.48,19.34 781.93,19.38 782.39,19.42 782.85,19.46 783.31,19.50 783.76,19.53 784.22,19.57 784.68,19.61 785.14,19.64 785.59,19.68 786.05,19.71 786.51,19.75 786.97,19.78 787.42,19.82 787.88,19.85 788.34,19.88 788.80,19.92 789.25,19.95 789.71,19.99 790.17,20.02 790.62,20.05 791.08,20.09 791.54,20.13 792.00,20.16 792.45,20.20 792.91,20.24 793.37,20.28 793.83,20.32 794.28,20.36 794.74,20.40 795.20,20.44 795.66,20.49 796.11,20.53 796.57,20.58 797.03,20.62 797.49,20.67 797.94,20.72 798.40,20.77 798.86,20.82 799.32,20.87 799.77,20.92 800.23,20.97 800.69,21.03 801.15,21.08 801.60,21.14 802.06,21.19 802.52,21.25 802.98,21.31 803.43,21.37 803.89,21.43 804.35,21.49 804.81,21.56 805.26,21.62 805.72,21.69 806.18,21.76 806.64,21.83 807.09,21.90 807.55,21.97 808.01,22.05 808.46,22.13 808.92,22.22 809.38,22.31 809.84,22.40 810.29,22.49 810.75,22.59 811.21,22.68 811.67,22.78 812.12,22.88 812.58,22.99 813.04,23.09 813.50,23.19 813.95,23.29 814.41,23.39 814.87,23.50 815.33,23.60 815.78,23.71 816.24,23.82 816.70,23.93 817.16,24.04 817.61,24.15 818.07,24.26 818.53,24.38 818.99,24.49 819.44,24.60 819.90,24.72 820.36,24.83 820.82,24.94 821.27,25.05 821.73,25.16 822.19,25.27 822.65,25.39 823.10,25.50 823.56,25.61 824.02,25.73 824.48,25.84 824.93,25.95 825.39,26.06 825.85,26.17 826.30,26.28 826.76,26.39 827.22,26.50 827.68,26.61 828.13,26.71 828.59,26.81 829.05,26.91 829.51,27.01 829.96,27.10 830.42,27.20 830.88,27.29 831.34,27.39 831.79,27.48 832.25,27.57 832.71,27.66 833.17,27.76 833.62,27.85 834.08,27.94 834.54,28.03 835.00,28.13 835.45,28.22 835.91,28.31 836.37,28.40 836.83,28.49 837.28,28.58 837.74,28.67 838.20,28.76 838.66,28.85 839.11,28.94 839.57,29.03 840.03,29.13 840.49,29.23 840.94,29.33 841.40,29.44 841.86,29.55 842.31,29.67 842.77,29.79 843.23,29.92 843.69,30.06 844.14,30.20 844.60,30.34 845.06,30.49 845.52,30.64 845.97,30.79 846.43,30.94 846.89,31.09 847.35,31.24 847.80,31.39 848.26,31.54 848.72,31.68 849.18,31.82 849.63,31.96 850.09,32.11 850.55,32.25 851.01,32.39 851.46,32.53 851.92,32.67 852.38,32.82 852.84,32.96 853.29,33.10 853.75,33.24 854.21,33.38 854.67,33.53 855.12,33.67 855.58,33.81 856.04,33.95 856.50,34.09 856.95,34.24 857.41,34.38 857.87,34.52 858.33,34.66 858.78,34.80 859.24,34.95 859.70,35.09 860.15,35.23 860.61,35.37 861.07,35.51 861.53,35.66 861.98,35.80 862.44,35.94 862.90,36.08 863.36,36.22 863.81,36.36 864.27,36.50 864.73,36.63 865.19,36.77 865.64,36.91 866.10,37.05 866.56,37.19 867.02,37.33 867.47,37.47 867.93,37.62 868.39,37.76 868.85,37.92 869.30,38.07 869.76,38.23 870.22,38.39 870.68,38.55 871.13,38.71 871.59,38.88 872.05,39.04 872.51,39.21 872.96,39.39 873.42,39.56 873.88,39.74 874.34,39.92 874.79,40.10 875.25,40.29 875.71,40.48 876.17,40.67 876.62,40.87 877.08,41.07 877.54,41.28 877.99,41.49 878.45,41.70 878.91,41.92 879.37,42.14 879.82,42.37 880.28,42.59 880.74,42.82 881.20,43.05 881.65,43.28 882.11,43.52 882.57,43.75 883.03,43.99 883.48,44.22 883.94,44.47 884.40,44.71 884.86,44.96 885.31,45.20 885.77,45.46 886.23,45.71 886.69,45.96 887.14,46.22 887.60,46.48 888.06,46.74 888.52,46.99 888.97,47.25 889.43,47.51 889.89,47.77 890.35,48.04 890.80,48.30 891.26,48.57 891.72,48.84 892.18,49.12 892.63,49.39 893.09,49.67 893.55,49.94 894.00,50.21 894.46,50.49 894.92,50.76 895.38,51.02 895.83,51.29 896.29,51.54 896.75,51.80 897.21,52.05 897.66,52.30 898.12,52.54 898.58,52.78 899.04,53.02 899.49,53.26 899.95,53.50 900.41,53.73 900.87,53.97 901.32,54.20 901.78,54.43 902.24,54.66 902.70,54.89 903.15,55.12 903.61,55.35 904.07,55.58 904.53,55.80 904.98,56.03 905.44,56.26 905.90,56.48 906.36,56.70 906.81,56.92 907.27,57.15 907.73,57.37 908.19,57.58 908.64,57.80 909.10,58.02 909.56,58.24 910.02,58.45 910.47,58.66 910.93,58.87 911.39,59.08 911.84,59.29 912.30,59.49 912.76,59.69 913.22,59.89 913.67,60.09 914.13,60.29 914.59,60.49 915.05,60.69 915.50,60.89 915.96,61.10 916.42,61.31 916.88,61.52 917.33,61.74 917.79,61.96 918.25,62.18 918.71,62.40 919.16,62.63 919.62,62.85 920.08,63.08 920.54,63.31 920.99,63.55 921.45,63.79 921.91,64.03 922.37,64.27 922.82,64.52 923.28,64.77 923.74,65.03 924.20,65.29 924.65,65.56 925.11,65.83 925.57,66.12 926.03,66.40 926.48,66.69 926.94,66.99 927.40,67.29 927.85,67.60 928.31,67.91 928.77,68.22 929.23,68.53 929.68,68.84 930.14,69.16 930.60,69.47 931.06,69.79 931.51,70.10 931.97,70.42 932.43,70.74 932.89,71.06 933.34,71.38 933.80,71.70 934.26,72.02 934.72,72.35 935.17,72.68 935.63,73.02 936.09,73.36 936.55,73.70 937.00,74.05 937.46,74.40 937.92,74.76 938.38,75.12 938.83,75.50 939.29,75.88 939.75,76.26 940.21,76.65 940.66,77.05 941.12,77.45 941.58,77.85 942.04,78.26 942.49,78.67 942.95,79.07 943.41,79.48 943.87,79.88 944.32,80.28 944.78,80.68 945.24,81.07 945.69,81.48 946.15,81.88 946.61,82.29 947.07,82.70 947.52,83.11 947.98,83.51 948.44,83.92 948.90,84.32 949.35,84.72 949.81,85.11 950.27,85.49 950.73,85.87 951.18,86.24 951.64,86.59 952.10,86.94 952.56,87.26 953.01,87.57 953.47,87.88 953.93,88.17 954.39,88.46 954.84,88.75 955.30,89.04 955.76,89.34 956.22,89.64 956.67,89.95 957.13,90.27 957.59,90.60 958.05,90.95 958.50,91.33 958.96,91.73 959.42,92.16 959.88,92.62 960.33,93.10 960.79,93.60 961.25,94.11 961.71,94.63 962.16,95.16 962.62,95.69 963.08,96.22 963.53,96.74 963.99,97.25 964.45,97.74 964.91,98.22 965.36,98.67 965.82,99.09 966.28,99.50 966.74,99.90 967.19,100.28 967.65,100.66 968.11,101.03 968.57,101.40 969.02,101.76 969.48,102.13 969.94,102.51 970.40,102.90 970.85,103.29 971.31,103.70 971.77,104.13 972.23,104.58 972.68,105.06 973.14,105.56 973.60,106.08 974.06,106.63 974.51,107.19 974.97,107.76 975.43,108.34 975.89,108.93 976.34,109.51 976.80,110.10 977.26,110.68 977.72,111.25 978.17,111.81 978.63,112.35 979.09,112.87 979.54,113.37 980.00,113.87 980.46,114.35 980.92,114.83 981.37,115.31 981.83,115.78 982.29,116.24 982.75,116.70 983.20,117.16 983.66,117.62 984.12,118.09 984.58,118.55 985.03,119.02 985.49,119.49 985.95,119.97 986.41,120.45 986.86,120.92 987.32,121.38 987.78,121.84 988.24,122.30 988.69,122.77 989.15,123.23 989.61,123.70 990.07,124.18 990.52,124.66 990.98,125.16 991.44,125.67 991.90,126.20 992.35,126.74 992.81,127.31 993.27,127.90 993.73,128.54 994.18,129.21 994.64,129.91 995.10,130.62 995.56,131.34 996.01,132.06 996.47,132.76 996.93,133.44 997.38,134.09 997.84,134.71 998.30,135.30 998.76,135.87 999.21,136.42 999.67,136.97 1000.13,137.51 1000.59,138.05 1001.04,138.60 1001.50,139.15 1001.96,139.73 1002.42,140.32 1002.87,140.95 1003.33,141.60 1003.79,142.27 1004.25,142.95 1004.70,143.63 1005.16,144.31 1005.62,144.97 1006.08,145.62 1006.53,146.24 1006.99,146.84 1007.45,147.42 1007.91,147.98 1008.36,148.54 1008.82,149.08 1009.28,149.62 1009.74,150.15 1010.19,150.68 1010.65,151.21 1011.11,151.74 1011.57,152.28 1012.02,152.82 1012.48,153.38 1012.94,153.95 1013.40,154.53 1013.85,155.12 1014.31,155.72 1014.77,156.34 1015.22,156.95 1015.68,157.58 1016.14,158.21 1016.60,158.85 1017.05,159.49 1017.51,160.13 1017.97,160.77 1018.43,161.42 1018.88,162.07 1019.34,162.71 1019.80,163.35 1020.26,163.99 1020.71,164.62 1021.17,165.24 1021.63,165.85 1022.09,166.44 1022.54,167.04 1023.00,167.63 1023.46,168.24 1023.92,168.85 1024.37,169.47 1024.83,170.11 1025.29,170.77 1025.75,171.46 1026.20,172.17 1026.66,172.92 1027.12,173.70 1027.58,174.54 1028.03,175.44 1028.49,176.41 1028.95,177.43 1029.41,178.48 1029.86,179.58 1030.32,180.69 1030.78,181.83 1031.23,182.97 1031.69,184.12 1032.15,185.26 1032.61,186.38 1033.06,187.47 1033.52,188.54 1033.98,189.56 1034.44,190.54 1034.89,191.49 1035.35,192.42 1035.81,193.33 1036.27,194.22 1036.72,195.11 1037.18,196.00 1037.64,196.89 1038.10,197.79 1038.55,198.71 1039.01,199.65 1039.47,200.62 1039.93,201.63 1040.38,202.67 1040.84,203.76 1041.30,204.91 1041.76,206.11 1042.21,207.37 1042.67,208.67 1043.13,210.01 1043.59,211.38 1044.04,212.78 1044.50,214.20 1044.96,215.63 1045.42,217.06 1045.87,218.50 1046.33,219.93 1046.79,221.35 1047.25,222.74 1047.70,224.12 1048.16,225.47 1048.62,226.81 1049.07,228.16 1049.53,229.49 1049.99,230.83 1050.45,232.16 1050.90,233.50 1051.36,234.84 1051.82,236.18 1052.28,237.54 1052.73,238.90 1053.19,240.27 1053.65,241.66 1054.11,243.06 1054.56,244.47 1055.02,245.90 1055.48,247.33 1055.94,248.78 1056.39,250.23 1056.85,251.69 1057.31,253.16 1057.77,254.64 1058.22,256.13 1058.68,257.63 1059.14,259.15 1059.60,260.68 1060.05,262.23 1060.51,263.79 1060.97,265.37 1061.43,266.96 1061.88,268.57 1062.34,270.19 1062.80,271.82 1063.26,273.47 1063.71,275.13 1064.17,276.81 1064.63,278.50 1065.08,280.21 1065.54,281.94 1066.00,283.69 1066.46,285.46 1066.91,287.25 1067.37,289.06 1067.83,290.90 1068.29,292.76 1068.74,294.64 1069.20,296.55 1069.66,298.48 1070.12,300.44 1070.57,302.42 1071.03,304.43 1071.49,306.46 1071.95,308.51 1072.40,310.59 1072.86,312.69 1073.32,314.81 1073.78,316.96 1074.23,319.13 1074.69,321.32 1075.15,323.53 1075.61,325.77 1076.06,328.03 1076.52,330.32 1076.98,332.64 1077.44,334.98 1077.89,337.35 1078.35,339.74 1078.81,342.17 1079.27,344.63 1079.72,347.11 1080.18,349.62 1080.64,352.17 1081.10,354.74 1081.55,357.35 1082.01,359.98 1082.47,362.65 1082.92,365.34 1083.38,368.07 1083.84,370.83 1084.30,373.63 1084.75,376.46 1085.21,379.32 1085.67,382.23 1086.13,385.17 1086.58,388.16 1087.04,391.19 1087.50,394.27 1087.96,397.39 1088.41,400.55 1088.87,403.77 1089.33,407.06 1089.79,410.45 1090.24,413.93 1090.70,417.47 1091.16,421.09 1091.62,424.75 1092.07,428.46 1092.53,432.20 1092.99,435.97 1093.45,439.75 1093.90,443.53 1094.36,447.30 1094.82,451.05 1095.28,454.77 1095.73,458.45 1096.19,462.07 1096.65,465.63 1097.11,469.17 1097.56,472.72 1098.02,476.33 1098.48,480.02 1098.94,483.83 1099.39,487.80 1099.85,492.07 1100.31,496.73 1100.76,501.73 1101.22,507.06 1101.68,512.66 1102.14,518.49 1102.59,524.53 1103.05,530.72 1103.51,537.03 1103.97,543.43 1104.42,549.87 1104.88,556.32 1105.34,562.74 1105.80,569.09 1106.25,575.33 1106.71,581.42 1107.17,587.32 1107.63,593.00 1108.08,598.42 1108.54,603.54 1109.00,608.32 1109.46,612.72 1109.91,616.71 1110.37,620.24 1110.83,623.28 1111.29,625.78 1111.74,627.72 1112.20,629.05 1112.66,629.73 1113.12,629.74 1113.57,629.11 1114.03,627.89 1114.49,626.09 1114.95,623.77 1115.40,620.94 1115.86,617.64 1116.32,613.90 1116.77,609.76 1117.23,605.24 1117.69,600.38 1118.15,595.21 1118.60,589.75 1119.06,584.05 1119.52,578.14 1119.98,572.04 1120.43,565.79 1120.89,559.42 1121.35,552.96 1121.81,546.44 1122.26,539.90 1122.72,533.36 1123.18,526.87 1123.64,520.44 1124.09,514.12 1124.55,507.94 1125.01,501.92 1125.47,496.09 1125.92,490.50 1126.38,485.08 1126.84,479.37 1127.30,473.40 1127.75,467.30 1128.21,461.21 1128.67,455.25 1129.13,449.56 1129.58,444.27 1130.04,439.51 1130.50,435.15 1130.96,430.97 1131.41,426.96 1131.87,423.09 1132.33,419.36 1132.79,415.75 1133.24,412.25 1133.70,408.85 1134.16,405.53 1134.61,402.27 1135.07,399.06 1135.53,395.90 1135.99,392.76 1136.44,389.63 1136.90,386.49 1137.36,383.38 1137.82,380.31 1138.27,377.29 1138.73,374.31 1139.19,371.38 1139.65,368.49 1140.10,365.64 1140.56,362.83 1141.02,360.06 1141.48,357.32 1141.93,354.62 1142.39,351.95 1142.85,349.31 1143.31,346.70 1143.76,344.12 1144.22,341.57 1144.68,339.05 1145.14,336.55 1145.59,334.09 1146.05,331.65 1146.51,329.24 1146.97,326.86 1147.42,324.51 1147.88,322.19 1148.34,319.89 1148.80,317.63 1149.25,315.39 1149.71,313.18 1150.17,311.01 1150.63,308.85 1151.08,306.73 1151.54,304.64 1152.00,302.57 1152.45,300.53 1152.91,298.51 1153.37,296.52 1153.83,294.55 1154.28,292.60 1154.74,290.68 1155.20,288.77 1155.66,286.88 1156.11,285.01 1156.57,283.16 1157.03,281.32 1157.49,279.50 1157.94,277.70 1158.40,275.91 1158.86,274.14 1159.32,272.38 1159.77,270.64 1160.23,268.92 1160.69,267.22 1161.15,265.53 1161.60,263.85 1162.06,262.20 1162.52,260.56 1162.98,258.94 1163.43,257.33 1163.89,255.75 1164.35,254.18 1164.81,252.63 1165.26,251.10 1165.72,249.59 1166.18,248.10 1166.64,246.63 1167.09,245.17 1167.55,243.73 1168.01,242.29 1168.46,240.87 1168.92,239.45 1169.38,238.03 1169.84,236.63 1170.29,235.22 1170.75,233.81 1171.21,232.40 1171.67,230.98 1172.12,229.56 1172.58,228.12 1173.04,226.69 1173.50,225.25 1173.95,223.82 1174.41,222.40 1174.87,221.00 1175.33,219.60 1175.78,218.23 1176.24,216.89 1176.70,215.57 1177.16,214.28 1177.61,213.02 1178.07,211.81 1178.53,210.63 1178.99,209.48 1179.44,208.36 1179.90,207.27 1180.36,206.20 1180.82,205.14 1181.27,204.11 1181.73,203.08 1182.19,202.06 1182.65,201.05 1183.10,200.04 1183.56,199.02 1184.02,198.01 1184.48,196.98 1184.93,195.95 1185.39,194.91 1185.85,193.86 1186.30,192.82 1186.76,191.77 1187.22,190.73 1187.68,189.69 1188.13,188.65 1188.59,187.62 1189.05,186.59 1189.51,185.56 1189.96,184.55 1190.42,183.54 1190.88,182.54 1191.34,181.54 1191.79,180.56 1192.25,179.59 1192.71,178.62 1193.17,177.66 1193.62,176.70 1194.08,175.75 1194.54,174.81 1195.00,173.87 1195.45,172.94 1195.91,172.01 1196.37,171.09 1196.83,170.18 1197.28,169.27 1197.74,168.37 1198.20,167.48 1198.66,166.60 1199.11,165.72 1199.57,164.84 1200.03,163.97 1200.49,163.10 1200.94,162.24 1201.40,161.38 1201.86,160.54 1202.31,159.69 1202.77,158.86 1203.23,158.03 1203.69,157.22 1204.14,156.41 1204.60,155.61 1205.06,154.83 1205.52,154.05 1205.97,153.29 1206.43,152.53 1206.89,151.77 1207.35,151.02 1207.80,150.28 1208.26,149.54 1208.72,148.81 1209.18,148.09 1209.63,147.39 1210.09,146.69 1210.55,146.01 1211.01,145.33 1211.46,144.67 1211.92,144.03 1212.38,143.40 1212.84,142.79 1213.29,142.20 1213.75,141.63 1214.21,141.07 1214.67,140.53 1215.12,139.99 1215.58,139.46 1216.04,138.94 1216.50,138.41 1216.95,137.88 1217.41,137.35 1217.87,136.81 1218.33,136.26 1218.78,135.70 1219.24,135.12 1219.70,134.52 1220.15,133.90 1220.61,133.27 1221.07,132.62 1221.53,131.97 1221.98,131.31 1222.44,130.64 1222.90,129.98 1223.36,129.32 1223.81,128.67 1224.27,128.03 1224.73,127.41 1225.19,126.80 1225.64,126.21 1226.10,125.65 1226.56,125.11 1227.02,124.58 1227.47,124.06 1227.93,123.55 1228.39,123.06 1228.85,122.57 1229.30,122.09 1229.76,121.61 1230.22,121.14 1230.68,120.67 1231.13,120.20 1231.59,119.73 1232.05,119.26 1232.51,118.79 1232.96,118.31 1233.42,117.83 1233.88,117.35 1234.34,116.88 1234.79,116.40 1235.25,115.93 1235.71,115.45 1236.17,114.98 1236.62,114.51 1237.08,114.04 1237.54,113.57 1237.99,113.10 1238.45,112.63 1238.91,112.16 1239.37,111.68 1239.82,111.21 1240.28,110.73 1240.74,110.24 1241.20,109.74 1241.65,109.24 1242.11,108.74 1242.57,108.23 1243.03,107.73 1243.48,107.23 1243.94,106.75 1244.40,106.27 1244.86,105.80 1245.31,105.35 1245.77,104.91 1246.23,104.50 1246.69,104.11 1247.14,103.74 1247.60,103.39 1248.06,103.06 1248.52,102.74 1248.97,102.44 1249.43,102.14 1249.89,101.85 1250.35,101.56 1250.80,101.27 1251.26,100.97 1251.72,100.68 1252.18,100.37 1252.63,100.05 1253.09,99.72 1253.55,99.38 1254.00,99.01 1254.46,98.62 1254.92,98.22 1255.38,97.81 1255.83,97.38 1256.29,96.95 1256.75,96.52 1257.21,96.08 1257.66,95.64 1258.12,95.21 1258.58,94.79 1259.04,94.37 1259.49,93.97 1259.95,93.59 1260.41,93.22 1260.87,92.87 1261.32,92.52 1261.78,92.17 1262.24,91.84 1262.70,91.50 1263.15,91.18 1263.61,90.85 1264.07,90.54 1264.53,90.23 1264.98,89.92 1265.44,89.62 1265.90,89.33 1266.36,89.04 1266.81,88.76 1267.27,88.49 1267.73,88.22 1268.19,87.96 1268.64,87.70 1269.10,87.45 1269.56,87.20 1270.02,86.96 1270.47,86.72 1270.93,86.49 1271.39,86.26 1271.84,86.03 1272.30,85.80 1272.76,85.58 1273.22,85.35 1273.67,85.13 1274.13,84.90 1274.59,84.68 1275.05,84.45 1275.50,84.22 1275.96,83.99 1276.42,83.75 1276.88,83.52 1277.33,83.28 1277.79,83.04 1278.25,82.81 1278.71,82.57 1279.16,82.33 1279.62,82.10 1280.08,81.86 1280.54,81.62 1280.99,81.39 1281.45,81.15 1281.91,80.91 1282.37,80.68 1282.82,80.44 1283.28,80.20 1283.74,79.97 1284.20,79.73 1284.65,79.49 1285.11,79.26 1285.57,79.02 1286.03,78.78 1286.48,78.55 1286.94,78.31 1287.40,78.07 1287.86,77.84 1288.31,77.60 1288.77,77.36 1289.23,77.13 1289.68,76.89 1290.14,76.65 1290.60,76.41 1291.06,76.17 1291.51,75.92 1291.97,75.67 1292.43,75.42 1292.89,75.16 1293.34,74.91 1293.80,74.66 1294.26,74.42 1294.72,74.18 1295.17,73.95 1295.63,73.72 1296.09,73.50 1296.55,73.30 1297.00,73.10 1297.46,72.92 1297.92,72.74 1298.38,72.57 1298.83,72.40 1299.29,72.24 1299.75,72.09 1300.21,71.93 1300.66,71.78 1301.12,71.64 1301.58,71.49 1302.04,71.34 1302.49,71.19 1302.95,71.04 1303.41,70.89 1303.87,70.73 1304.32,70.57 1304.78,70.41 1305.24,70.24 1305.69,70.06 1306.15,69.89 1306.61,69.71 1307.07,69.54 1307.52,69.37 1307.98,69.20 1308.44,69.04 1308.90,68.89 1309.35,68.74 1309.81,68.60 1310.27,68.48 1310.73,68.37 1311.18,68.26 1311.64,68.15 1312.10,68.05 1312.56,67.94 1313.01,67.83 1313.47,67.73 1313.93,67.62 1314.39,67.52 1314.84,67.42 1315.30,67.32 1315.76,67.23 1316.22,67.14 1316.67,67.05 1317.13,66.97 1317.59,66.89 1318.05,66.81 1318.50,66.75 1318.96,66.69 1319.42,66.63 1319.88,66.59 1320.33,66.55 1320.79,66.52 1321.25,66.49 1321.71,66.48 1322.16,66.47 1322.62,66.47 1323.08,66.47 1323.53,66.47 1323.99,66.47 1324.45,66.47 1324.91,66.47 1325.36,66.47 1325.82,66.47 1326.28,66.47 1326.74,66.47 1327.19,66.47 1327.65,66.47 1328.11,66.47 1328.57,66.47 1329.02,66.47 1329.48,66.47 1329.94,66.47 1330.40,66.47 1330.85,66.47 1331.31,66.47 1331.77,66.47 1332.23,66.47 1332.68,66.47 1333.14,66.48 1333.60,66.52 1334.06,66.60 1334.51,66.71 1334.97,66.84 1335.43,67.01 1335.89,67.20 1336.34,67.40 1336.80,67.63 1337.26,67.86 1337.72,68.11 1338.17,68.35 1338.63,68.60 1339.09,68.85 1339.54,69.10 1340.00,69.33 1340.46,69.55 1340.92,69.77 1341.37,69.99 1341.83,70.22 1342.29,70.46 1342.75,70.70 1343.20,70.94 1343.66,71.19 1344.12,71.45 1344.58,71.70 1345.03,71.96 1345.49,72.23 1345.95,72.49 1346.41,72.76 1346.86,73.03 1347.32,73.30 1347.78,73.58 1348.24,73.85 1348.69,74.12 1349.15,74.39 1349.61,74.66 1350.07,74.93 1350.52,75.20 1350.98,75.48 1351.44,75.76 1351.90,76.04 1352.35,76.33 1352.81,76.62 1353.27,76.92 1353.73,77.23 1354.18,77.54 1354.64,77.87 1355.10,78.20 1355.56,78.54 1356.01,78.89 1356.47,79.26 1356.93,79.64 1357.38,80.05 1357.84,80.47 1358.30,80.92 1358.76,81.38 1359.21,81.86 1359.67,82.35 1360.13,82.85 1360.59,83.35 1361.04,83.86 1361.50,84.37 1361.96,84.87 1362.42,85.37 1362.87,85.87 1363.33,86.36 1363.79,86.84 1364.25,87.31 1364.70,87.78 1365.16,88.25 1365.62,88.72 1366.08,89.19 1366.53,89.66 1366.99,90.13 1367.45,90.61 1367.91,91.10 1368.36,91.60 1368.82,92.10 1369.28,92.62 1369.74,93.15 1370.19,93.69 1370.65,94.26 1371.11,94.85 1371.57,95.47 1372.02,96.10 1372.48,96.75 1372.94,97.41 1373.40,98.08 1373.85,98.74 1374.31,99.41 1374.77,100.07 1375.22,100.73 1375.68,101.37 1376.14,101.99 1376.60,102.59 1377.05,103.16 1377.51,103.72 1377.97,104.26 1378.43,104.79 1378.88,105.31 1379.34,105.82 1379.80,106.32 1380.26,106.82 1380.71,107.32 1381.17,107.81 1381.63,108.29 1382.09,108.78 1382.54,109.26 1383.00,109.75 1383.46,110.24 1383.92,110.74 1384.37,111.23 1384.83,111.73 1385.29,112.22 1385.75,112.70 1386.20,113.19 1386.66,113.68 1387.12,114.16 1387.58,114.65 1388.03,115.13 1388.49,115.62 1388.95,116.11 1389.41,116.60 1389.86,117.09 1390.32,117.58 1390.78,118.07 1391.23,118.57 1391.69,119.07 1392.15,119.57 1392.61,120.08 1393.06,120.58 1393.52,121.09 1393.98,121.59 1394.44,122.10 1394.89,122.61 1395.35,123.12 1395.81,123.62 1396.27,124.13 1396.72,124.64 1397.18,125.14 1397.64,125.65 1398.10,126.15 1398.55,126.65 1399.01,127.14 1399.47,127.63 1399.93,128.12 1400.38,128.61 1400.84,129.10 1401.30,129.59 1401.76,130.09 1402.21,130.59 1402.67,131.10 1403.13,131.61 1403.59,132.14 1404.04,132.68 1404.50,133.22 1404.96,133.79 1405.42,134.36 1405.87,134.95 1406.33,135.55 1406.79,136.16 1407.25,136.77 1407.70,137.40 1408.16,138.03 1408.62,138.66 1409.07,139.29 1409.53,139.93 1409.99,140.56 1410.45,141.20 1410.90,141.83 1411.36,142.45 1411.82,143.08 1412.28,143.70 1412.73,144.33 1413.19,144.95 1413.65,145.58 1414.11,146.20 1414.56,146.83 1415.02,147.46 1415.48,148.09 1415.94,148.73 1416.39,149.36 1416.85,150.00 1417.31,150.64 1417.77,151.28 1418.22,151.92 1418.68,152.57 1419.14,153.24 1419.60,153.90 1420.05,154.58 1420.51,155.25 1420.97,155.93 1421.43,156.60 1421.88,157.26 1422.34,157.92 1422.80,158.56 1423.26,159.19 1423.71,159.80 1424.17,160.41 1424.63,161.02 1425.09,161.62 1425.54,162.22 1426.00,162.81 1426.46,163.40 1426.91,163.98 1427.37,164.55 1427.83,165.11 1428.29,165.66 1428.74,166.21 1429.20,166.74 1429.66,167.26 1430.12,167.77 1430.57,168.27 1431.03,168.76 1431.49,169.26 1431.95,169.75 1432.40,170.24 1432.86,170.72 1433.32,171.19 1433.78,171.66 1434.23,172.10 1434.69,172.54 1435.15,172.95 1435.61,173.35 1436.06,173.73 1436.52,174.08 1436.98,174.41 1437.44,174.72 1437.89,175.03 1438.35,175.33 1438.81,175.62 1439.27,175.90 1439.72,176.18 1440.18,176.44 1440.64,176.69 1441.10,176.94 1441.55,177.17 1442.01,177.39 1442.47,177.59 1442.92,177.78 1443.38,177.96 1443.84,178.12 1444.30,178.27 1444.75,178.42 1445.21,178.56 1445.67,178.71 1446.13,178.85 1446.58,179.00 1447.04,179.13 1447.50,179.26 1447.96,179.39 1448.41,179.51 1448.87,179.62 1449.33,179.72 1449.79,179.81 1450.24,179.89 1450.70,179.96 1451.16,180.02 1451.62,180.06 1452.07,180.08 1452.53,180.09 1452.99,180.07 1453.45,180.02 1453.90,179.93 1454.36,179.81 1454.82,179.67 1455.28,179.50 1455.73,179.32 1456.19,179.11 1456.65,178.89 1457.11,178.67 1457.56,178.43 1458.02,178.19 1458.48,177.96 1458.94,177.72 1459.39,177.49 1459.85,177.24 1460.31,176.98 1460.76,176.68 1461.22,176.37 1461.68,176.04 1462.14,175.70 1462.59,175.34 1463.05,174.98 1463.51,174.62 1463.97,174.25 1464.42,173.89 1464.88,173.53 1465.34,173.18 1465.80,172.84 1466.25,172.52 1466.71,172.20 1467.17,171.90 1467.63,171.59 1468.08,171.29 1468.54,170.99 1469.00,170.70 1469.46,170.40 1469.91,170.11 1470.37,169.81 1470.83,169.52 1471.29,169.22 1471.74,168.93 1472.20,168.63 1472.66,168.32 1473.12,168.02 1473.57,167.71 1474.03,167.42 1474.49,167.12 1474.95,166.83 1475.40,166.54 1475.86,166.25 1476.32,165.95 1476.77,165.65 1477.23,165.35 1477.69,165.03 1478.15,164.71 1478.60,164.37 1479.06,164.03 1479.52,163.66 1479.98,163.28 1480.43,162.89 1480.89,162.47 1481.35,162.05 1481.81,161.60 1482.26,161.14 1482.72,160.66 1483.18,160.17 1483.64,159.67 1484.09,159.14 1484.55,158.61 1485.01,158.06 1485.47,157.49 1485.92,156.91 1486.38,156.32 1486.84,155.71 1487.30,155.05 1487.75,154.32 1488.21,153.53 1488.67,152.70 1489.13,151.87 1489.58,151.03 1490.04,150.22 1490.50,149.45 1490.96,148.75 1491.41,148.14 1491.87,147.59 1492.33,147.08 1492.79,146.60 1493.24,146.17 1493.70,145.77"/><polyline points="551.39,25.05 551.84,25.10 552.30,25.14 552.76,25.19 553.22,25.23 553.67,25.28 554.13,25.33 554.59,25.38 555.05,25.43 555.50,25.48 555.96,25.53 556.42,25.58 556.88,25.64 557.33,25.69 557.79,25.74 558.25,25.80 558.71,25.86 559.16,25.91 559.62,25.97 560.08,26.03 560.54,26.09 560.99,26.15 561.45,26.21 561.91,26.27 562.37,26.33 562.82,26.39 563.28,26.45 563.74,26.52 564.20,26.58 564.65,26.64 565.11,26.71 565.57,26.77 566.03,26.84 566.48,26.90 566.94,26.97 567.40,27.03 567.85,27.10 568.31,27.16 568.77,27.23 569.23,27.30 569.68,27.36 570.14,27.43 570.60,27.50 571.06,27.57 571.51,27.64 571.97,27.72 572.43,27.79 572.89,27.87 573.34,27.95 573.80,28.03 574.26,28.11 574.72,28.20 575.17,28.28 575.63,28.37 576.09,28.46 576.55,28.56 577.00,28.66 577.46,28.76 577.92,28.86 578.38,28.97 578.83,29.08 579.29,29.19 579.75,29.32 580.21,29.46 580.66,29.61 581.12,29.76 581.58,29.93 582.04,30.10 582.49,30.28 582.95,30.47 583.41,30.66 583.87,30.86 584.32,31.06 584.78,31.27 585.24,31.48 585.69,31.69 586.15,31.90 586.61,32.12 587.07,32.33 587.52,32.55 587.98,32.77 588.44,32.98 588.90,33.19 589.35,33.40 589.81,33.61 590.27,33.82 590.73,34.01 591.18,34.21 591.64,34.40 592.10,34.58 592.56,34.76 593.01,34.93 593.47,35.10 593.93,35.27 594.39,35.44 594.84,35.61 595.30,35.78 595.76,35.95 596.22,36.12 596.67,36.29 597.13,36.46 597.59,36.63 598.05,36.79 598.50,36.96 598.96,37.12 599.42,37.28 599.88,37.44 600.33,37.60 600.79,37.76 601.25,37.91 601.70,38.07 602.16,38.22 602.62,38.37 603.08,38.52 603.53,38.66 603.99,38.81 604.45,38.95 604.91,39.09 605.36,39.22 605.82,39.36 606.28,39.49 606.74,39.62 607.19,39.74 607.65,39.86 608.11,39.98 608.57,40.09 609.02,40.21 609.48,40.32 609.94,40.42 610.40,40.53 610.85,40.63 611.31,40.73 611.77,40.84 612.23,40.94 612.68,41.04 613.14,41.14 613.60,41.24 614.06,41.34 614.51,41.44 614.97,41.54 615.43,41.64 615.89,41.75 616.34,41.86 616.80,41.96 617.26,42.08 617.72,42.19 618.17,42.30 618.63,42.42 619.09,42.55 619.54,42.67 620.00,42.80 620.46,42.94 620.92,43.07 621.37,43.21 621.83,43.36 622.29,43.50 622.75,43.65 623.20,43.80 623.66,43.96 624.12,44.12 624.58,44.28 625.03,44.45 625.49,44.62 625.95,44.80 626.41,44.98 626.86,45.17 627.32,45.37 627.78,45.57 628.24,45.79 628.69,46.02 629.15,46.25 629.61,46.49 630.07,46.73 630.52,46.98 630.98,47.23 631.44,47.49 631.90,47.74 632.35,47.99 632.81,48.24 633.27,48.48 633.73,48.72 634.18,48.96 634.64,49.20 635.10,49.44 635.56,49.68 636.01,49.92 636.47,50.17 636.93,50.41 637.38,50.65 637.84,50.89 638.30,51.13 638.76,51.36 639.21,51.59 639.67,51.82 640.13,52.05 640.59,52.27 641.04,52.49 641.50,52.70 641.96,52.92 642.42,53.12 642.87,53.33 643.33,53.53 643.79,53.74 644.25,53.94 644.70,54.14 645.16,54.34 645.62,54.54 646.08,54.74 646.53,54.94 646.99,55.14 647.45,55.35 647.91,55.56 648.36,55.77 648.82,55.98 649.28,56.19 649.74,56.40 650.19,56.62 650.65,56.83 651.11,57.04 651.57,57.25 652.02,57.46 652.48,57.66 652.94,57.86 653.39,58.06 653.85,58.24 654.31,58.43 654.77,58.60 655.22,58.77 655.68,58.94 656.14,59.10 656.60,59.26 657.05,59.42 657.51,59.57 657.97,59.72 658.43,59.88 658.88,60.03 659.34,60.18 659.80,60.33 660.26,60.48 660.71,60.64 661.17,60.79 661.63,60.95 662.09,61.10 662.54,61.25 663.00,61.39 663.46,61.54 663.92,61.68 664.37,61.83 664.83,61.97 665.29,62.13 665.75,62.28 666.20,62.44 666.66,62.61 667.12,62.78 667.58,62.97 668.03,63.16 668.49,63.37 668.95,63.59 669.41,63.83 669.86,64.08 670.32,64.35 670.78,64.62 671.23,64.90 671.69,65.19 672.15,65.47 672.61,65.77 673.06,66.06 673.52,66.35 673.98,66.63 674.44,66.91 674.89,67.18 675.35,67.45 675.81,67.72 676.27,67.99 676.72,68.25 677.18,68.52 677.64,68.78 678.10,69.05 678.55,69.31 679.01,69.58 679.47,69.85 679.93,70.12 680.38,70.39 680.84,70.66 681.30,70.93 681.76,71.21 682.21,71.48 682.67,71.76 683.13,72.03 683.59,72.30 684.04,72.58 684.50,72.85 684.96,73.13 685.42,73.41 685.87,73.69 686.33,73.98 686.79,74.26 687.25,74.56 687.70,74.86 688.16,75.16 688.62,75.47 689.07,75.79 689.53,76.14 689.99,76.50 690.45,76.87 690.90,77.26 691.36,77.64 691.82,78.03 692.28,78.41 692.73,78.79 693.19,79.16 693.65,79.51 694.11,79.84 694.56,80.15 695.02,80.43 695.48,80.68 695.94,80.90 696.39,81.11 696.85,81.30 697.31,81.48 697.77,81.65 698.22,81.80 698.68,81.95 699.14,82.10 699.60,82.24 700.05,82.37 700.51,82.51 700.97,82.64 701.43,82.78 701.88,82.92 702.34,83.06 702.80,83.21 703.26,83.37 703.71,83.54 704.17,83.72 704.63,83.91 705.08,84.12 705.54,84.34 706.00,84.59 706.46,84.87 706.91,85.17 707.37,85.51 707.83,85.87 708.29,86.25 708.74,86.65 709.20,87.07 709.66,87.50 710.12,87.94 710.57,88.38 711.03,88.83 711.49,89.28 711.95,89.72 712.40,90.16 712.86,90.60 713.32,91.03 713.78,91.48 714.23,91.93 714.69,92.38 715.15,92.84 715.61,93.31 716.06,93.78 716.52,94.26 716.98,94.75 717.44,95.24 717.89,95.73 718.35,96.23 718.81,96.74 719.27,97.24"/><polyline points="780.10,28.60 780.56,28.66 781.02,28.73 781.48,28.80 781.93,28.87 782.39,28.94 782.85,29.01 783.31,29.09 783.76,29.17 784.22,29.25 784.68,29.34 785.14,29.42 785.59,29.51 786.05,29.60 786.51,29.69 786.97,29.79 787.42,29.88 787.88,29.98 788.34,30.08 788.80,30.18 789.25,30.29 789.71,30.40 790.17,30.51 790.62,30.62 791.08,30.74 791.54,30.86 792.00,30.99 792.45,31.11 792.91,31.24 793.37,31.37 793.83,31.51 794.28,31.65 794.74,31.79 795.20,31.94 795.66,32.09 796.11,32.25 796.57,32.42 797.03,32.60 797.49,32.78 797.94,32.97 798.40,33.16 798.86,33.35 799.32,33.55 799.77,33.76 800.23,33.96 800.69,34.17 801.15,34.37 801.60,34.58 802.06,34.79 802.52,35.00 802.98,35.21 803.43,35.43 803.89,35.66 804.35,35.89 804.81,36.12 805.26,36.35 805.72,36.58 806.18,36.81 806.64,37.05 807.09,37.28 807.55,37.51 808.01,37.74 808.46,37.96 808.92,38.18 809.38,38.40 809.84,38.61 810.29,38.83 810.75,39.04 811.21,39.25 811.67,39.46 812.12,39.67 812.58,39.88 813.04,40.10 813.50,40.31 813.95,40.52 814.41,40.73 814.87,40.95 815.33,41.17 815.78,41.38 816.24,41.60 816.70,41.83 817.16,42.05 817.61,42.27 818.07,42.50 818.53,42.73 818.99,42.95 819.44,43.18 819.90,43.41 820.36,43.64 820.82,43.86 821.27,44.09 821.73,44.32 822.19,44.55 822.65,44.78 823.10,45.00 823.56,45.23 824.02,45.45 824.48,45.67 824.93,45.89 825.39,46.12 825.85,46.34 826.30,46.56 826.76,46.79 827.22,47.02 827.68,47.25 828.13,47.48 828.59,47.72 829.05,47.96 829.51,48.21 829.96,48.46 830.42,48.72 830.88,48.98 831.34,49.24 831.79,49.50 832.25,49.77 832.71,50.04 833.17,50.32 833.62,50.60 834.08,50.88 834.54,51.16 835.00,51.45 835.45,51.74 835.91,52.04 836.37,52.33 836.83,52.63 837.28,52.94 837.74,53.25 838.20,53.56 838.66,53.88 839.11,54.20 839.57,54.52 840.03,54.85 840.49,55.18 840.94,55.51 841.40,55.84 841.86,56.17 842.31,56.50 842.77,56.84 843.23,57.17 843.69,57.51 844.14,57.84 844.60,58.18 845.06,58.52 845.52,58.86 845.97,59.20 846.43,59.54 846.89,59.89 847.35,60.24 847.80,60.59 848.26,60.94 848.72,61.30 849.18,61.66 849.63,62.03 850.09,62.40 850.55,62.77 851.01,63.14 851.46,63.51 851.92,63.88 852.38,64.26 852.84,64.64 853.29,65.02 853.75,65.41 854.21,65.81 854.67,66.21 855.12,66.62 855.58,67.04 856.04,67.47 856.50,67.91 856.95,68.36 857.41,68.82 857.87,69.30 858.33,69.80 858.78,70.30 859.24,70.82 859.70,71.34 860.15,71.87 860.61,72.41 861.07,72.95 861.53,73.50 861.98,74.04 862.44,74.59 862.90,75.13 863.36,75.67 863.81,76.21 864.27,76.74 864.73,77.27 865.19,77.79 865.64,78.32 866.10,78.85 866.56,79.38 867.02,79.91 867.47,80.45 867.93,81.00 868.39,81.56 868.85,82.13 869.30,82.71 869.76,83.30 870.22,83.91 870.68,84.54 871.13,85.19 871.59,85.85 872.05,86.52 872.51,87.22 872.96,87.92 873.42,88.64 873.88,89.38 874.34,90.12 874.79,90.88 875.25,91.65 875.71,92.43 876.16,93.22"/><polyline points="793.83,20.32 794.28,20.35 794.74,20.38 795.20,20.41 795.66,20.44 796.11,20.48 796.57,20.51 797.03,20.54 797.49,20.57 797.94,20.60 798.40,20.63 798.86,20.66 799.32,20.70 799.77,20.73 800.23,20.76 800.69,20.79 801.15,20.82 801.60,20.85 802.06,20.88 802.52,20.91 802.98,20.94 803.43,20.97 803.89,21.00 804.35,21.03 804.81,21.06 805.26,21.09 805.72,21.12 806.18,21.16 806.64,21.19 807.09,21.23 807.55,21.26 808.01,21.30 808.46,21.34 808.92,21.38 809.38,21.43 809.84,21.47 810.29,21.52 810.75,21.57 811.21,21.61 811.67,21.66 812.12,21.71 812.58,21.76 813.04,21.81 813.50,21.87 813.95,21.92 814.41,21.97 814.87,22.03 815.33,22.09 815.78,22.15 816.24,22.21 816.70,22.27 817.16,22.33 817.61,22.40 818.07,22.46 818.53,22.53 818.99,22.60 819.44,22.66 819.90,22.73 820.36,22.79 820.82,22.86 821.27,22.92 821.73,22.98 822.19,23.05 822.65,23.11 823.10,23.18 823.56,23.25 824.02,23.31 824.48,23.38 824.93,23.44 825.39,23.51 825.85,23.57 826.30,23.63 826.76,23.70 827.22,23.76 827.68,23.81 828.13,23.87 828.59,23.92 829.05,23.97 829.51,24.02 829.96,24.07 830.42,24.12 830.88,24.17 831.34,24.21 831.79,24.26 832.25,24.30 832.71,24.35 833.17,24.39 833.62,24.44 834.08,24.48 834.54,24.53 835.00,24.58 835.45,24.62 835.91,24.67 836.37,24.71 836.83,24.75 837.28,24.79 837.74,24.83 838.20,24.88 838.66,24.92 839.11,24.96 839.57,25.01 840.03,25.06 840.49,25.11 840.94,25.17 841.40,25.22 841.86,25.29 842.31,25.36 842.77,25.44 843.23,25.53 843.69,25.62 844.14,25.73 844.60,25.84 845.06,25.95 845.52,26.07 845.97,26.19 846.43,26.31 846.89,26.44 847.35,26.57 847.80,26.69 848.26,26.82 848.72,26.95 849.18,27.07 849.63,27.20 850.09,27.34 850.55,27.47 851.01,27.62 851.46,27.76 851.92,27.90 852.38,28.05 852.84,28.20 853.29,28.35 853.75,28.49 854.21,28.64 854.67,28.79 855.12,28.93 855.58,29.08 856.04,29.22 856.50,29.36 856.95,29.50 857.41,29.64 857.87,29.79 858.33,29.93 858.78,30.07 859.24,30.21 859.70,30.35 860.15,30.50 860.61,30.64 861.07,30.78 861.53,30.92 861.98,31.06 862.44,31.21 862.90,31.35 863.36,31.48 863.81,31.62 864.27,31.75 864.73,31.89 865.19,32.02 865.64,32.15 866.10,32.29 866.56,32.43 867.02,32.57 867.47,32.71 867.93,32.86 868.39,33.01 868.85,33.17 869.30,33.34 869.76,33.51 870.22,33.69 870.68,33.88 871.13,34.08 871.59,34.28 872.05,34.49 872.51,34.70 872.96,34.91 873.42,35.13 873.88,35.35 874.34,35.56 874.79,35.78 875.25,35.99 875.71,36.21 876.16,36.41 876.62,36.62 877.08,36.82 877.54,37.02 877.99,37.23 878.45,37.43 878.91,37.63 879.37,37.84 879.82,38.04 880.28,38.24 880.74,38.45 881.20,38.65 881.65,38.86 882.11,39.07 882.57,39.28 883.03,39.49 883.48,39.70 883.94,39.91 884.40,40.12 884.86,40.33 885.31,40.55 885.77,40.76 886.23,40.97 886.69,41.19 887.14,41.41 887.60,41.63 888.06,41.85 888.52,42.08 888.97,42.32 889.43,42.56 889.89,42.80 890.35,43.06 890.80,43.31 891.26,43.57 891.72,43.84 892.18,44.11 892.63,44.39 893.09,44.67 893.55,44.96 894.00,45.25 894.46,45.54 894.92,45.84 895.38,46.14 895.83,46.45 896.29,46.75 896.75,47.06 897.21,47.38 897.66,47.70 898.12,48.04 898.58,48.37 899.04,48.71 899.49,49.06 899.95,49.41 900.41,49.77 900.87,50.12 901.32,50.48 901.78,50.84 902.24,51.20 902.70,51.56 903.15,51.92 903.61,52.27 904.07,52.63 904.53,53.00 904.98,53.37 905.44,53.75 905.90,54.13 906.36,54.51 906.81,54.89 907.27,55.27 907.73,55.64 908.19,56.01 908.64,56.38 909.10,56.73 909.56,57.07 910.02,57.40 910.47,57.72 910.93,58.02 911.39,58.32 911.84,58.61 912.30,58.89 912.76,59.17 913.22,59.44 913.67,59.70 914.13,59.97 914.59,60.22 915.05,60.48 915.50,60.73 915.96,60.99 916.42,61.24 916.88,61.49 917.33,61.74 917.79,61.99 918.25,62.24 918.71,62.49 919.16,62.73 919.62,62.97 920.08,63.21 920.54,63.45 920.99,63.69 921.45,63.93 921.91,64.16 922.37,64.39 922.82,64.62 923.28,64.84 923.74,65.07 924.20,65.29"/></g>
<g fill="none" stroke="#000" stroke-width="1.5"><circle cx="121.40" cy="21.50" r="5.05"/><circle cx="128.26" cy="20.91" r="5.05"/><circle cx="135.12" cy="20.32" r="5.05"/><circle cx="141.98" cy="19.73" r="5.05"/><circle cx="148.85" cy="19.13" r="5.05"/><circle cx="155.71" cy="18.51" r="5.05"/><circle cx="162.57" cy="17.95" r="5.05"/><circle cx="169.43" cy="17.48" r="5.05"/><circle cx="176.29" cy="17.24" r="5.05"/><circle cx="183.15" cy="17.75" r="5.05"/><circle cx="190.02" cy="18.66" r="5.05"/><circle cx="196.88" cy="19.81" r="5.05"/><circle cx="203.74" cy="20.55" r="5.05"/><circle cx="210.60" cy="20.16" r="5.05"/><circle cx="217.46" cy="19.61" r="5.05"/><circle cx="224.32" cy="19.29" r="5.05"/><circle cx="231.18" cy="19.13" r="5.05"/><circle cx="238.05" cy="20.18" r="5.05"/><circle cx="244.91" cy="21.50" r="5.05"/><circle cx="251.77" cy="21.84" r="5.05"/><circle cx="258.63" cy="22.21" r="5.05"/><circle cx="265.49" cy="23.50" r="5.05"/><circle cx="272.35" cy="26.44" r="5.05"/><circle cx="279.21" cy="32.36" r="5.05"/><circle cx="286.08" cy="38.78" r="5.05"/><circle cx="292.94" cy="50.38" r="5.05"/><circle cx="299.80" cy="65.29" r="5.05"/><circle cx="306.66" cy="88.72" r="5.05"/><circle cx="313.52" cy="116.18" r="5.05"/><circle cx="320.38" cy="149.79" r="5.05"/><circle cx="327.25" cy="187.90" r="5.05"/><circle cx="334.11" cy="228.85" r="5.05"/><circle cx="340.97" cy="259.62" r="5.05"/><circle cx="347.83" cy="265.30" r="5.05"/><circle cx="354.69" cy="242.11" r="5.05"/><circle cx="361.55" cy="207.78" r="5.05"/><circle cx="368.41" cy="172.75" r="5.05"/><circle cx="375.28" cy="141.74" r="5.05"/><circle cx="382.14" cy="115.00" r="5.05"/><circle cx="389.00" cy="93.69" r="5.05"/><circle cx="395.86" cy="75.94" r="5.05"/><circle cx="402.72" cy="64.58" r="5.05"/><circle cx="409.58" cy="52.27" r="5.05"/><circle cx="416.44" cy="42.80" r="5.05"/><circle cx="423.31" cy="37.60" r="5.05"/><circle cx="430.17" cy="34.52" r="5.05"/><circle cx="437.03" cy="32.86" r="5.05"/><circle cx="443.89" cy="32.15" r="5.05"/><circle cx="450.75" cy="31.68" r="5.05"/><circle cx="457.61" cy="30.97" r="5.05"/><circle cx="464.48" cy="30.02" r="5.05"/><circle cx="471.34" cy="28.60" r="5.05"/><circle cx="478.20" cy="27.42" r="5.05"/><circle cx="485.06" cy="26.17" r="5.05"/><circle cx="491.92" cy="24.93" r="5.05"/><circle cx="498.78" cy="23.87" r="5.05"/><circle cx="505.64" cy="23.13" r="5.05"/><circle cx="512.51" cy="22.94" r="5.05"/><circle cx="519.37" cy="23.16" r="5.05"/><circle cx="526.23" cy="23.52" r="5.05"/><circle cx="533.09" cy="23.87" r="5.05"/><circle cx="539.95" cy="24.19" r="5.05"/><circle cx="546.81" cy="24.56" r="5.05"/><circle cx="553.67" cy="24.93" r="5.05"/><circle cx="560.54" cy="25.28" r="5.05"/><circle cx="567.40" cy="25.55" r="5.05"/><circle cx="574.26" cy="25.73" r="5.05"/><circle cx="581.12" cy="25.75" r="5.05"/><circle cx="587.98" cy="25.58" r="5.05"/><circle cx="594.84" cy="25.31" r="5.05"/><circle cx="601.71" cy="25.05" r="5.05"/><circle cx="608.57" cy="24.79" r="5.05"/><circle cx="615.43" cy="24.52" r="5.05"/><circle cx="622.29" cy="24.35" r="5.05"/><circle cx="629.15" cy="24.34" r="5.05"/><circle cx="636.01" cy="24.34" r="5.05"/><circle cx="642.87" cy="24.34" r="5.05"/><circle cx="649.74" cy="24.36" r="5.05"/><circle cx="656.60" cy="24.65" r="5.05"/><circle cx="663.46" cy="25.16" r="5.05"/><circle cx="670.32" cy="25.76" r="5.05"/><circle cx="677.18" cy="26.51" r="5.05"/><circle cx="684.04" cy="27.51" r="5.05"/><circle cx="690.90" cy="28.67" r="5.05"/><circle cx="697.77" cy="29.92" r="5.05"/><circle cx="704.63" cy="31.38" r="5.05"/><circle cx="711.49" cy="33.34" r="5.05"/><circle cx="718.35" cy="36.87" r="5.05"/><circle cx="725.21" cy="41.30" r="5.05"/><circle cx="732.07" cy="44.53" r="5.05"/><circle cx="738.93" cy="48.50" r="5.05"/><circle cx="745.80" cy="53.16" r="5.05"/><circle cx="752.66" cy="57.24" r="5.05"/><circle cx="759.52" cy="60.32" r="5.05"/><circle cx="766.38" cy="62.69" r="5.05"/><circle cx="773.24" cy="69.55" r="5.05"/><circle cx="780.10" cy="75.71" r="5.05"/><circle cx="786.97" cy="81.86" r="5.05"/><circle cx="793.83" cy="91.09" r="5.05"/><circle cx="800.69" cy="101.27" r="5.05"/><circle cx="807.55" cy="113.58" r="5.05"/><circle cx="814.41" cy="129.91" r="5.05"/><circle cx="821.27" cy="149.08" r="5.05"/><circle cx="828.13" cy="168.26" r="5.05"/><circle cx="835.00" cy="196.66" r="5.05"/><circle cx="841.86" cy="223.64" r="5.05"/><circle cx="848.72" cy="250.15" r="5.05"/><circle cx="855.58" cy="266.49" r="5.05"/><circle cx="862.44" cy="268.62" r="5.05"/><circle cx="869.30" cy="252.99" r="5.05"/><circle cx="876.16" cy="227.67" r="5.05"/><circle cx="883.03" cy="200.68" r="5.05"/><circle cx="889.89" cy="173.23" r="5.05"/><circle cx="896.75" cy="150.50" r="5.05"/><circle cx="903.61" cy="128.25" r="5.05"/><circle cx="910.47" cy="110.26" r="5.05"/><circle cx="917.33" cy="96.77" r="5.05"/><circle cx="924.20" cy="84.94" r="5.05"/><circle cx="931.06" cy="75.94" r="5.05"/><circle cx="937.92" cy="68.60" r="5.05"/><circle cx="944.78" cy="64.34" r="5.05"/><circle cx="951.64" cy="61.98" r="5.05"/><circle cx="958.50" cy="61.03" r="5.05"/><circle cx="965.36" cy="61.03" r="5.05"/><circle cx="972.23" cy="62.69" r="5.05"/><circle cx="979.09" cy="65.29" r="5.05"/><circle cx="985.95" cy="68.37" r="5.05"/><circle cx="992.81" cy="71.21" r="5.05"/><circle cx="999.67" cy="74.76" r="5.05"/><circle cx="1006.53" cy="78.31" r="5.05"/><circle cx="1013.39" cy="83.04" r="5.05"/><circle cx="1020.26" cy="88.25" r="5.05"/><circle cx="1027.12" cy="93.22" r="5.05"/><circle cx="1033.98" cy="97.72" r="5.05"/><circle cx="1040.84" cy="101.51" r="5.05"/><circle cx="1047.70" cy="109.08" r="5.05"/><circle cx="1054.56" cy="117.84" r="5.05"/><circle cx="1061.43" cy="124.70" r="5.05"/><circle cx="1068.29" cy="134.17" r="5.05"/><circle cx="1075.15" cy="143.64" r="5.05"/><circle cx="1082.01" cy="154.76" r="5.05"/><circle cx="1088.87" cy="165.41" r="5.05"/><circle cx="1095.73" cy="180.09" r="5.05"/><circle cx="1102.59" cy="194.29" r="5.05"/><circle cx="1109.46" cy="211.81" r="5.05"/><circle cx="1116.32" cy="230.74" r="5.05"/><circle cx="1123.18" cy="251.10" r="5.05"/><circle cx="1130.04" cy="271.69" r="5.05"/><circle cx="1136.90" cy="295.36" r="5.05"/><circle cx="1143.76" cy="322.35" r="5.05"/><circle cx="1150.62" cy="348.15" r="5.05"/><circle cx="1157.49" cy="374.66" r="5.05"/><circle cx="1164.35" cy="397.14" r="5.05"/><circle cx="1171.21" cy="412.77" r="5.05"/><circle cx="1178.07" cy="415.84" r="5.05"/><circle cx="1184.93" cy="404.01" r="5.05"/><circle cx="1191.79" cy="381.05" r="5.05"/><circle cx="1198.66" cy="355.96" r="5.05"/><circle cx="1205.52" cy="328.26" r="5.05"/><circle cx="1212.38" cy="301.75" r="5.05"/><circle cx="1219.24" cy="277.61" r="5.05"/><circle cx="1226.10" cy="257.25" r="5.05"/><circle cx="1232.96" cy="237.13" r="5.05"/><circle cx="1239.82" cy="220.57" r="5.05"/><circle cx="1246.69" cy="205.89" r="5.05"/><circle cx="1253.55" cy="192.40" r="5.05"/><circle cx="1260.41" cy="180.56" r="5.05"/><circle cx="1267.27" cy="170.62" r="5.05"/><circle cx="1274.13" cy="163.05" r="5.05"/><circle cx="1280.99" cy="154.53" r="5.05"/><circle cx="1287.86" cy="143.24" r="5.05"/><circle cx="1294.72" cy="130.38" r="5.05"/><circle cx="1301.58" cy="124.47" r="5.05"/><circle cx="1308.44" cy="118.07" r="5.05"/><circle cx="1315.30" cy="111.45" r="5.05"/><circle cx="1322.16" cy="105.06" r="5.05"/><circle cx="1329.02" cy="100.56" r="5.05"/><circle cx="1335.89" cy="95.81" r="5.05"/><circle cx="1342.75" cy="91.78" r="5.05"/><circle cx="1349.61" cy="88.23" r="5.05"/><circle cx="1356.47" cy="85.17" r="5.05"/><circle cx="1363.33" cy="82.69" r="5.05"/><circle cx="1370.19" cy="80.20" r="5.05"/><circle cx="1377.05" cy="77.48" r="5.05"/><circle cx="1383.92" cy="74.87" r="5.05"/><circle cx="1390.78" cy="72.49" r="5.05"/><circle cx="1397.64" cy="70.50" r="5.05"/><circle cx="1404.50" cy="69.55" r="5.05"/><circle cx="1411.36" cy="70.93" r="5.05"/><circle cx="1418.22" cy="73.83" r="5.05"/><circle cx="1425.09" cy="78.07" r="5.05"/><circle cx="1431.95" cy="81.86" r="5.05"/><circle cx="1438.81" cy="86.36" r="5.05"/><circle cx="1445.67" cy="93.46" r="5.05"/><circle cx="1452.53" cy="100.17" r="5.05"/><circle cx="1459.39" cy="106.93" r="5.05"/><circle cx="1466.25" cy="114.75" r="5.05"/><circle cx="1473.12" cy="121.99" r="5.05"/><circle cx="1479.98" cy="128.80" r="5.05"/><circle cx="1486.84" cy="135.75" r="5.05"/><circle cx="1493.70" cy="143.40" r="5.05"/><circle cx="121.40" cy="16.77" r="5.05"/><circle cx="128.26" cy="17.63" r="5.05"/><circle cx="135.12" cy="17.95" r="5.05"/><circle cx="141.98" cy="17.72" r="5.05"/><circle cx="148.85" cy="17.24" r="5.05"/><circle cx="155.71" cy="16.37" r="5.05"/><circle cx="162.57" cy="15.58" r="5.05"/><circle cx="169.43" cy="15.35" r="5.05"/><circle cx="176.29" cy="23.39" r="5.05"/><circle cx="183.15" cy="26.47" r="5.05"/><circle cx="190.02" cy="28.13" r="5.05"/><circle cx="196.88" cy="28.13" r="5.05"/><circle cx="203.74" cy="29.79" r="5.05"/><circle cx="210.60" cy="34.52" r="5.05"/><circle cx="217.46" cy="40.20" r="5.05"/><circle cx="224.32" cy="38.78" r="5.05"/><circle cx="231.18" cy="37.60" r="5.05"/><circle cx="238.05" cy="36.18" r="5.05"/><circle cx="244.91" cy="33.34" r="5.05"/><circle cx="251.77" cy="30.38" r="5.05"/><circle cx="258.63" cy="29.09" r="5.05"/><circle cx="265.49" cy="28.60" r="5.05"/><circle cx="272.35" cy="29.91" r="5.05"/><circle cx="279.21" cy="32.27" r="5.05"/><circle cx="286.08" cy="35.47" r="5.05"/><circle cx="292.94" cy="39.49" r="5.05"/><circle cx="299.80" cy="42.80" r="5.05"/><circle cx="306.66" cy="45.88" r="5.05"/><circle cx="313.52" cy="47.77" r="5.05"/><circle cx="320.38" cy="47.77" r="5.05"/><circle cx="327.25" cy="46.35" r="5.05"/><circle cx="334.11" cy="45.88" r="5.05"/><circle cx="340.97" cy="46.83" r="5.05"/><circle cx="347.83" cy="48.25" r="5.05"/><circle cx="354.69" cy="51.80" r="5.05"/><circle cx="361.55" cy="59.14" r="5.05"/><circle cx="368.41" cy="68.37" r="5.05"/><circle cx="375.28" cy="80.68" r="5.05"/><circle cx="382.14" cy="96.06" r="5.05"/><circle cx="389.00" cy="122.10" r="5.05"/><circle cx="395.86" cy="154.53" r="5.05"/><circle cx="402.72" cy="196.90" r="5.05"/><circle cx="409.58" cy="249.92" r="5.05"/><circle cx="416.44" cy="325.90" r="5.05"/><circle cx="423.31" cy="410.64" r="5.05"/><circle cx="430.17" cy="399.04" r="5.05"/><circle cx="437.03" cy="315.96" r="5.05"/><circle cx="443.89" cy="238.08" r="5.05"/><circle cx="450.75" cy="180.80" r="5.05"/><circle cx="457.61" cy="139.38" r="5.05"/><circle cx="464.48" cy="113.81" r="5.05"/><circle cx="471.34" cy="85.41" r="5.05"/><circle cx="478.20" cy="64.11" r="5.05"/><circle cx="485.06" cy="51.09" r="5.05"/><circle cx="491.92" cy="40.20" r="5.05"/><circle cx="498.78" cy="34.05" r="5.05"/><circle cx="505.64" cy="30.23" r="5.05"/><circle cx="512.51" cy="28.05" r="5.05"/><circle cx="519.37" cy="26.64" r="5.05"/><circle cx="526.23" cy="25.62" r="5.05"/><circle cx="533.09" cy="25.05" r="5.05"/><circle cx="539.95" cy="24.74" r="5.05"/><circle cx="546.81" cy="24.47" r="5.05"/><circle cx="553.67" cy="24.25" r="5.05"/><circle cx="560.54" cy="24.07" r="5.05"/><circle cx="567.40" cy="23.95" r="5.05"/><circle cx="574.26" cy="23.88" r="5.05"/><circle cx="581.12" cy="23.87" r="5.05"/><circle cx="587.98" cy="23.88" r="5.05"/><circle cx="594.84" cy="23.90" r="5.05"/><circle cx="601.71" cy="23.93" r="5.05"/><circle cx="608.57" cy="23.97" r="5.05"/><circle cx="615.43" cy="24.02" r="5.05"/><circle cx="622.29" cy="24.07" r="5.05"/><circle cx="629.15" cy="24.14" r="5.05"/><circle cx="636.01" cy="24.21" r="5.05"/><circle cx="642.87" cy="24.29" r="5.05"/><circle cx="649.74" cy="24.37" r="5.05"/><circle cx="656.60" cy="24.52" r="5.05"/><circle cx="663.46" cy="24.73" r="5.05"/><circle cx="670.32" cy="25.00" r="5.05"/><circle cx="677.18" cy="25.33" r="5.05"/><circle cx="684.04" cy="25.69" r="5.05"/><circle cx="690.90" cy="26.09" r="5.05"/><circle cx="697.77" cy="26.56" r="5.05"/><circle cx="704.63" cy="27.20" r="5.05"/><circle cx="711.49" cy="28.00" r="5.05"/><circle cx="718.35" cy="28.93" r="5.05"/><circle cx="725.21" cy="30.13" r="5.05"/><circle cx="732.07" cy="31.68" r="5.05"/><circle cx="738.93" cy="34.02" r="5.05"/><circle cx="745.80" cy="36.61" r="5.05"/><circle cx="752.66" cy="39.25" r="5.05"/><circle cx="759.52" cy="42.69" r="5.05"/><circle cx="766.38" cy="46.59" r="5.05"/><circle cx="773.24" cy="50.59" r="5.05"/><circle cx="780.10" cy="55.11" r="5.05"/><circle cx="786.97" cy="60.64" r="5.05"/><circle cx="793.83" cy="67.18" r="5.05"/><circle cx="800.69" cy="75.09" r="5.05"/><circle cx="807.55" cy="83.99" r="5.05"/><circle cx="814.41" cy="93.33" r="5.05"/><circle cx="821.27" cy="103.40" r="5.05"/><circle cx="828.13" cy="114.52" r="5.05"/><circle cx="835.00" cy="128.73" r="5.05"/><circle cx="841.86" cy="143.64" r="5.05"/><circle cx="848.72" cy="159.97" r="5.05"/><circle cx="855.58" cy="180.33" r="5.05"/><circle cx="862.44" cy="201.39" r="5.05"/><circle cx="869.30" cy="228.14" r="5.05"/><circle cx="876.16" cy="257.25" r="5.05"/><circle cx="883.03" cy="296.07" r="5.05"/><circle cx="889.89" cy="339.15" r="5.05"/><circle cx="896.75" cy="387.91" r="5.05"/><circle cx="903.61" cy="440.46" r="5.05"/><circle cx="910.47" cy="475.02" r="5.05"/><circle cx="917.33" cy="461.76" r="5.05"/><circle cx="924.20" cy="413.71" r="5.05"/><circle cx="931.06" cy="361.17" r="5.05"/><circle cx="937.92" cy="315.96" r="5.05"/><circle cx="944.78" cy="278.32" r="5.05"/><circle cx="951.64" cy="247.08" r="5.05"/><circle cx="958.50" cy="220.33" r="5.05"/><circle cx="965.36" cy="200.45" r="5.05"/><circle cx="972.23" cy="179.62" r="5.05"/><circle cx="979.09" cy="165.41" r="5.05"/><circle cx="985.95" cy="152.40" r="5.05"/><circle cx="992.81" cy="139.14" r="5.05"/><circle cx="999.67" cy="127.72" r="5.05"/><circle cx="1006.53" cy="119.42" r="5.05"/><circle cx="1013.39" cy="114.05" r="5.05"/><circle cx="1020.26" cy="108.13" r="5.05"/><circle cx="1027.12" cy="102.22" r="5.05"/><circle cx="1033.98" cy="97.48" r="5.05"/><circle cx="1040.84" cy="92.51" r="5.05"/><circle cx="1047.70" cy="88.25" r="5.05"/><circle cx="1054.56" cy="84.94" r="5.05"/><circle cx="1061.43" cy="81.86" r="5.05"/><circle cx="1068.29" cy="79.43" r="5.05"/><circle cx="1075.15" cy="77.68" r="5.05"/><circle cx="1082.01" cy="76.42" r="5.05"/><circle cx="1088.87" cy="75.51" r="5.05"/><circle cx="1095.73" cy="74.76" r="5.05"/><circle cx="1102.59" cy="74.19" r="5.05"/><circle cx="1109.46" cy="73.79" r="5.05"/><circle cx="1116.32" cy="73.45" r="5.05"/><circle cx="1123.18" cy="73.21" r="5.05"/><circle cx="1130.04" cy="73.06" r="5.05"/><circle cx="1136.90" cy="72.96" r="5.05"/><circle cx="1143.76" cy="72.89" r="5.05"/><circle cx="1150.62" cy="72.86" r="5.05"/><circle cx="1157.49" cy="72.86" r="5.05"/><circle cx="1164.35" cy="72.86" r="5.05"/><circle cx="1171.21" cy="72.86" r="5.05"/><circle cx="1178.07" cy="72.91" r="5.05"/><circle cx="1184.93" cy="73.15" r="5.05"/><circle cx="1191.79" cy="73.58" r="5.05"/><circle cx="1198.66" cy="75.19" r="5.05"/><circle cx="1205.52" cy="77.71" r="5.05"/><circle cx="1212.38" cy="81.03" r="5.05"/><circle cx="1219.24" cy="84.94" r="5.05"/><circle cx="1226.10" cy="88.69" r="5.05"/><circle cx="1232.96" cy="92.18" r="5.05"/><circle cx="1239.82" cy="95.59" r="5.05"/><circle cx="1246.69" cy="100.00" r="5.05"/><circle cx="1253.55" cy="105.89" r="5.05"/><circle cx="1260.41" cy="113.28" r="5.05"/><circle cx="1267.27" cy="121.86" r="5.05"/><circle cx="1274.13" cy="131.57" r="5.05"/><circle cx="1280.99" cy="143.40" r="5.05"/><circle cx="1287.86" cy="156.42" r="5.05"/><circle cx="1294.72" cy="170.62" r="5.05"/><circle cx="1301.58" cy="184.82" r="5.05"/><circle cx="1308.44" cy="201.87" r="5.05"/><circle cx="1315.30" cy="215.60" r="5.05"/><circle cx="1322.16" cy="226.96" r="5.05"/><circle cx="1329.02" cy="234.29" r="5.05"/><circle cx="1335.89" cy="236.19" r="5.05"/><circle cx="1342.75" cy="231.69" r="5.05"/><circle cx="1349.61" cy="223.17" r="5.05"/><circle cx="1356.47" cy="212.99" r="5.05"/><circle cx="1363.33" cy="198.79" r="5.05"/><circle cx="1370.19" cy="185.53" r="5.05"/><circle cx="1377.05" cy="172.52" r="5.05"/><circle cx="1383.92" cy="161.86" r="5.05"/><circle cx="1390.78" cy="150.74" r="5.05"/><circle cx="1397.64" cy="140.56" r="5.05"/><circle cx="1404.50" cy="131.33" r="5.05"/><circle cx="1411.36" cy="123.76" r="5.05"/><circle cx="1418.22" cy="116.65" r="5.05"/><circle cx="1425.09" cy="109.55" r="5.05"/><circle cx="1431.95" cy="103.64" r="5.05"/><circle cx="1438.81" cy="97.48" r="5.05"/><circle cx="1445.67" cy="90.39" r="5.05"/><circle cx="1452.53" cy="85.18" r="5.05"/><circle cx="1459.39" cy="80.97" r="5.05"/><circle cx="1466.25" cy="78.07" r="5.05"/><circle cx="1473.12" cy="74.32" r="5.05"/><circle cx="1479.98" cy="72.15" r="5.05"/><circle cx="1486.84" cy="70.89" r="5.05"/><circle cx="1493.70" cy="70.26" r="5.05"/><circle cx="121.40" cy="32.86" r="5.05"/><circle cx="128.26" cy="26.23" r="5.05"/><circle cx="135.12" cy="23.39" r="5.05"/><circle cx="141.98" cy="22.07" r="5.05"/><circle cx="148.85" cy="21.50" r="5.05"/><circle cx="155.71" cy="21.96" r="5.05"/><circle cx="162.57" cy="22.88" r="5.05"/><circle cx="169.43" cy="23.60" r="5.05"/><circle cx="176.29" cy="24.26" r="5.05"/><circle cx="183.15" cy="24.82" r="5.05"/><circle cx="190.02" cy="25.05" r="5.05"/><circle cx="196.88" cy="24.87" r="5.05"/><circle cx="203.74" cy="24.46" r="5.05"/><circle cx="210.60" cy="24.00" r="5.05"/><circle cx="217.46" cy="23.59" r="5.05"/><circle cx="224.32" cy="23.13" r="5.05"/><circle cx="231.18" cy="22.77" r="5.05"/><circle cx="238.05" cy="22.70" r="5.05"/><circle cx="244.91" cy="22.93" r="5.05"/><circle cx="251.77" cy="23.24" r="5.05"/><circle cx="258.63" cy="23.39" r="5.05"/><circle cx="265.49" cy="23.13" r="5.05"/><circle cx="272.35" cy="22.58" r="5.05"/><circle cx="279.21" cy="22.07" r="5.05"/><circle cx="286.08" cy="21.83" r="5.05"/><circle cx="292.94" cy="21.65" r="5.05"/><circle cx="299.80" cy="21.53" r="5.05"/><circle cx="306.66" cy="21.57" r="5.05"/><circle cx="313.52" cy="22.33" r="5.05"/><circle cx="320.38" cy="23.71" r="5.05"/><circle cx="327.25" cy="26.23" r="5.05"/><circle cx="334.11" cy="30.77" r="5.05"/><circle cx="340.97" cy="36.53" r="5.05"/><circle cx="347.83" cy="43.05" r="5.05"/><circle cx="354.69" cy="47.05" r="5.05"/><circle cx="361.55" cy="49.91" r="5.05"/><circle cx="368.41" cy="52.81" r="5.05"/><circle cx="375.28" cy="55.23" r="5.05"/><circle cx="382.14" cy="57.39" r="5.05"/><circle cx="389.00" cy="59.92" r="5.05"/><circle cx="395.86" cy="62.92" r="5.05"/><circle cx="402.72" cy="66.41" r="5.05"/><circle cx="409.58" cy="71.21" r="5.05"/><circle cx="416.44" cy="80.44" r="5.05"/><circle cx="423.31" cy="92.27" r="5.05"/><circle cx="430.17" cy="110.26" r="5.05"/><circle cx="437.03" cy="132.75" r="5.05"/><circle cx="443.89" cy="162.57" r="5.05"/><circle cx="450.75" cy="201.39" r="5.05"/><circle cx="457.61" cy="255.83" r="5.05"/><circle cx="464.48" cy="340.10" r="5.05"/><circle cx="471.34" cy="480.70" r="5.05"/><circle cx="485.06" cy="406.14" r="5.05"/><circle cx="491.92" cy="288.26" r="5.05"/><circle cx="498.78" cy="223.17" r="5.05"/><circle cx="505.64" cy="140.56" r="5.05"/><circle cx="512.51" cy="73.58" r="5.05"/><circle cx="519.37" cy="40.44" r="5.05"/><circle cx="526.23" cy="27.42" r="5.05"/><circle cx="533.09" cy="24.00" r="5.05"/><circle cx="539.95" cy="22.07" r="5.05"/><circle cx="546.81" cy="21.35" r="5.05"/><circle cx="553.67" cy="20.96" r="5.05"/><circle cx="560.54" cy="20.66" r="5.05"/><circle cx="567.40" cy="20.45" r="5.05"/><circle cx="574.26" cy="20.34" r="5.05"/><circle cx="581.12" cy="20.32" r="5.05"/><circle cx="587.98" cy="20.35" r="5.05"/><circle cx="594.84" cy="20.41" r="5.05"/><circle cx="601.71" cy="20.50" r="5.05"/><circle cx="608.57" cy="20.61" r="5.05"/><circle cx="615.43" cy="20.75" r="5.05"/><circle cx="622.29" cy="20.89" r="5.05"/><circle cx="629.15" cy="21.05" r="5.05"/><circle cx="636.01" cy="21.22" r="5.05"/><circle cx="642.87" cy="21.39" r="5.05"/><circle cx="649.74" cy="21.56" r="5.05"/><circle cx="656.60" cy="21.76" r="5.05"/><circle cx="663.46" cy="22.00" r="5.05"/><circle cx="670.32" cy="22.27" r="5.05"/><circle cx="677.18" cy="22.57" r="5.05"/><circle cx="684.04" cy="22.88" r="5.05"/><circle cx="690.90" cy="23.20" r="5.05"/><circle cx="697.77" cy="23.52" r="5.05"/><circle cx="704.63" cy="23.84" r="5.05"/><circle cx="711.49" cy="24.15" r="5.05"/><circle cx="718.35" cy="24.43" r="5.05"/><circle cx="725.21" cy="24.71" r="5.05"/><circle cx="732.07" cy="24.97" r="5.05"/><circle cx="738.93" cy="25.25" r="5.05"/><circle cx="745.80" cy="25.54" r="5.05"/><circle cx="752.66" cy="25.87" r="5.05"/><circle cx="759.52" cy="26.22" r="5.05"/><circle cx="766.38" cy="26.71" r="5.05"/><circle cx="773.24" cy="27.66" r="5.05"/><circle cx="780.10" cy="29.08" r="5.05"/><circle cx="786.97" cy="30.97" r="5.05"/><circle cx="793.83" cy="33.34" r="5.05"/><circle cx="800.69" cy="36.89" r="5.05"/><circle cx="807.55" cy="40.44" r="5.05"/><circle cx="814.41" cy="43.99" r="5.05"/><circle cx="821.27" cy="48.01" r="5.05"/><circle cx="828.13" cy="51.80" r="5.05"/><circle cx="835.00" cy="56.06" r="5.05"/><circle cx="841.86" cy="61.03" r="5.05"/><circle cx="848.72" cy="66.00" r="5.05"/><circle cx="855.58" cy="72.15" r="5.05"/><circle cx="862.44" cy="78.07" r="5.05"/><circle cx="869.30" cy="85.17" r="5.05"/><circle cx="876.16" cy="93.22" r="5.05"/><circle cx="883.03" cy="103.16" r="5.05"/><circle cx="889.89" cy="113.81" r="5.05"/><circle cx="896.75" cy="125.65" r="5.05"/><circle cx="903.61" cy="134.41" r="5.05"/><circle cx="910.47" cy="152.16" r="5.05"/><circle cx="917.33" cy="170.39" r="5.05"/><circle cx="924.20" cy="186.95" r="5.05"/><circle cx="931.06" cy="204.23" r="5.05"/><circle cx="937.92" cy="228.38" r="5.05"/><circle cx="944.78" cy="252.52" r="5.05"/><circle cx="951.64" cy="282.11" r="5.05"/><circle cx="958.50" cy="318.09" r="5.05"/><circle cx="965.36" cy="360.93" r="5.05"/><circle cx="972.23" cy="416.32" r="5.05"/><circle cx="1013.39" cy="435.96" r="5.05"/><circle cx="1020.26" cy="378.68" r="5.05"/><circle cx="1027.12" cy="335.84" r="5.05"/><circle cx="1033.98" cy="300.81" r="5.05"/><circle cx="1040.84" cy="272.88" r="5.05"/><circle cx="1047.70" cy="248.73" r="5.05"/><circle cx="1054.56" cy="227.19" r="5.05"/><circle cx="1061.43" cy="211.10" r="5.05"/><circle cx="1068.29" cy="196.19" r="5.05"/><circle cx="1075.15" cy="181.75" r="5.05"/><circle cx="1082.01" cy="168.26" r="5.05"/><circle cx="1088.87" cy="158.79" r="5.05"/><circle cx="1095.73" cy="151.92" r="5.05"/><circle cx="1102.59" cy="143.64" r="5.05"/><circle cx="1109.46" cy="136.77" r="5.05"/><circle cx="1116.32" cy="130.15" r="5.05"/><circle cx="1123.18" cy="123.28" r="5.05"/><circle cx="1130.04" cy="117.84" r="5.05"/><circle cx="1136.90" cy="112.39" r="5.05"/><circle cx="1143.76" cy="108.37" r="5.05"/><circle cx="1150.62" cy="104.11" r="5.05"/><circle cx="1157.49" cy="100.09" r="5.05"/><circle cx="1164.35" cy="97.25" r="5.05"/><circle cx="1171.21" cy="94.64" r="5.05"/><circle cx="1178.07" cy="91.80" r="5.05"/><circle cx="1184.93" cy="89.20" r="5.05"/><circle cx="1191.79" cy="86.59" r="5.05"/><circle cx="1198.66" cy="83.75" r="5.05"/><circle cx="1205.52" cy="80.91" r="5.05"/><circle cx="1212.38" cy="78.78" r="5.05"/><circle cx="1219.24" cy="76.57" r="5.05"/><circle cx="1226.10" cy="74.90" r="5.05"/><circle cx="1232.96" cy="73.58" r="5.05"/><circle cx="1239.82" cy="72.36" r="5.05"/><circle cx="1246.69" cy="71.21" r="5.05"/><circle cx="1253.55" cy="69.97" r="5.05"/><circle cx="1260.41" cy="68.78" r="5.05"/><circle cx="1267.27" cy="67.86" r="5.05"/><circle cx="1274.13" cy="67.08" r="5.05"/><circle cx="1280.99" cy="66.44" r="5.05"/><circle cx="1287.86" cy="66.00" r="5.05"/><circle cx="1294.72" cy="65.74" r="5.05"/><circle cx="1301.58" cy="65.54" r="5.05"/><circle cx="1308.44" cy="65.36" r="5.05"/><circle cx="1315.30" cy="65.16" r="5.05"/><circle cx="1322.16" cy="64.97" r="5.05"/><circle cx="1329.02" cy="64.76" r="5.05"/><circle cx="1335.89" cy="64.47" r="5.05"/><circle cx="1342.75" cy="63.98" r="5.05"/><circle cx="1349.61" cy="63.42" r="5.05"/><circle cx="1356.47" cy="62.92" r="5.05"/><circle cx="1363.33" cy="62.47" r="5.05"/><circle cx="1370.19" cy="62.21" r="5.05"/><circle cx="1377.05" cy="62.69" r="5.05"/><circle cx="1383.92" cy="64.11" r="5.05"/><circle cx="1390.78" cy="65.94" r="5.05"/><circle cx="1397.64" cy="67.45" r="5.05"/><circle cx="1404.50" cy="66.27" r="5.05"/><circle cx="1411.36" cy="63.53" r="5.05"/><circle cx="1418.22" cy="60.86" r="5.05"/><circle cx="1425.09" cy="58.68" r="5.05"/><circle cx="1431.95" cy="56.83" r="5.05"/><circle cx="1438.81" cy="55.37" r="5.05"/><circle cx="1445.67" cy="54.17" r="5.05"/><circle cx="1452.53" cy="52.98" r="5.05"/><circle cx="1459.39" cy="51.97" r="5.05"/><circle cx="1466.25" cy="51.17" r="5.05"/><circle cx="1473.12" cy="50.05" r="5.05"/><circle cx="1479.98" cy="48.72" r="5.05"/><circle cx="1486.84" cy="47.51" r="5.05"/><circle cx="1493.70" cy="46.35" r="5.05"/><circle cx="121.40" cy="15.11" r="5.05"/><circle cx="128.26" cy="16.43" r="5.05"/><circle cx="135.12" cy="16.77" r="5.05"/><circle cx="141.98" cy="15.35" r="5.05"/><circle cx="148.85" cy="13.93" r="5.05"/><circle cx="155.71" cy="14.04" r="5.05"/><circle cx="162.57" cy="14.40" r="5.05"/><circle cx="169.43" cy="16.77" r="5.05"/><circle cx="176.29" cy="16.64" r="5.05"/><circle cx="183.15" cy="16.29" r="5.05"/><circle cx="190.02" cy="15.11" r="5.05"/><circle cx="196.88" cy="16.77" r="5.05"/><circle cx="203.74" cy="19.13" r="5.05"/><circle cx="210.60" cy="18.66" r="5.05"/><circle cx="217.46" cy="16.29" r="5.05"/><circle cx="224.32" cy="14.40" r="5.05"/><circle cx="231.18" cy="14.40" r="5.05"/><circle cx="238.05" cy="16.77" r="5.05"/><circle cx="244.91" cy="20.32" r="5.05"/><circle cx="251.77" cy="21.50" r="5.05"/><circle cx="258.63" cy="20.32" r="5.05"/><circle cx="265.49" cy="16.29" r="5.05"/><circle cx="272.35" cy="14.87" r="5.05"/><circle cx="279.21" cy="15.11" r="5.05"/><circle cx="286.08" cy="17.24" r="5.05"/><circle cx="292.94" cy="19.13" r="5.05"/><circle cx="299.80" cy="20.64" r="5.05"/><circle cx="306.66" cy="21.89" r="5.05"/><circle cx="313.52" cy="22.94" r="5.05"/><circle cx="320.38" cy="23.96" r="5.05"/><circle cx="327.25" cy="25.17" r="5.05"/><circle cx="334.11" cy="26.50" r="5.05"/><circle cx="340.97" cy="27.86" r="5.05"/><circle cx="347.83" cy="29.31" r="5.05"/><circle cx="354.69" cy="30.68" r="5.05"/><circle cx="361.55" cy="28.60" r="5.05"/><circle cx="368.41" cy="27.66" r="5.05"/><circle cx="375.28" cy="31.68" r="5.05"/><circle cx="382.14" cy="39.25" r="5.05"/><circle cx="389.00" cy="43.04" r="5.05"/><circle cx="395.86" cy="44.46" r="5.05"/><circle cx="402.72" cy="44.22" r="5.05"/><circle cx="409.58" cy="43.75" r="5.05"/><circle cx="416.44" cy="45.17" r="5.05"/><circle cx="423.31" cy="49.43" r="5.05"/><circle cx="430.17" cy="55.82" r="5.05"/><circle cx="437.03" cy="62.92" r="5.05"/><circle cx="443.89" cy="71.21" r="5.05"/><circle cx="450.75" cy="85.41" r="5.05"/><circle cx="457.61" cy="102.22" r="5.05"/><circle cx="464.48" cy="120.92" r="5.05"/><circle cx="471.34" cy="137.48" r="5.05"/><circle cx="478.20" cy="157.60" r="5.05"/><circle cx="485.06" cy="201.63" r="5.05"/><circle cx="491.92" cy="247.31" r="5.05"/><circle cx="498.78" cy="304.36" r="5.05"/><circle cx="505.64" cy="420.10" r="5.05"/><circle cx="526.23" cy="401.88" r="5.05"/><circle cx="533.09" cy="302.46" r="5.05"/><circle cx="539.95" cy="233.82" r="5.05"/><circle cx="546.81" cy="190.74" r="5.05"/><circle cx="553.67" cy="152.40" r="5.05"/><circle cx="560.54" cy="126.12" r="5.05"/><circle cx="567.40" cy="101.51" r="5.05"/><circle cx="574.26" cy="83.52" r="5.05"/><circle cx="581.12" cy="71.68" r="5.05"/><circle cx="587.98" cy="61.03" r="5.05"/><circle cx="594.84" cy="50.14" r="5.05"/><circle cx="601.71" cy="41.86" r="5.05"/><circle cx="608.57" cy="38.78" r="5.05"/><circle cx="615.43" cy="38.07" r="5.05"/><circle cx="622.29" cy="38.78" r="5.05"/><circle cx="629.15" cy="40.44" r="5.05"/><circle cx="636.01" cy="44.70" r="5.05"/><circle cx="642.87" cy="48.01" r="5.05"/><circle cx="649.74" cy="51.80" r="5.05"/><circle cx="656.60" cy="54.19" r="5.05"/><circle cx="663.46" cy="56.53" r="5.05"/><circle cx="670.32" cy="60.08" r="5.05"/><circle cx="677.18" cy="63.63" r="5.05"/><circle cx="684.04" cy="67.66" r="5.05"/><circle cx="690.90" cy="71.92" r="5.05"/><circle cx="697.77" cy="77.84" r="5.05"/><circle cx="704.63" cy="83.75" r="5.05"/><circle cx="711.49" cy="90.38" r="5.05"/><circle cx="718.35" cy="97.25" r="5.05"/><circle cx="725.21" cy="105.53" r="5.05"/><circle cx="732.07" cy="116.42" r="5.05"/><circle cx="738.93" cy="127.31" r="5.05"/><circle cx="745.80" cy="139.61" r="5.05"/><circle cx="752.66" cy="150.50" r="5.05"/><circle cx="759.52" cy="162.57" r="5.05"/><circle cx="766.38" cy="174.88" r="5.05"/><circle cx="773.24" cy="195.48" r="5.05"/><circle cx="780.10" cy="221.28" r="5.05"/><circle cx="786.97" cy="246.37" r="5.05"/><circle cx="793.83" cy="273.82" r="5.05"/><circle cx="800.69" cy="306.49" r="5.05"/><circle cx="807.55" cy="347.44" r="5.05"/><circle cx="814.41" cy="404.95" r="5.05"/><circle cx="821.27" cy="468.63" r="5.05"/><circle cx="841.86" cy="483.07" r="5.05"/><circle cx="848.72" cy="425.31" r="5.05"/><circle cx="855.58" cy="366.61" r="5.05"/><circle cx="862.44" cy="324.71" r="5.05"/><circle cx="869.30" cy="289.92" r="5.05"/><circle cx="876.16" cy="263.41" r="5.05"/><circle cx="883.03" cy="239.50" r="5.05"/><circle cx="889.89" cy="220.09" r="5.05"/><circle cx="896.75" cy="202.58" r="5.05"/><circle cx="903.61" cy="186.48" r="5.05"/><circle cx="910.47" cy="172.04" r="5.05"/><circle cx="917.33" cy="158.31" r="5.05"/><circle cx="924.20" cy="147.43" r="5.05"/><circle cx="931.06" cy="137.96" r="5.05"/><circle cx="937.92" cy="128.49" r="5.05"/><circle cx="944.78" cy="121.15" r="5.05"/><circle cx="951.64" cy="112.87" r="5.05"/><circle cx="958.50" cy="106.71" r="5.05"/><circle cx="965.36" cy="102.45" r="5.05"/><circle cx="972.23" cy="99.61" r="5.05"/><circle cx="979.09" cy="97.25" r="5.05"/><circle cx="985.95" cy="94.88" r="5.05"/><circle cx="992.81" cy="92.04" r="5.05"/><circle cx="999.67" cy="89.20" r="5.05"/><circle cx="1006.53" cy="86.59" r="5.05"/><circle cx="1013.39" cy="84.23" r="5.05"/><circle cx="1020.26" cy="82.10" r="5.05"/><circle cx="1027.12" cy="80.20" r="5.05"/><circle cx="1033.98" cy="78.76" r="5.05"/><circle cx="1040.84" cy="77.35" r="5.05"/><circle cx="1047.70" cy="75.85" r="5.05"/><circle cx="1054.56" cy="74.58" r="5.05"/><circle cx="1061.43" cy="73.87" r="5.05"/><circle cx="1068.29" cy="73.43" r="5.05"/><circle cx="1075.15" cy="73.10" r="5.05"/><circle cx="1082.01" cy="72.86" r="5.05"/><circle cx="1088.87" cy="72.69" r="5.05"/><circle cx="1095.73" cy="72.56" r="5.05"/><circle cx="1102.59" cy="72.44" r="5.05"/><circle cx="1109.46" cy="72.30" r="5.05"/><circle cx="1116.32" cy="72.17" r="5.05"/><circle cx="1123.18" cy="72.02" r="5.05"/><circle cx="1130.04" cy="71.86" r="5.05"/><circle cx="1136.90" cy="71.69" r="5.05"/><circle cx="1143.76" cy="71.49" r="5.05"/><circle cx="1150.62" cy="71.21" r="5.05"/><circle cx="1157.49" cy="70.74" r="5.05"/><circle cx="1164.35" cy="70.04" r="5.05"/><circle cx="1171.21" cy="69.16" r="5.05"/><circle cx="1178.07" cy="67.92" r="5.05"/><circle cx="1184.93" cy="66.47" r="5.05"/><circle cx="1191.79" cy="65.73" r="5.05"/><circle cx="1198.66" cy="65.05" r="5.05"/><circle cx="1205.52" cy="64.31" r="5.05"/><circle cx="1212.38" cy="63.59" r="5.05"/><circle cx="1219.24" cy="62.92" r="5.05"/><circle cx="1226.10" cy="62.36" r="5.05"/><circle cx="1232.96" cy="61.84" r="5.05"/><circle cx="1239.82" cy="61.27" r="5.05"/><circle cx="1246.69" cy="60.55" r="5.05"/><circle cx="1253.55" cy="59.74" r="5.05"/><circle cx="1260.41" cy="58.92" r="5.05"/><circle cx="1267.27" cy="58.20" r="5.05"/><circle cx="1274.13" cy="57.57" r="5.05"/><circle cx="1280.99" cy="56.96" r="5.05"/><circle cx="1287.86" cy="56.30" r="5.05"/><circle cx="1294.72" cy="55.51" r="5.05"/><circle cx="1301.58" cy="54.65" r="5.05"/><circle cx="1308.44" cy="53.77" r="5.05"/><circle cx="1315.30" cy="52.95" r="5.05"/><circle cx="1322.16" cy="52.14" r="5.05"/><circle cx="1329.02" cy="51.34" r="5.05"/><circle cx="1335.89" cy="50.61" r="5.05"/><circle cx="1342.75" cy="49.94" r="5.05"/><circle cx="1349.61" cy="49.31" r="5.05"/><circle cx="1356.47" cy="48.73" r="5.05"/><circle cx="1363.33" cy="48.25" r="5.05"/><circle cx="1370.19" cy="47.79" r="5.05"/><circle cx="1377.05" cy="47.54" r="5.05"/><circle cx="1383.92" cy="47.70" r="5.05"/><circle cx="1390.78" cy="47.92" r="5.05"/><circle cx="1397.64" cy="48.17" r="5.05"/><circle cx="1404.50" cy="48.48" r="5.05"/><circle cx="1411.36" cy="48.91" r="5.05"/><circle cx="1418.22" cy="49.46" r="5.05"/><circle cx="1425.09" cy="50.11" r="5.05"/><circle cx="1431.95" cy="50.95" r="5.05"/><circle cx="1438.81" cy="52.48" r="5.05"/><circle cx="1445.67" cy="54.88" r="5.05"/><circle cx="1452.53" cy="57.38" r="5.05"/><circle cx="1459.39" cy="60.60" r="5.05"/><circle cx="1466.25" cy="64.75" r="5.05"/><circle cx="1473.12" cy="69.51" r="5.05"/><circle cx="1479.98" cy="75.48" r="5.05"/><circle cx="1486.84" cy="80.54" r="5.05"/><circle cx="1493.70" cy="84.46" r="5.05"/><circle cx="121.40" cy="23.87" r="5.05"/><circle cx="128.26" cy="22.02" r="5.05"/><circle cx="135.12" cy="21.50" r="5.05"/><circle cx="141.98" cy="23.28" r="5.05"/><circle cx="148.85" cy="25.05" r="5.05"/><circle cx="155.71" cy="24.68" r="5.05"/><circle cx="162.57" cy="23.87" r="5.05"/><circle cx="169.43" cy="22.09" r="5.05"/><circle cx="176.29" cy="20.32" r="5.05"/><circle cx="183.15" cy="19.50" r="5.05"/><circle cx="190.02" cy="19.13" r="5.05"/><circle cx="196.88" cy="20.12" r="5.05"/><circle cx="203.74" cy="21.50" r="5.05"/><circle cx="210.60" cy="22.29" r="5.05"/><circle cx="217.46" cy="22.68" r="5.05"/><circle cx="224.32" cy="22.09" r="5.05"/><circle cx="231.18" cy="21.50" r="5.05"/><circle cx="238.05" cy="21.50" r="5.05"/><circle cx="244.91" cy="21.50" r="5.05"/><circle cx="251.77" cy="21.50" r="5.05"/><circle cx="258.63" cy="21.50" r="5.05"/><circle cx="265.49" cy="19.13" r="5.05"/><circle cx="272.35" cy="16.77" r="5.05"/><circle cx="279.21" cy="17.66" r="5.05"/><circle cx="286.08" cy="19.13" r="5.05"/><circle cx="292.94" cy="20.56" r="5.05"/><circle cx="299.80" cy="21.88" r="5.05"/><circle cx="306.66" cy="22.17" r="5.05"/><circle cx="313.52" cy="21.78" r="5.05"/><circle cx="320.38" cy="21.50" r="5.05"/><circle cx="327.25" cy="22.92" r="5.05"/><circle cx="334.11" cy="26.23" r="5.05"/><circle cx="340.97" cy="30.97" r="5.05"/><circle cx="347.83" cy="34.48" r="5.05"/><circle cx="354.69" cy="37.47" r="5.05"/><circle cx="361.55" cy="40.44" r="5.05"/><circle cx="368.41" cy="44.51" r="5.05"/><circle cx="375.28" cy="47.24" r="5.05"/><circle cx="382.14" cy="49.18" r="5.05"/><circle cx="389.00" cy="51.57" r="5.05"/><circle cx="395.86" cy="54.17" r="5.05"/><circle cx="402.72" cy="56.65" r="5.05"/><circle cx="409.58" cy="58.84" r="5.05"/><circle cx="416.44" cy="60.79" r="5.05"/><circle cx="423.31" cy="64.23" r="5.05"/><circle cx="430.17" cy="68.30" r="5.05"/><circle cx="437.03" cy="72.39" r="5.05"/><circle cx="443.89" cy="75.47" r="5.05"/><circle cx="450.75" cy="77.13" r="5.05"/><circle cx="457.61" cy="80.68" r="5.05"/><circle cx="464.48" cy="90.14" r="5.05"/><circle cx="471.34" cy="105.53" r="5.05"/><circle cx="478.20" cy="163.99" r="5.05"/><circle cx="485.06" cy="265.30" r="5.05"/><circle cx="498.78" cy="271.22" r="5.05"/><circle cx="505.64" cy="171.57" r="5.05"/><circle cx="512.51" cy="137.25" r="5.05"/><circle cx="519.37" cy="104.35" r="5.05"/><circle cx="526.23" cy="77.13" r="5.05"/><circle cx="533.09" cy="64.11" r="5.05"/><circle cx="539.95" cy="51.09" r="5.05"/><circle cx="546.81" cy="37.83" r="5.05"/><circle cx="553.67" cy="30.97" r="5.05"/><circle cx="560.54" cy="27.47" r="5.05"/><circle cx="567.40" cy="25.05" r="5.05"/><circle cx="574.26" cy="22.89" r="5.05"/><circle cx="581.12" cy="21.01" r="5.05"/><circle cx="587.98" cy="19.79" r="5.05"/><circle cx="594.84" cy="19.40" r="5.05"/><circle cx="601.71" cy="19.17" r="5.05"/><circle cx="608.57" cy="19.02" r="5.05"/><circle cx="615.43" cy="18.88" r="5.05"/><circle cx="622.29" cy="18.73" r="5.05"/><circle cx="629.15" cy="18.50" r="5.05"/><circle cx="636.01" cy="18.20" r="5.05"/><circle cx="642.87" cy="17.89" r="5.05"/><circle cx="649.74" cy="17.63" r="5.05"/><circle cx="656.60" cy="17.49" r="5.05"/><circle cx="663.46" cy="17.50" r="5.05"/><circle cx="670.32" cy="17.60" r="5.05"/><circle cx="677.18" cy="17.74" r="5.05"/><circle cx="684.04" cy="17.87" r="5.05"/><circle cx="690.90" cy="17.94" r="5.05"/><circle cx="697.77" cy="17.95" r="5.05"/><circle cx="704.63" cy="17.95" r="5.05"/><circle cx="711.49" cy="17.95" r="5.05"/><circle cx="718.35" cy="17.95" r="5.05"/><circle cx="725.21" cy="17.95" r="5.05"/><circle cx="732.07" cy="17.95" r="5.05"/><circle cx="738.93" cy="17.95" r="5.05"/><circle cx="745.80" cy="17.95" r="5.05"/><circle cx="752.66" cy="17.95" r="5.05"/><circle cx="759.52" cy="17.95" r="5.05"/><circle cx="766.38" cy="18.12" r="5.05"/><circle cx="773.24" cy="18.66" r="5.05"/><circle cx="780.10" cy="19.22" r="5.05"/><circle cx="786.97" cy="19.78" r="5.05"/><circle cx="793.83" cy="20.32" r="5.05"/><circle cx="800.69" cy="21.03" r="5.05"/><circle cx="807.55" cy="21.97" r="5.05"/><circle cx="814.41" cy="23.39" r="5.05"/><circle cx="821.27" cy="25.05" r="5.05"/><circle cx="828.13" cy="26.71" r="5.05"/><circle cx="835.00" cy="28.13" r="5.05"/><circle cx="841.86" cy="29.55" r="5.05"/><circle cx="848.72" cy="31.68" r="5.05"/><circle cx="855.58" cy="33.81" r="5.05"/><circle cx="862.44" cy="35.94" r="5.05"/><circle cx="869.30" cy="38.07" r="5.05"/><circle cx="876.16" cy="40.67" r="5.05"/><circle cx="883.03" cy="43.99" r="5.05"/><circle cx="889.89" cy="47.77" r="5.05"/><circle cx="896.75" cy="51.80" r="5.05"/><circle cx="903.61" cy="55.35" r="5.05"/><circle cx="910.47" cy="58.66" r="5.05"/><circle cx="917.33" cy="61.74" r="5.05"/><circle cx="924.20" cy="65.29" r="5.05"/><circle cx="931.06" cy="69.79" r="5.05"/><circle cx="937.92" cy="74.76" r="5.05"/><circle cx="944.78" cy="80.68" r="5.05"/><circle cx="951.64" cy="86.59" r="5.05"/><circle cx="958.50" cy="91.33" r="5.05"/><circle cx="965.36" cy="98.67" r="5.05"/><circle cx="972.23" cy="104.58" r="5.05"/><circle cx="979.09" cy="112.87" r="5.05"/><circle cx="985.95" cy="119.97" r="5.05"/><circle cx="992.81" cy="127.31" r="5.05"/><circle cx="999.67" cy="136.97" r="5.05"/><circle cx="1006.53" cy="146.24" r="5.05"/><circle cx="1013.39" cy="154.53" r="5.05"/><circle cx="1020.26" cy="163.99" r="5.05"/><circle cx="1027.12" cy="173.70" r="5.05"/><circle cx="1033.98" cy="189.56" r="5.05"/><circle cx="1040.84" cy="203.76" r="5.05"/><circle cx="1047.70" cy="224.12" r="5.05"/><circle cx="1054.56" cy="244.47" r="5.05"/><circle cx="1061.43" cy="266.96" r="5.05"/><circle cx="1068.29" cy="292.76" r="5.05"/><circle cx="1075.15" cy="323.53" r="5.05"/><circle cx="1082.01" cy="359.98" r="5.05"/><circle cx="1088.87" cy="403.77" r="5.05"/><circle cx="1095.73" cy="458.45" r="5.05"/><circle cx="1130.04" cy="439.51" r="5.05"/><circle cx="1136.90" cy="386.49" r="5.05"/><circle cx="1143.76" cy="344.12" r="5.05"/><circle cx="1150.62" cy="308.85" r="5.05"/><circle cx="1157.49" cy="279.50" r="5.05"/><circle cx="1164.35" cy="254.18" r="5.05"/><circle cx="1171.21" cy="232.40" r="5.05"/><circle cx="1178.07" cy="211.81" r="5.05"/><circle cx="1184.93" cy="195.95" r="5.05"/><circle cx="1191.79" cy="180.56" r="5.05"/><circle cx="1198.66" cy="166.60" r="5.05"/><circle cx="1205.52" cy="154.05" r="5.05"/><circle cx="1212.38" cy="143.40" r="5.05"/><circle cx="1219.24" cy="135.12" r="5.05"/><circle cx="1226.10" cy="125.65" r="5.05"/><circle cx="1232.96" cy="118.31" r="5.05"/><circle cx="1239.82" cy="111.21" r="5.05"/><circle cx="1246.69" cy="104.11" r="5.05"/><circle cx="1253.55" cy="99.38" r="5.05"/><circle cx="1260.41" cy="93.22" r="5.05"/><circle cx="1267.27" cy="88.49" r="5.05"/><circle cx="1274.13" cy="84.90" r="5.05"/><circle cx="1280.99" cy="81.39" r="5.05"/><circle cx="1287.86" cy="77.84" r="5.05"/><circle cx="1294.72" cy="74.18" r="5.05"/><circle cx="1301.58" cy="71.49" r="5.05"/><circle cx="1308.44" cy="69.04" r="5.05"/><circle cx="1315.30" cy="67.32" r="5.05"/><circle cx="1322.16" cy="66.47" r="5.05"/><circle cx="1329.02" cy="66.47" r="5.05"/><circle cx="1335.89" cy="67.20" r="5.05"/><circle cx="1342.75" cy="70.70" r="5.05"/><circle cx="1349.61" cy="74.66" r="5.05"/><circle cx="1356.47" cy="79.26" r="5.05"/><circle cx="1363.33" cy="86.36" r="5.05"/><circle cx="1370.19" cy="93.69" r="5.05"/><circle cx="1377.05" cy="103.16" r="5.05"/><circle cx="1383.92" cy="110.74" r="5.05"/><circle cx="1390.78" cy="118.07" r="5.05"/><circle cx="1397.64" cy="125.65" r="5.05"/><circle cx="1404.50" cy="133.22" r="5.05"/><circle cx="1411.36" cy="142.45" r="5.05"/><circle cx="1418.22" cy="151.92" r="5.05"/><circle cx="1425.09" cy="161.62" r="5.05"/><circle cx="1431.95" cy="169.75" r="5.05"/><circle cx="1438.81" cy="175.62" r="5.05"/><circle cx="1445.67" cy="178.71" r="5.05"/><circle cx="1452.53" cy="180.09" r="5.05"/><circle cx="1459.39" cy="177.49" r="5.05"/><circle cx="1466.25" cy="172.52" r="5.05"/><circle cx="1473.12" cy="168.02" r="5.05"/><circle cx="1479.98" cy="163.28" r="5.05"/><circle cx="1486.84" cy="155.71" r="5.05"/><circle cx="1493.70" cy="145.77" r="5.05"/><circle cx="551.62" cy="25.07" r="5.05"/><circle cx="558.48" cy="25.83" r="5.05"/><circle cx="565.34" cy="26.74" r="5.05"/><circle cx="572.20" cy="27.76" r="5.05"/><circle cx="579.06" cy="29.13" r="5.05"/><circle cx="585.92" cy="31.79" r="5.05"/><circle cx="592.79" cy="34.84" r="5.05"/><circle cx="599.65" cy="37.36" r="5.05"/><circle cx="606.51" cy="39.55" r="5.05"/><circle cx="613.37" cy="41.19" r="5.05"/><circle cx="620.23" cy="42.87" r="5.05"/><circle cx="627.09" cy="45.27" r="5.05"/><circle cx="633.95" cy="48.84" r="5.05"/><circle cx="640.82" cy="52.38" r="5.05"/><circle cx="647.68" cy="55.45" r="5.05"/><circle cx="654.54" cy="58.51" r="5.05"/><circle cx="661.40" cy="60.87" r="5.05"/><circle cx="668.26" cy="63.26" r="5.05"/><circle cx="675.12" cy="67.32" r="5.05"/><circle cx="681.98" cy="71.35" r="5.05"/><circle cx="688.85" cy="75.63" r="5.05"/><circle cx="695.71" cy="80.79" r="5.05"/><circle cx="702.57" cy="83.13" r="5.05"/><circle cx="709.43" cy="87.28" r="5.05"/><circle cx="716.29" cy="94.02" r="5.05"/><circle cx="781.36" cy="28.78" r="5.05"/><circle cx="788.22" cy="30.05" r="5.05"/><circle cx="795.08" cy="31.90" r="5.05"/><circle cx="801.95" cy="34.74" r="5.05"/><circle cx="808.81" cy="38.12" r="5.05"/><circle cx="815.67" cy="41.33" r="5.05"/><circle cx="822.53" cy="44.72" r="5.05"/><circle cx="829.39" cy="48.15" r="5.05"/><circle cx="836.25" cy="52.26" r="5.05"/><circle cx="843.12" cy="57.09" r="5.05"/><circle cx="849.98" cy="62.31" r="5.05"/><circle cx="856.84" cy="68.24" r="5.05"/><circle cx="863.70" cy="76.08" r="5.05"/><circle cx="870.56" cy="84.38" r="5.05"/><circle cx="793.83" cy="20.32" r="5.05"/><circle cx="800.69" cy="20.79" r="5.05"/><circle cx="807.55" cy="21.26" r="5.05"/><circle cx="814.41" cy="21.97" r="5.05"/><circle cx="821.27" cy="22.92" r="5.05"/><circle cx="828.13" cy="23.87" r="5.05"/><circle cx="835.00" cy="24.58" r="5.05"/><circle cx="841.86" cy="25.29" r="5.05"/><circle cx="848.72" cy="26.95" r="5.05"/><circle cx="855.58" cy="29.08" r="5.05"/><circle cx="862.44" cy="31.21" r="5.05"/><circle cx="869.30" cy="33.34" r="5.05"/><circle cx="876.16" cy="36.41" r="5.05"/><circle cx="883.03" cy="39.49" r="5.05"/><circle cx="889.89" cy="42.80" r="5.05"/><circle cx="896.75" cy="47.06" r="5.05"/><circle cx="903.61" cy="52.27" r="5.05"/><circle cx="910.47" cy="57.72" r="5.05"/><circle cx="917.33" cy="61.74" r="5.05"/><circle cx="924.20" cy="65.29" r="5.05"/></g>
<rect x="121.4" y="14.4" width="1372.3" height="473.40000000000003" fill="none" stroke="#262626" stroke-width="1.7"/>
<path d="M121.40,487.8V473.60M121.40,14.4V28.60M350.12,487.8V473.60M350.12,14.4V28.60M578.83,487.8V473.60M578.83,14.4V28.60M807.55,487.8V473.60M807.55,14.4V28.60M1036.27,487.8V473.60M1036.27,14.4V28.60M1264.98,487.8V473.60M1264.98,14.4V28.60M1493.70,487.8V473.60M1493.70,14.4V28.60M121.4,14.40H135.60M1493.7,14.40H1479.50M121.4,132.75H135.60M1493.7,132.75H1479.50M121.4,251.10H135.60M1493.7,251.10H1479.50M121.4,369.45H135.60M1493.7,369.45H1479.50M121.4,487.80H135.60M1493.7,487.80H1479.50" stroke="#262626" stroke-width="1.8" fill="none"/>
<g font-family="'Liberation Serif', serif" font-size="36" fill="#262626"><text x="120.00" y="533.8" text-anchor="middle">1</text><text x="348.72" y="533.8" text-anchor="middle">2</text><text x="577.43" y="533.8" text-anchor="middle">3</text><text x="806.15" y="533.8" text-anchor="middle">4</text><text x="1034.87" y="533.8" text-anchor="middle">5</text><text x="1263.58" y="533.8" text-anchor="middle">6</text><text x="1492.30" y="533.8" text-anchor="middle">7</text><text x="108.3" y="27.40" text-anchor="end">0</text><text x="108.3" y="145.75" text-anchor="end">-5</text><text x="108.3" y="264.10" text-anchor="end">-10</text><text x="108.3" y="382.45" text-anchor="end">-15</text><text x="108.3" y="500.80" text-anchor="end">-20</text></g>
<text x="807" y="579" text-anchor="middle" font-family="'Liberation Serif', serif" font-size="39.6" fill="#262626">Frequency [GHz]</text>
<g transform="translate(27.5,324) rotate(-90)" font-family="'Liberation Serif', serif" font-size="39.6" fill="#262626"><text x="-4" y="0">|</text><text x="5.2" y="0" font-style="italic" transform="scale(1.12,1)">S</text><text x="26.6" y="18.7" font-size="30">11</text><text x="59.2" y="0">|</text><text x="76.9" y="0" textLength="70.5" lengthAdjust="spacingAndGlyphs">[dB]</text></g>
</svg></body></html>
